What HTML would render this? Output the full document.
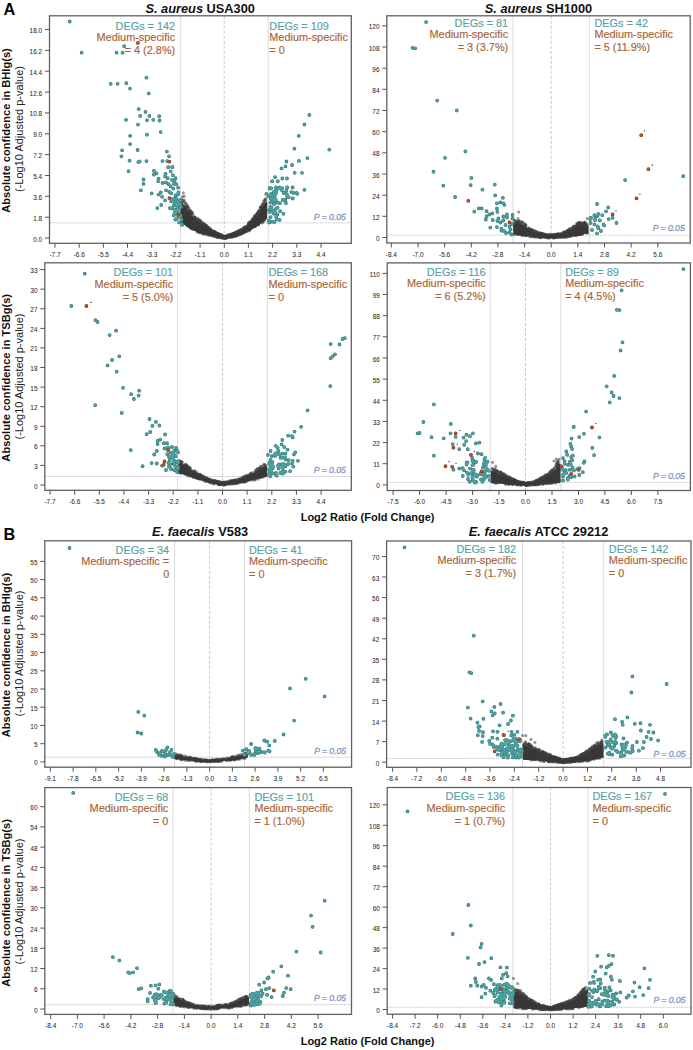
<!DOCTYPE html>
<html><head><meta charset="utf-8"><style>
html,body{margin:0;padding:0;background:#fff;width:693px;height:1050px;overflow:hidden}
svg{display:block}
text{font-family:"Liberation Sans", sans-serif}
</style></head><body>
<svg width="693" height="1050" viewBox="0 0 693 1050">
<g>
<clipPath id="cA1"><rect x="49.5" y="15.8" width="301.8" height="227.5"/></clipPath>
<g clip-path="url(#cA1)">
<line x1="180.3" y1="15.8" x2="180.3" y2="243.3" stroke="#dadada" stroke-width="1"/>
<line x1="268.2" y1="15.8" x2="268.2" y2="243.3" stroke="#dadada" stroke-width="1"/>
<line x1="224.2" y1="15.8" x2="224.2" y2="243.3" stroke="#c8c8c8" stroke-width="1" stroke-dasharray="3,2"/>
<line x1="49.5" y1="222.9" x2="351.3" y2="222.9" stroke="#d2d2d2" stroke-width="1" stroke-dasharray="2,0.6"/>
<text x="175.2" y="29.5" fill="#56a2a8" font-size="10.9" text-anchor="end" stroke="#56a2a8" stroke-width="0.15">DEGs = 142</text>
<text x="175.2" y="40.9" fill="#a76436" font-size="10.9" text-anchor="end" stroke="#a76436" stroke-width="0.15">Medium-specific</text>
<text x="175.2" y="53.9" fill="#a76436" font-size="10.9" text-anchor="end" stroke="#a76436" stroke-width="0.15">= 4 (2.8%)</text>
<text x="269.3" y="29.5" fill="#56a2a8" font-size="10.9" stroke="#56a2a8" stroke-width="0.15">DEGs = 109</text>
<text x="269.3" y="40.9" fill="#a76436" font-size="10.9" stroke="#a76436" stroke-width="0.15">Medium-specific</text>
<text x="269.3" y="53.9" fill="#a76436" font-size="10.9" stroke="#a76436" stroke-width="0.15">= 0</text>
<text x="345.8" y="219.5" fill="#889dc4" stroke="#889dc4" stroke-width="0.35" font-size="8.6" font-style="italic" text-anchor="end">P = 0.05</text>
<path d="M180.3 199.7 L180.6 200.0 L180.8 200.3 L181.1 200.7 L181.3 201.0 L182.4 202.7 L183.6 204.4 L184.7 206.1 L185.8 207.8 L187.1 209.6 L188.4 211.5 L189.7 213.4 L191.0 215.2 L193.2 217.1 L195.3 219.0 L197.4 220.9 L199.6 222.9 L201.8 224.3 L203.9 225.8 L206.1 227.3 L208.3 228.8 L209.6 229.6 L210.9 230.3 L212.2 231.1 L213.5 231.9 L214.4 232.4 L215.2 232.9 L216.1 233.4 L217.0 233.9 L218.9 234.6 L220.8 235.4 L222.8 236.1 L224.7 236.9 L227.1 236.1 L229.5 235.3 L231.9 234.5 L234.3 233.7 L235.2 233.4 L236.0 233.0 L236.8 232.6 L237.7 232.3 L239.0 231.6 L240.3 231.0 L241.7 230.3 L243.0 229.7 L245.2 227.8 L247.3 225.9 L249.4 224.0 L251.6 222.1 L253.3 220.1 L255.1 218.2 L256.8 216.2 L258.5 214.2 L259.4 212.8 L260.2 211.3 L261.1 209.8 L262.0 208.4 L262.4 207.6 L262.9 206.9 L263.3 206.2 L263.7 205.4 L264.6 204.3 L265.4 203.1 L266.3 201.9 L267.2 200.7 L267.2 218.4 L266.3 219.1 L265.4 219.8 L264.6 220.6 L263.7 221.3 L263.3 221.6 L262.9 222.0 L262.4 222.3 L262.0 222.7 L261.1 223.3 L260.2 223.9 L259.4 224.4 L258.5 225.0 L256.8 226.2 L255.1 227.3 L253.3 228.5 L251.6 229.6 L249.4 230.5 L247.3 231.5 L245.2 232.4 L243.0 233.4 L241.7 234.0 L240.3 234.5 L239.0 235.1 L237.7 235.7 L236.8 235.9 L236.0 236.0 L235.2 236.2 L234.3 236.4 L231.9 236.9 L229.5 237.3 L227.1 237.8 L224.7 238.3 L222.8 238.0 L220.8 237.7 L218.9 237.4 L217.0 237.1 L216.1 236.9 L215.2 236.8 L214.4 236.6 L213.5 236.5 L212.2 236.2 L210.9 235.9 L209.6 235.5 L208.3 235.2 L206.1 234.7 L203.9 234.2 L201.8 233.6 L199.6 233.1 L197.4 232.2 L195.3 231.3 L193.2 230.5 L191.0 229.6 L189.7 228.7 L188.4 227.8 L187.1 226.8 L185.8 225.9 L184.7 225.1 L183.6 224.3 L182.4 223.5 L181.3 222.7 L181.1 222.7 L180.8 222.7 L180.6 222.7 L180.3 222.7Z" fill="#3b3b3b"/><path d="M243.8 228.2h0M254.5 220.4h0M243.6 229.8h0M233.4 233.4h0M209.1 229.7h0M252.2 220.3h0M208.1 227.8h0M183.1 218.9h0M249.7 222.0h0M240.4 231.8h0M234.4 233.1h0M235.7 233.1h0M188.5 217.1h0M193.4 227.1h0M206.0 227.2h0M263.3 209.7h0M229.1 236.0h0M250.4 221.7h0M239.6 233.2h0M213.2 233.5h0M244.1 228.3h0M203.4 232.6h0M263.3 218.3h0M229.6 237.0h0M209.1 231.2h0M198.0 229.3h0M264.5 203.0h0M246.2 228.9h0M237.8 233.9h0M233.5 233.9h0M263.2 209.1h0M195.8 222.8h0M205.5 226.9h0M265.1 199.8h0M264.2 203.2h0M220.0 236.6h0M247.8 226.1h0M258.9 211.7h0M228.0 236.0h0M246.5 230.1h0M217.6 235.5h0M199.5 223.6h0M241.4 231.1h0M202.5 228.8h0M196.4 219.6h0M227.7 235.7h0M200.1 222.8h0M258.8 217.9h0M249.3 226.5h0M186.5 217.7h0M197.1 227.9h0M250.5 225.1h0M249.2 226.9h0M241.8 230.8h0M194.2 217.5h0M262.2 210.3h0M194.8 217.2h0M220.5 234.5h0M249.1 228.6h0M243.3 231.3h0M196.7 224.8h0M224.7 237.0h0M237.3 232.9h0M194.9 218.1h0M198.2 219.0h0M192.0 212.4h0M191.9 214.5h0M264.9 200.1h0M193.6 222.9h0M262.6 209.6h0M216.1 234.6h0M243.4 230.0h0M226.0 237.5h0M200.2 223.1h0M208.9 234.8h0M260.4 207.5h0M255.8 214.4h0M241.8 233.2h0M237.7 232.0h0M189.1 208.2h0M245.4 230.5h0M223.7 237.8h0M261.9 218.4h0M200.2 225.0h0M218.2 235.4h0M185.1 216.0h0M251.7 221.4h0M220.0 234.9h0M246.0 227.0h0M184.9 213.6h0M213.7 231.7h0M265.4 204.1h0M214.7 231.6h0M208.7 231.7h0M231.8 237.0h0M205.2 226.8h0M229.3 235.1h0M234.9 236.0h0M195.6 220.2h0M214.6 234.4h0M256.9 218.0h0M234.5 233.9h0M207.6 231.3h0M223.2 236.4h0M240.3 231.2h0M201.5 229.8h0M246.7 228.0h0M242.0 232.0h0M192.1 222.0h0M234.9 234.6h0M209.4 235.3h0M264.4 211.0h0M208.8 235.3h0M256.9 221.1h0M186.4 212.2h0M183.8 218.5h0M226.1 236.2h0M241.1 232.8h0M211.4 233.6h0M190.4 225.4h0M208.6 228.8h0M261.6 215.9h0M253.9 220.5h0M232.3 234.8h0M243.9 231.1h0M260.7 209.0h0M254.6 224.6h0M227.9 235.3h0M214.3 231.7h0M217.9 237.4h0M192.4 227.3h0M193.9 219.2h0M205.6 225.7h0M216.9 235.7h0M217.0 235.4h0M238.0 233.8h0M263.5 201.6h0M199.9 220.2h0M202.9 224.3h0M226.8 236.6h0M247.2 229.4h0M263.5 209.5h0M194.7 221.4h0M190.9 212.1h0M244.0 231.3h0M227.8 236.6h0M263.2 221.7h0M225.1 236.6h0M188.7 207.5h0M228.2 235.2h0M259.0 223.1h0M191.3 213.8h0M226.8 235.9h0M214.3 232.0h0M214.3 233.1h0M230.1 236.4h0M222.6 237.4h0M261.8 208.0h0M257.5 213.1h0M226.9 237.3h0M254.1 217.9h0M212.1 230.7h0M190.8 211.6h0M237.8 235.4h0M226.0 237.2h0M192.9 223.9h0M231.4 234.7h0M183.5 222.9h0M251.9 224.7h0M201.3 222.4h0M203.0 223.7h0M202.2 230.4h0M210.1 229.4h0M258.8 222.0h0M193.0 217.7h0M210.9 235.5h0M200.3 231.9h0M220.3 235.5h0M196.1 219.7h0" stroke="#383838" stroke-opacity="0.55" stroke-width="3.1" stroke-linecap="round" fill="none"/><path d="M243.8 229.1h0M234.3 234.9h0M218.7 234.1h0M203.1 233.9h0M198.3 225.5h0M241.6 229.4h0M264.5 209.6h0M219.9 237.6h0M239.3 233.9h0M233.4 233.9h0M213.3 232.6h0M199.5 220.8h0M228.0 235.6h0M225.1 236.7h0M235.5 233.9h0M229.9 236.7h0M239.9 234.5h0M221.8 236.9h0M211.5 231.3h0M226.2 237.7h0M257.8 220.3h0M251.8 224.6h0M224.2 236.6h0M197.1 228.1h0M225.0 237.3h0M224.8 238.5h0M203.3 223.6h0M242.6 233.2h0M237.2 233.1h0M203.2 228.7h0M265.6 204.7h0M233.1 236.5h0M206.5 234.8h0M187.7 207.3h0M232.5 236.4h0M230.7 235.8h0M211.9 233.9h0M184.8 222.9h0M213.0 233.0h0M217.4 235.9h0M189.7 210.9h0M188.4 219.8h0M259.1 210.5h0M212.4 233.5h0M255.9 222.4h0M188.6 225.3h0M225.6 236.5h0M251.3 222.8h0M217.0 236.4h0M191.2 216.7h0M201.4 224.2h0M203.5 224.0h0M226.1 236.8h0M194.8 227.7h0M181.6 199.3h0M253.9 223.9h0M207.8 231.9h0M251.6 222.7h0M233.6 235.4h0M261.4 212.0h0M252.2 222.6h0M246.3 226.2h0M183.1 213.3h0M257.8 217.2h0M234.5 235.6h0M193.0 214.4h0M205.9 225.7h0M237.1 234.3h0M229.6 236.8h0M221.2 236.4h0M229.3 234.8h0M245.0 230.3h0M207.4 230.9h0M229.4 234.8h0M257.1 214.8h0M221.4 237.2h0M198.6 223.1h0M240.3 230.1h0M213.0 231.9h0M218.7 235.2h0M205.1 228.2h0M228.5 235.8h0M247.4 229.9h0M223.7 238.3h0M203.7 225.0h0M234.0 234.5h0M186.7 215.6h0M184.8 217.6h0M200.9 229.4h0M236.4 235.8h0M199.7 227.6h0M254.4 224.7h0M241.9 232.4h0M188.5 209.0h0M207.9 230.9h0M215.7 234.7h0M263.9 213.4h0M217.6 235.4h0M201.8 232.1h0M186.8 215.9h0M203.6 226.2h0M216.2 234.8h0M264.1 216.7h0M227.8 236.0h0M263.0 205.1h0M209.0 233.6h0M195.2 217.1h0M209.7 229.4h0M238.1 234.3h0M260.4 207.5h0M227.3 236.5h0M240.1 231.8h0M229.3 237.0h0M188.1 222.3h0M237.0 232.9h0M191.5 227.8h0M248.4 224.8h0M258.4 224.7h0M258.0 220.0h0M211.1 232.4h0M190.7 210.6h0M197.0 225.7h0M224.2 236.9h0M225.0 238.4h0M243.8 227.8h0M248.9 226.1h0M205.1 227.4h0M248.8 229.2h0M233.6 233.3h0M210.2 232.9h0M261.0 211.8h0M217.4 233.6h0M205.7 225.9h0M218.8 233.7h0M250.8 221.8h0M257.4 213.0h0M265.4 209.8h0M199.2 227.0h0M243.3 229.2h0M190.9 214.1h0M216.5 236.8h0M215.8 233.7h0M183.9 220.5h0M209.3 231.1h0M212.6 233.1h0M200.3 231.5h0M231.6 233.9h0M186.0 222.8h0M251.8 225.6h0M235.5 236.2h0M247.5 227.7h0M237.8 232.9h0M191.9 213.8h0M190.4 214.1h0M252.7 224.5h0M186.9 207.6h0M245.1 231.7h0M249.6 229.4h0M239.7 232.9h0M206.3 231.7h0M233.0 234.7h0M201.2 227.1h0M237.0 235.6h0M184.0 208.6h0M223.7 237.7h0M209.9 229.9h0M233.3 234.4h0M251.6 222.4h0M209.9 232.5h0M196.3 228.7h0M197.1 227.7h0M216.5 232.5h0M213.6 234.5h0M198.9 220.4h0M256.1 217.0h0M207.4 233.0h0M207.6 228.1h0M253.0 223.0h0M199.4 232.7h0" stroke="#383838" stroke-opacity="0.55" stroke-width="3.1" stroke-linecap="round" fill="none"/><path d="M248.5 223.5h0M230.7 235.2h0M188.6 211.4h0M206.9 228.2h0M249.6 222.4h0M204.9 232.1h0M187.8 226.3h0M251.6 226.7h0M221.6 237.3h0M214.8 232.2h0M255.8 216.5h0M264.4 200.2h0M222.7 238.1h0M252.5 221.4h0M252.8 222.3h0M226.8 236.7h0M227.0 236.8h0M197.7 222.6h0M190.4 214.3h0M198.8 223.3h0M208.1 227.2h0M248.2 229.8h0M224.0 236.6h0M252.5 218.7h0M232.3 237.0h0M257.0 215.1h0M244.4 228.2h0M210.4 231.8h0M226.5 237.0h0M185.8 219.7h0M249.9 229.5h0M261.4 214.4h0M202.2 233.1h0M217.8 235.1h0M234.2 234.6h0M247.2 227.2h0M239.4 232.1h0M204.4 229.1h0M199.3 227.4h0M249.9 226.5h0M188.1 224.9h0M242.8 229.9h0M258.7 217.7h0M214.9 234.4h0M183.4 209.1h0M243.8 228.2h0M214.8 234.6h0M253.6 219.0h0M244.1 227.4h0M247.1 230.0h0M231.8 236.1h0M258.8 218.9h0M204.7 224.0h0M208.7 232.7h0M253.0 219.6h0M248.2 227.3h0M187.9 219.3h0M182.5 211.5h0M213.3 232.8h0M242.7 231.7h0M189.1 222.3h0M214.1 234.4h0M210.4 230.5h0M211.3 232.0h0M188.5 221.3h0M227.4 236.3h0M201.9 226.0h0M238.2 231.9h0M225.4 237.6h0M234.2 233.8h0M225.9 236.9h0M231.6 236.8h0M201.4 232.4h0M189.8 212.5h0M215.1 234.6h0M206.5 225.9h0M197.7 219.3h0M219.1 237.2h0M256.2 218.3h0M226.4 238.1h0M197.2 218.6h0M211.9 231.3h0M232.9 235.8h0M231.9 234.5h0M187.6 207.1h0M203.9 227.1h0M212.3 234.5h0M256.7 223.7h0M228.1 237.0h0M210.5 230.3h0M197.0 222.9h0M213.9 236.1h0M212.0 234.9h0M209.0 228.9h0M227.5 237.5h0M254.7 224.2h0M238.2 231.2h0M186.6 216.1h0M210.4 232.1h0M186.1 213.1h0M197.2 224.2h0M204.8 225.5h0M197.8 228.1h0M228.9 235.2h0M195.0 220.3h0M224.9 238.1h0M255.0 226.5h0M252.7 219.9h0M197.1 231.9h0M185.6 207.8h0M213.1 234.1h0M249.1 229.1h0M234.3 235.3h0M222.4 235.2h0M204.9 224.6h0M211.8 230.7h0M215.2 232.5h0M230.2 236.5h0M189.5 220.3h0M182.3 208.0h0M217.8 233.3h0M265.1 215.7h0M191.1 213.6h0M234.5 234.6h0M215.5 232.3h0M265.5 217.7h0M187.7 213.9h0M212.4 235.4h0M187.6 205.6h0M234.7 235.2h0M211.7 234.4h0M216.1 234.5h0M238.7 232.9h0M206.3 227.6h0M231.4 235.2h0M183.5 206.5h0M251.5 222.8h0M193.6 222.7h0M191.6 220.0h0M207.0 229.7h0M199.9 226.4h0M254.5 216.5h0M206.9 225.9h0M236.8 232.0h0M221.8 236.7h0M212.9 234.0h0M212.4 232.0h0M202.8 230.0h0M208.3 228.1h0M260.5 210.6h0M245.0 229.9h0M191.1 226.5h0M221.4 237.9h0M195.6 221.3h0M230.8 235.5h0M213.4 231.8h0M207.4 227.2h0M247.8 229.2h0M261.9 208.7h0M192.6 220.5h0M243.5 230.1h0M212.8 231.4h0M257.7 223.6h0M264.5 205.1h0M241.1 232.0h0M260.8 206.8h0M260.4 221.7h0M225.4 236.9h0M182.8 202.3h0M202.9 227.7h0M207.0 231.3h0M212.8 233.7h0M231.6 234.5h0M262.7 203.9h0M261.7 213.4h0M191.9 219.3h0M259.6 215.5h0M197.6 218.4h0M200.1 222.4h0" stroke="#383838" stroke-opacity="0.55" stroke-width="3.1" stroke-linecap="round" fill="none"/><path d="M211.2 230.8h0M188.3 213.0h0M184.0 207.9h0M198.6 229.6h0M255.9 221.1h0M219.6 236.4h0M255.3 226.5h0M193.4 229.4h0M182.4 208.9h0M258.1 223.6h0M261.3 213.8h0M226.9 236.0h0M249.9 229.6h0M261.4 213.1h0M207.8 231.3h0M232.6 236.8h0M262.4 204.6h0M259.7 221.4h0M191.9 219.5h0M235.5 233.9h0M199.9 220.1h0M215.5 233.2h0M197.5 230.7h0M259.8 222.0h0M240.7 230.3h0M241.0 230.0h0M250.3 225.9h0M182.4 211.9h0M266.0 204.0h0M213.2 235.7h0M232.0 234.3h0M226.0 236.7h0M194.7 218.2h0M263.7 214.8h0M198.7 231.7h0M265.8 198.5h0M231.5 234.9h0M234.2 236.1h0M244.4 227.8h0M236.7 231.6h0M229.2 236.0h0M205.4 232.6h0M249.4 227.5h0M198.0 223.5h0M227.5 236.3h0M188.7 213.6h0M263.3 207.1h0M252.0 220.3h0M213.2 235.2h0M186.8 214.7h0M197.1 226.9h0M227.8 235.3h0M237.1 234.6h0M255.0 220.5h0M188.5 220.6h0M259.0 222.8h0M221.0 235.4h0M241.5 232.7h0M206.7 231.1h0M251.4 228.5h0M194.8 228.3h0M216.3 237.1h0M190.5 220.6h0M193.5 217.6h0M230.2 235.1h0M228.8 236.7h0M251.7 227.2h0M213.7 232.7h0M229.5 236.4h0M245.6 227.3h0M218.0 233.6h0M192.0 220.7h0M258.5 211.4h0M192.0 219.1h0M231.0 237.1h0M257.3 222.5h0M185.7 222.2h0M200.4 228.5h0M200.9 228.8h0M232.2 235.8h0M265.0 219.1h0M247.7 227.0h0M218.7 234.3h0M229.9 234.7h0M229.6 235.7h0M189.0 210.7h0M263.5 220.1h0M214.7 234.8h0M220.5 234.6h0M254.5 220.1h0M195.3 227.1h0M239.9 232.8h0M260.6 216.3h0M225.4 238.2h0M241.2 232.7h0M206.2 230.8h0M199.8 223.4h0M209.2 231.0h0M194.2 220.2h0M231.0 235.5h0M233.5 233.2h0M255.8 221.2h0M239.0 233.9h0M263.4 213.4h0M223.0 236.5h0M186.8 224.3h0M203.0 227.4h0M229.5 236.1h0M231.0 234.2h0M191.5 228.6h0M249.1 223.4h0M196.3 229.4h0M200.7 226.4h0M198.6 220.3h0M254.6 216.1h0M207.7 230.1h0M251.4 221.9h0M214.3 234.2h0M244.2 231.5h0M215.6 235.0h0M200.1 227.0h0M235.1 234.6h0M239.8 232.4h0M231.6 234.9h0M192.2 212.4h0M255.0 218.3h0M248.0 226.9h0M184.6 214.7h0M199.0 223.5h0M232.5 234.4h0M265.6 203.7h0M224.3 236.2h0M260.4 216.2h0M238.3 234.1h0M189.9 210.9h0M221.1 236.5h0M240.7 229.6h0M244.2 232.4h0M182.8 200.4h0M192.0 218.7h0M228.7 236.2h0M216.4 237.1h0M235.8 232.6h0M261.5 211.8h0M217.9 235.2h0M222.4 237.3h0M212.7 234.0h0M248.7 226.9h0M248.1 225.7h0M230.5 237.4h0M219.3 235.7h0M207.7 226.7h0M218.0 235.6h0M198.6 226.9h0M264.4 212.3h0M218.1 234.6h0M184.5 206.4h0M198.3 224.2h0M206.1 226.2h0M204.5 230.6h0M237.3 231.6h0M261.2 213.1h0M229.3 237.1h0M253.8 219.0h0M222.6 237.9h0M261.8 205.7h0M225.4 236.1h0M245.5 227.0h0M203.7 227.0h0M247.7 228.3h0M242.9 230.0h0M258.5 211.1h0M221.7 235.4h0M210.4 228.7h0M213.0 235.4h0M227.2 236.4h0M195.0 224.8h0M264.1 220.2h0" stroke="#383838" stroke-opacity="0.55" stroke-width="3.1" stroke-linecap="round" fill="none"/><path d="M257.6 213.6h0M265.4 200.4h0M222.1 237.2h0M258.0 215.6h0M230.8 236.1h0M199.6 226.7h0M241.4 231.1h0M234.7 234.5h0M241.8 232.9h0M260.3 211.3h0M236.5 235.0h0M208.6 227.6h0M249.1 228.9h0M261.7 220.6h0M252.9 219.0h0M263.4 209.8h0M204.2 228.5h0M247.3 231.4h0M202.7 230.9h0M253.4 221.1h0M256.5 224.0h0M183.0 216.9h0M190.5 228.1h0M186.7 204.9h0M196.8 224.1h0M234.7 234.7h0M257.3 213.9h0M235.5 233.5h0M240.8 230.6h0M202.7 223.2h0M185.3 203.0h0M212.4 234.0h0M214.5 231.5h0M225.7 236.1h0M226.1 237.8h0M243.5 231.7h0M245.2 231.0h0M227.3 237.8h0M187.8 223.6h0M209.0 230.5h0M239.4 233.4h0M211.7 230.8h0M208.3 231.4h0M248.9 225.9h0M263.2 207.7h0M193.7 217.3h0M223.2 236.7h0M262.4 209.1h0M198.8 225.9h0M230.9 234.3h0M196.1 219.3h0M222.3 237.3h0M182.4 208.9h0M235.3 232.3h0M242.0 233.3h0M251.3 227.2h0M211.9 231.1h0M229.2 236.1h0M214.6 232.8h0M193.4 228.2h0M215.9 236.5h0M215.4 233.0h0M224.5 236.6h0M264.9 207.9h0M209.3 228.0h0M258.3 211.3h0M227.8 237.6h0M249.4 230.5h0M235.7 236.1h0M222.5 235.3h0M208.6 234.8h0M224.0 237.3h0M237.8 231.6h0M261.9 223.0h0M184.1 201.7h0M252.3 224.8h0M242.8 231.7h0M241.5 232.9h0M259.8 212.9h0M202.7 224.2h0M220.5 235.1h0M224.2 236.4h0M248.0 224.8h0M196.7 228.8h0M248.4 228.7h0M196.0 226.6h0M222.9 236.0h0M217.4 236.9h0M212.3 233.6h0M256.4 219.7h0M199.6 226.0h0M204.7 234.2h0M246.2 226.9h0M214.8 235.2h0M242.8 230.0h0M199.7 232.4h0M237.8 231.2h0M205.1 232.4h0M240.8 231.5h0M209.0 232.9h0M212.1 232.0h0M258.4 224.4h0M181.6 206.0h0M210.8 229.2h0M212.7 234.1h0M190.1 214.4h0M248.8 227.1h0M241.2 231.0h0M263.5 217.6h0M205.7 226.9h0M205.5 230.0h0M260.4 218.5h0M212.4 234.2h0M222.4 236.8h0M219.0 234.2h0M182.4 216.0h0M264.8 217.2h0M237.0 232.2h0M244.3 229.5h0M226.9 235.6h0M241.2 233.2h0M235.9 235.1h0M237.7 233.6h0M260.2 220.5h0M223.0 237.4h0M202.7 224.2h0M201.9 223.7h0M254.6 217.6h0M255.6 217.6h0M196.8 229.3h0M243.7 230.9h0M210.8 230.4h0M244.3 229.2h0M216.3 236.3h0M189.0 219.2h0M220.8 236.6h0M187.1 215.0h0M195.6 220.4h0M261.3 207.0h0M192.5 227.9h0M253.4 226.9h0M194.5 217.1h0M185.4 214.0h0M223.8 236.1h0M185.7 205.5h0M244.8 229.4h0M233.0 234.5h0M254.2 222.6h0M186.3 207.8h0M243.8 230.5h0M191.5 222.6h0M228.8 235.0h0M238.5 231.0h0M195.3 224.7h0M240.4 233.2h0M228.8 234.9h0M229.5 235.7h0M233.0 236.3h0M242.9 231.9h0M205.0 228.5h0M247.0 229.4h0M229.3 236.4h0M265.1 212.0h0M225.5 238.1h0M222.6 236.5h0M254.1 217.3h0M184.2 220.7h0M181.6 219.9h0M226.0 237.3h0M201.6 225.0h0M248.3 226.3h0M214.2 235.7h0M182.7 208.6h0M193.5 217.6h0M204.6 224.3h0M245.9 228.3h0M229.5 236.5h0M245.9 229.1h0" stroke="#383838" stroke-opacity="0.55" stroke-width="3.1" stroke-linecap="round" fill="none"/><path d="M216.7 233.4h0M243.0 231.2h0M240.5 231.9h0M218.8 234.0h0M193.0 220.6h0M234.4 234.4h0M207.6 227.8h0M234.7 233.7h0M204.5 230.0h0M192.5 220.9h0M242.5 229.5h0M253.8 223.5h0M209.8 229.2h0M200.2 225.6h0M199.1 221.0h0M215.3 232.5h0M192.2 221.1h0M197.9 228.2h0M226.3 237.0h0M253.9 224.8h0M201.7 224.3h0M239.2 230.8h0M228.1 236.2h0M220.5 235.1h0M244.0 230.5h0M232.2 235.1h0M240.2 230.8h0M201.1 221.6h0M264.3 220.1h0M228.0 236.3h0M195.0 222.5h0M236.9 233.3h0M244.7 232.3h0M242.6 231.1h0M218.9 234.8h0M191.1 212.8h0M202.5 222.4h0M188.8 213.0h0M249.9 224.4h0M244.5 227.3h0M247.0 231.0h0M212.5 235.3h0M260.5 208.6h0M252.2 222.9h0M249.5 229.9h0M236.3 234.8h0M242.4 230.0h0M225.8 236.5h0M206.2 225.3h0M184.6 221.1h0M207.8 229.9h0M185.7 203.3h0M212.9 231.1h0M204.0 227.7h0M222.1 236.5h0M227.4 236.4h0M190.4 220.3h0M182.4 196.8h0M203.2 231.1h0M238.8 231.8h0M259.3 217.0h0M264.5 203.3h0M251.2 223.4h0M242.0 229.7h0M212.0 232.6h0M250.6 224.0h0M184.2 218.6h0M198.4 225.1h0M238.2 234.7h0M252.3 220.1h0M242.8 229.0h0M185.9 208.6h0M217.1 233.6h0M202.1 229.4h0M207.5 230.1h0M221.4 237.3h0M257.6 213.6h0M196.8 227.4h0M204.9 227.3h0M188.9 220.7h0M214.0 231.1h0M239.3 232.3h0M201.4 226.8h0M183.0 209.1h0M193.9 224.3h0M195.0 219.3h0M264.8 216.1h0M184.4 200.2h0M264.4 206.7h0M214.7 232.0h0M207.6 230.6h0M196.9 227.1h0M258.1 224.9h0M184.9 220.2h0M193.9 226.3h0M183.6 206.7h0M254.9 223.9h0M215.5 234.2h0M240.7 234.5h0M183.5 213.4h0M261.1 209.2h0M193.0 220.4h0M214.8 235.2h0M208.0 228.6h0M244.8 229.1h0M191.0 219.9h0M242.0 232.4h0M251.7 221.3h0M239.6 232.7h0M265.5 216.1h0M233.7 233.7h0M222.8 237.8h0M185.8 223.6h0M249.7 226.4h0M242.8 232.5h0M262.6 222.0h0M261.8 214.1h0M212.3 231.7h0M239.0 234.2h0M198.8 220.3h0M204.6 226.7h0M233.6 233.4h0M214.0 235.0h0M221.1 234.7h0M252.5 221.8h0M219.9 235.6h0M253.8 219.2h0M191.4 225.3h0M198.2 222.3h0M240.1 232.2h0M207.7 231.0h0M201.4 225.7h0M219.4 237.3h0M257.2 221.7h0M213.1 231.6h0M238.2 232.5h0M215.4 233.2h0M234.1 233.7h0M183.5 213.3h0M224.8 237.7h0M253.3 226.2h0M243.6 229.2h0M188.1 220.5h0M214.8 234.8h0M186.7 213.1h0M182.3 210.4h0M208.1 230.4h0M205.6 227.4h0M185.6 209.6h0M238.9 230.6h0M243.6 232.8h0M199.3 226.5h0M223.2 236.3h0M231.5 235.2h0M203.6 225.5h0M258.4 217.8h0M209.6 234.1h0M246.1 227.8h0M202.6 233.6h0M255.3 224.6h0M186.1 204.2h0M201.1 221.5h0M255.2 226.2h0M226.0 237.7h0M263.7 208.5h0M183.2 209.5h0M254.9 216.0h0M248.6 223.0h0M238.5 233.0h0M203.5 227.6h0M188.1 210.5h0M248.2 224.7h0M213.6 236.1h0M261.4 218.6h0M187.6 221.7h0M261.5 220.9h0M248.5 223.1h0M185.9 220.7h0" stroke="#383838" stroke-opacity="0.55" stroke-width="3.1" stroke-linecap="round" fill="none"/><path d="M183.3 192.9h0M184.2 196.4h0" stroke="#555" stroke-opacity="0.6" stroke-width="3.2" stroke-linecap="round" fill="none"/><path d="M69.7 21.5h0M81.7 52.7h0M116.5 52.7h0M122.6 52.7h0M124.2 46.2h0M146.4 77.7h0M110.7 83.8h0M117.6 83.8h0M126.3 83.2h0M130.0 88.6h0M148.8 93.4h0M138.7 109.1h0M145.5 111.9h0M140.2 115.9h0M149.4 115.9h0M159.2 116.2h0M126.0 119.8h0M147.0 120.3h0M153.2 119.8h0M159.5 120.5h0M138.0 124.6h0M160.7 132.1h0M130.1 135.8h0M147.0 134.7h0M130.1 144.1h0M122.1 150.3h0M137.6 150.0h0M166.9 151.6h0M121.4 156.3h0M169.0 156.3h0M129.6 160.7h0M138.3 162.1h0M139.7 161.4h0M146.5 161.1h0M162.5 161.1h0M128.6 171.2h0M167.2 161.1h0M168.3 167.2h0M172.2 167.2h0M168.1 167.4h0M172.5 166.9h0M153.9 170.8h0M170.7 171.3h0M156.5 173.4h0M153.9 174.7h0M165.5 173.9h0M172.9 175.2h0M165.1 176.5h0M143.5 179.5h0M158.6 178.6h0M167.7 178.2h0M175.5 178.2h0M158.2 181.2h0M172.0 179.9h0M174.6 180.8h0M143.5 183.8h0M162.5 182.9h0M166.0 182.5h0M168.6 184.2h0M173.8 183.8h0M176.4 184.2h0M170.7 186.4h0M173.3 188.6h0M178.1 187.7h0M140.9 190.3h0M166.0 190.3h0M151.7 193.3h0M158.6 194.6h0M160.8 192.5h0M169.4 192.0h0M171.2 193.3h0M162.1 196.8h0M175.5 195.5h0M178.1 194.6h0M165.1 200.3h0M172.9 199.8h0M176.4 199.0h0M179.8 200.7h0M174.6 203.3h0M178.1 203.3h0M161.2 205.0h0M157.3 208.1h0M169.9 208.1h0M173.8 205.5h0M177.2 206.8h0M179.8 208.5h0M174.6 212.8h0M173.8 215.4h0M178.1 213.7h0M176.4 218.9h0M179.0 222.3h0M180.7 216.3h0M309.4 114.9h0M304.4 124.5h0M298.8 135.8h0M294.4 148.7h0M329.3 149.6h0M307.4 158.1h0M298.9 160.9h0M286.4 161.5h0M292.1 165.0h0M285.5 166.4h0M281.5 168.4h0M294.7 172.8h0M302.0 172.8h0M275.1 177.2h0M282.3 178.5h0M287.0 178.5h0M272.3 181.2h0M277.8 181.2h0M269.8 187.9h0M276.0 187.5h0M279.6 187.5h0M287.2 187.5h0M292.5 187.5h0M304.4 189.8h0M271.9 181.3h0M277.9 181.3h0M269.7 188.7h0M275.8 188.2h0M280.1 187.8h0M276.2 191.3h0M287.0 187.4h0M292.7 187.4h0M291.4 192.1h0M296.6 193.0h0M283.6 193.0h0M287.0 194.7h0M266.3 193.9h0M271.0 193.9h0M288.8 197.3h0M282.7 199.9h0M285.3 199.9h0M273.2 198.2h0M275.8 199.9h0M270.6 202.5h0M277.5 202.5h0M274.0 204.2h0M271.5 207.7h0M277.5 207.7h0M280.1 211.2h0M269.7 212.0h0M273.5 212.0h0M277.5 214.6h0M270.6 217.2h0M276.6 219.0h0M272.3 221.6h0M268.9 220.7h0M175.4 210.0h0M181.1 206.8h0M176.1 211.0h0M172.2 208.4h0M177.6 218.0h0M171.1 201.3h0M178.3 192.4h0M181.8 223.8h0M177.8 211.9h0M172.3 199.2h0M175.3 219.6h0M176.2 212.8h0M176.0 213.5h0M175.5 200.5h0M182.0 224.9h0M180.1 215.1h0M173.8 198.8h0M179.2 204.6h0M180.2 204.1h0M181.5 219.8h0M180.9 207.0h0M179.3 200.2h0M270.8 198.6h0M271.8 195.4h0M271.2 188.3h0M293.5 192.8h0M285.9 203.0h0M274.1 213.8h0M272.2 210.5h0M271.7 202.0h0M274.8 196.3h0M277.7 219.6h0M274.7 201.0h0M274.8 195.8h0M292.7 198.5h0M277.5 188.8h0M270.9 208.1h0M275.8 208.8h0M279.9 203.2h0M273.9 191.9h0M276.0 193.2h0M274.3 222.1h0M281.5 189.9h0M269.2 222.6h0M275.6 212.8h0M276.2 217.3h0M287.1 197.2h0M273.6 213.4h0M270.2 194.7h0M287.7 196.6h0M297.4 193.8h0M268.5 196.2h0M282.3 188.3h0M273.6 200.0h0M286.3 191.0h0M279.6 219.9h0M268.6 220.6h0M268.7 210.2h0M283.4 213.8h0M270.4 206.8h0" stroke="#3a7775" stroke-width="3.80" stroke-linecap="round" fill="none"/><path d="M69.7 21.5h0M81.7 52.7h0M116.5 52.7h0M122.6 52.7h0M124.2 46.2h0M146.4 77.7h0M110.7 83.8h0M117.6 83.8h0M126.3 83.2h0M130.0 88.6h0M148.8 93.4h0M138.7 109.1h0M145.5 111.9h0M140.2 115.9h0M149.4 115.9h0M159.2 116.2h0M126.0 119.8h0M147.0 120.3h0M153.2 119.8h0M159.5 120.5h0M138.0 124.6h0M160.7 132.1h0M130.1 135.8h0M147.0 134.7h0M130.1 144.1h0M122.1 150.3h0M137.6 150.0h0M166.9 151.6h0M121.4 156.3h0M169.0 156.3h0M129.6 160.7h0M138.3 162.1h0M139.7 161.4h0M146.5 161.1h0M162.5 161.1h0M128.6 171.2h0M167.2 161.1h0M168.3 167.2h0M172.2 167.2h0M168.1 167.4h0M172.5 166.9h0M153.9 170.8h0M170.7 171.3h0M156.5 173.4h0M153.9 174.7h0M165.5 173.9h0M172.9 175.2h0M165.1 176.5h0M143.5 179.5h0M158.6 178.6h0M167.7 178.2h0M175.5 178.2h0M158.2 181.2h0M172.0 179.9h0M174.6 180.8h0M143.5 183.8h0M162.5 182.9h0M166.0 182.5h0M168.6 184.2h0M173.8 183.8h0M176.4 184.2h0M170.7 186.4h0M173.3 188.6h0M178.1 187.7h0M140.9 190.3h0M166.0 190.3h0M151.7 193.3h0M158.6 194.6h0M160.8 192.5h0M169.4 192.0h0M171.2 193.3h0M162.1 196.8h0M175.5 195.5h0M178.1 194.6h0M165.1 200.3h0M172.9 199.8h0M176.4 199.0h0M179.8 200.7h0M174.6 203.3h0M178.1 203.3h0M161.2 205.0h0M157.3 208.1h0M169.9 208.1h0M173.8 205.5h0M177.2 206.8h0M179.8 208.5h0M174.6 212.8h0M173.8 215.4h0M178.1 213.7h0M176.4 218.9h0M179.0 222.3h0M180.7 216.3h0M309.4 114.9h0M304.4 124.5h0M298.8 135.8h0M294.4 148.7h0M329.3 149.6h0M307.4 158.1h0M298.9 160.9h0M286.4 161.5h0M292.1 165.0h0M285.5 166.4h0M281.5 168.4h0M294.7 172.8h0M302.0 172.8h0M275.1 177.2h0M282.3 178.5h0M287.0 178.5h0M272.3 181.2h0M277.8 181.2h0M269.8 187.9h0M276.0 187.5h0M279.6 187.5h0M287.2 187.5h0M292.5 187.5h0M304.4 189.8h0M271.9 181.3h0M277.9 181.3h0M269.7 188.7h0M275.8 188.2h0M280.1 187.8h0M276.2 191.3h0M287.0 187.4h0M292.7 187.4h0M291.4 192.1h0M296.6 193.0h0M283.6 193.0h0M287.0 194.7h0M266.3 193.9h0M271.0 193.9h0M288.8 197.3h0M282.7 199.9h0M285.3 199.9h0M273.2 198.2h0M275.8 199.9h0M270.6 202.5h0M277.5 202.5h0M274.0 204.2h0M271.5 207.7h0M277.5 207.7h0M280.1 211.2h0M269.7 212.0h0M273.5 212.0h0M277.5 214.6h0M270.6 217.2h0M276.6 219.0h0M272.3 221.6h0M268.9 220.7h0M175.4 210.0h0M181.1 206.8h0M176.1 211.0h0M172.2 208.4h0M177.6 218.0h0M171.1 201.3h0M178.3 192.4h0M181.8 223.8h0M177.8 211.9h0M172.3 199.2h0M175.3 219.6h0M176.2 212.8h0M176.0 213.5h0M175.5 200.5h0M182.0 224.9h0M180.1 215.1h0M173.8 198.8h0M179.2 204.6h0M180.2 204.1h0M181.5 219.8h0M180.9 207.0h0M179.3 200.2h0M270.8 198.6h0M271.8 195.4h0M271.2 188.3h0M293.5 192.8h0M285.9 203.0h0M274.1 213.8h0M272.2 210.5h0M271.7 202.0h0M274.8 196.3h0M277.7 219.6h0M274.7 201.0h0M274.8 195.8h0M292.7 198.5h0M277.5 188.8h0M270.9 208.1h0M275.8 208.8h0M279.9 203.2h0M273.9 191.9h0M276.0 193.2h0M274.3 222.1h0M281.5 189.9h0M269.2 222.6h0M275.6 212.8h0M276.2 217.3h0M287.1 197.2h0M273.6 213.4h0M270.2 194.7h0M287.7 196.6h0M297.4 193.8h0M268.5 196.2h0M282.3 188.3h0M273.6 200.0h0M286.3 191.0h0M279.6 219.9h0M268.6 220.6h0M268.7 210.2h0M283.4 213.8h0M270.4 206.8h0" stroke="#4aa3a3" stroke-width="2.68" stroke-linecap="round" fill="none"/><path d="M137.9 42.9h0M169.3 161.7h0M169.4 198.1h0M178.3 214.4h0" stroke="#7a3c1c" stroke-width="3.80" stroke-linecap="round" fill="none"/><path d="M137.9 42.9h0M169.3 161.7h0M169.4 198.1h0M178.3 214.4h0" stroke="#b5541f" stroke-width="2.68" stroke-linecap="round" fill="none"/>
</g>
<rect x="49.5" y="15.8" width="301.8" height="227.5" fill="none" stroke="#606060" stroke-width="1.3"/>
<line x1="45.0" y1="238.0" x2="49.5" y2="238.0" stroke="#555" stroke-width="1"/>
<text transform="translate(42.2,241.5) scale(0.9,1)" font-size="7.2" text-anchor="end" fill="#2a2a2a" stroke="#2a2a2a" stroke-width="0.05">0.0</text>
<line x1="45.0" y1="217.2" x2="49.5" y2="217.2" stroke="#555" stroke-width="1"/>
<text transform="translate(42.2,220.7) scale(0.9,1)" font-size="7.2" text-anchor="end" fill="#2a2a2a" stroke="#2a2a2a" stroke-width="0.05">1.8</text>
<line x1="45.0" y1="196.3" x2="49.5" y2="196.3" stroke="#555" stroke-width="1"/>
<text transform="translate(42.2,199.8) scale(0.9,1)" font-size="7.2" text-anchor="end" fill="#2a2a2a" stroke="#2a2a2a" stroke-width="0.05">3.6</text>
<line x1="45.0" y1="175.5" x2="49.5" y2="175.5" stroke="#555" stroke-width="1"/>
<text transform="translate(42.2,179.0) scale(0.9,1)" font-size="7.2" text-anchor="end" fill="#2a2a2a" stroke="#2a2a2a" stroke-width="0.05">5.4</text>
<line x1="45.0" y1="154.6" x2="49.5" y2="154.6" stroke="#555" stroke-width="1"/>
<text transform="translate(42.2,158.1) scale(0.9,1)" font-size="7.2" text-anchor="end" fill="#2a2a2a" stroke="#2a2a2a" stroke-width="0.05">7.2</text>
<line x1="45.0" y1="133.8" x2="49.5" y2="133.8" stroke="#555" stroke-width="1"/>
<text transform="translate(42.2,137.3) scale(0.9,1)" font-size="7.2" text-anchor="end" fill="#2a2a2a" stroke="#2a2a2a" stroke-width="0.05">9.0</text>
<line x1="45.0" y1="112.9" x2="49.5" y2="112.9" stroke="#555" stroke-width="1"/>
<text transform="translate(42.2,116.4) scale(0.9,1)" font-size="7.2" text-anchor="end" fill="#2a2a2a" stroke="#2a2a2a" stroke-width="0.05">10.8</text>
<line x1="45.0" y1="92.1" x2="49.5" y2="92.1" stroke="#555" stroke-width="1"/>
<text transform="translate(42.2,95.6) scale(0.9,1)" font-size="7.2" text-anchor="end" fill="#2a2a2a" stroke="#2a2a2a" stroke-width="0.05">12.6</text>
<line x1="45.0" y1="71.2" x2="49.5" y2="71.2" stroke="#555" stroke-width="1"/>
<text transform="translate(42.2,74.7) scale(0.9,1)" font-size="7.2" text-anchor="end" fill="#2a2a2a" stroke="#2a2a2a" stroke-width="0.05">14.4</text>
<line x1="45.0" y1="50.4" x2="49.5" y2="50.4" stroke="#555" stroke-width="1"/>
<text transform="translate(42.2,53.9) scale(0.9,1)" font-size="7.2" text-anchor="end" fill="#2a2a2a" stroke="#2a2a2a" stroke-width="0.05">16.2</text>
<line x1="45.0" y1="29.5" x2="49.5" y2="29.5" stroke="#555" stroke-width="1"/>
<text transform="translate(42.2,33.0) scale(0.9,1)" font-size="7.2" text-anchor="end" fill="#2a2a2a" stroke="#2a2a2a" stroke-width="0.05">18.0</text>
<line x1="55.0" y1="243.3" x2="55.0" y2="247.8" stroke="#555" stroke-width="1"/>
<text transform="translate(55.0,256.9) scale(0.9,1)" font-size="7.2" text-anchor="middle" fill="#2a2a2a" stroke="#2a2a2a" stroke-width="0.05">-7.7</text>
<line x1="79.2" y1="243.3" x2="79.2" y2="247.8" stroke="#555" stroke-width="1"/>
<text transform="translate(79.2,256.9) scale(0.9,1)" font-size="7.2" text-anchor="middle" fill="#2a2a2a" stroke="#2a2a2a" stroke-width="0.05">-6.6</text>
<line x1="103.4" y1="243.3" x2="103.4" y2="247.8" stroke="#555" stroke-width="1"/>
<text transform="translate(103.4,256.9) scale(0.9,1)" font-size="7.2" text-anchor="middle" fill="#2a2a2a" stroke="#2a2a2a" stroke-width="0.05">-5.5</text>
<line x1="127.5" y1="243.3" x2="127.5" y2="247.8" stroke="#555" stroke-width="1"/>
<text transform="translate(127.5,256.9) scale(0.9,1)" font-size="7.2" text-anchor="middle" fill="#2a2a2a" stroke="#2a2a2a" stroke-width="0.05">-4.4</text>
<line x1="151.7" y1="243.3" x2="151.7" y2="247.8" stroke="#555" stroke-width="1"/>
<text transform="translate(151.7,256.9) scale(0.9,1)" font-size="7.2" text-anchor="middle" fill="#2a2a2a" stroke="#2a2a2a" stroke-width="0.05">-3.3</text>
<line x1="175.9" y1="243.3" x2="175.9" y2="247.8" stroke="#555" stroke-width="1"/>
<text transform="translate(175.9,256.9) scale(0.9,1)" font-size="7.2" text-anchor="middle" fill="#2a2a2a" stroke="#2a2a2a" stroke-width="0.05">-2.2</text>
<line x1="200.1" y1="243.3" x2="200.1" y2="247.8" stroke="#555" stroke-width="1"/>
<text transform="translate(200.1,256.9) scale(0.9,1)" font-size="7.2" text-anchor="middle" fill="#2a2a2a" stroke="#2a2a2a" stroke-width="0.05">-1.1</text>
<line x1="224.3" y1="243.3" x2="224.3" y2="247.8" stroke="#555" stroke-width="1"/>
<text transform="translate(224.3,256.9) scale(0.9,1)" font-size="7.2" text-anchor="middle" fill="#2a2a2a" stroke="#2a2a2a" stroke-width="0.05">0.0</text>
<line x1="248.4" y1="243.3" x2="248.4" y2="247.8" stroke="#555" stroke-width="1"/>
<text transform="translate(248.4,256.9) scale(0.9,1)" font-size="7.2" text-anchor="middle" fill="#2a2a2a" stroke="#2a2a2a" stroke-width="0.05">1.1</text>
<line x1="272.6" y1="243.3" x2="272.6" y2="247.8" stroke="#555" stroke-width="1"/>
<text transform="translate(272.6,256.9) scale(0.9,1)" font-size="7.2" text-anchor="middle" fill="#2a2a2a" stroke="#2a2a2a" stroke-width="0.05">2.2</text>
<line x1="296.8" y1="243.3" x2="296.8" y2="247.8" stroke="#555" stroke-width="1"/>
<text transform="translate(296.8,256.9) scale(0.9,1)" font-size="7.2" text-anchor="middle" fill="#2a2a2a" stroke="#2a2a2a" stroke-width="0.05">3.3</text>
<line x1="321.0" y1="243.3" x2="321.0" y2="247.8" stroke="#555" stroke-width="1"/>
<text transform="translate(321.0,256.9) scale(0.9,1)" font-size="7.2" text-anchor="middle" fill="#2a2a2a" stroke="#2a2a2a" stroke-width="0.05">4.4</text>
</g>
<g>
<clipPath id="cA2"><rect x="386.8" y="15.8" width="303.40000000000003" height="227.2"/></clipPath>
<g clip-path="url(#cA2)">
<line x1="513.1" y1="15.8" x2="513.1" y2="243" stroke="#dadada" stroke-width="1"/>
<line x1="589.3" y1="15.8" x2="589.3" y2="243" stroke="#dadada" stroke-width="1"/>
<line x1="551.2" y1="15.8" x2="551.2" y2="243" stroke="#c8c8c8" stroke-width="1" stroke-dasharray="3,2"/>
<line x1="386.8" y1="235.2" x2="690.2" y2="235.2" stroke="#d2d2d2" stroke-width="1" stroke-dasharray="2,0.6"/>
<text x="508.2" y="27.0" fill="#56a2a8" font-size="10.9" text-anchor="end" stroke="#56a2a8" stroke-width="0.15">DEGs = 81</text>
<text x="508.2" y="38.4" fill="#a76436" font-size="10.9" text-anchor="end" stroke="#a76436" stroke-width="0.15">Medium-specific</text>
<text x="508.2" y="51.4" fill="#a76436" font-size="10.9" text-anchor="end" stroke="#a76436" stroke-width="0.15">= 3 (3.7%)</text>
<text x="594.4" y="27.0" fill="#56a2a8" font-size="10.9" stroke="#56a2a8" stroke-width="0.15">DEGs = 42</text>
<text x="594.4" y="38.4" fill="#a76436" font-size="10.9" stroke="#a76436" stroke-width="0.15">Medium-specific</text>
<text x="594.4" y="51.4" fill="#a76436" font-size="10.9" stroke="#a76436" stroke-width="0.15">= 5 (11.9%)</text>
<text x="684.7" y="231.2" fill="#889dc4" stroke="#889dc4" stroke-width="0.35" font-size="8.6" font-style="italic" text-anchor="end">P = 0.05</text>
<path d="M513.2 223.7 L514.6 223.5 L516.0 223.3 L517.3 223.0 L518.7 222.8 L520.1 223.7 L521.5 224.5 L522.8 225.4 L524.2 226.2 L524.5 226.5 L524.9 226.7 L525.2 226.9 L525.5 227.2 L526.5 227.9 L527.6 228.6 L528.7 229.4 L529.7 230.1 L532.1 231.1 L534.5 232.0 L536.8 233.0 L539.2 234.0 L542.3 234.4 L545.4 234.8 L548.5 235.3 L551.6 235.7 L554.3 235.3 L557.0 234.9 L559.8 234.4 L562.5 234.0 L563.5 233.6 L564.5 233.1 L565.6 232.6 L566.6 232.2 L568.0 231.5 L569.4 230.9 L570.7 230.2 L572.1 229.6 L573.5 228.6 L574.9 227.6 L576.2 226.6 L577.6 225.6 L578.3 225.6 L579.0 225.5 L579.6 225.4 L580.3 225.4 L581.3 225.2 L582.4 225.0 L583.5 224.9 L584.5 224.7 L585.5 225.1 L586.5 225.4 L587.6 225.7 L588.6 226.1 L588.6 232.8 L587.6 233.1 L586.5 233.5 L585.5 233.8 L584.5 234.1 L583.5 234.5 L582.4 234.8 L581.3 235.2 L580.3 235.5 L579.6 235.6 L579.0 235.7 L578.3 235.8 L577.6 235.9 L576.2 236.0 L574.9 236.2 L573.5 236.4 L572.1 236.6 L570.7 236.8 L569.4 236.9 L568.0 237.1 L566.6 237.3 L565.6 237.3 L564.5 237.4 L563.5 237.4 L562.5 237.4 L559.8 237.5 L557.0 237.6 L554.3 237.7 L551.6 237.8 L548.5 237.7 L545.4 237.6 L542.3 237.4 L539.2 237.3 L536.8 237.1 L534.5 236.9 L532.1 236.7 L529.7 236.5 L528.7 236.5 L527.6 236.4 L526.5 236.3 L525.5 236.2 L525.2 236.1 L524.9 236.1 L524.5 236.0 L524.2 236.0 L522.8 235.8 L521.5 235.6 L520.1 235.4 L518.7 235.1 L517.3 234.9 L516.0 234.7 L514.6 234.5 L513.2 234.3Z" fill="#3b3b3b"/><path d="M544.8 235.4h0M535.5 235.8h0M550.7 235.0h0M549.6 235.6h0M551.2 236.4h0M575.3 226.5h0M532.2 229.9h0M522.4 222.1h0M577.7 225.2h0M572.5 233.8h0M538.5 232.9h0M517.0 221.3h0M540.3 234.9h0M570.1 231.8h0M525.4 228.9h0M549.1 234.6h0M543.8 234.9h0M548.6 237.4h0M551.5 236.5h0M559.9 235.6h0M543.7 234.8h0M553.8 234.6h0M528.8 227.9h0M532.8 231.5h0M553.0 236.1h0M553.1 234.7h0M534.4 234.2h0M523.0 234.2h0M565.4 234.9h0M530.7 231.2h0M566.0 235.7h0M554.1 235.7h0M527.3 232.9h0M533.4 236.9h0M559.9 234.6h0M530.7 236.5h0M568.8 233.1h0M552.0 236.8h0M555.5 234.4h0M554.1 236.5h0M555.2 237.4h0M516.6 231.5h0M555.5 236.2h0M519.2 231.4h0M518.7 226.2h0M527.6 230.7h0M548.5 234.9h0M578.4 229.8h0M529.0 230.3h0M559.3 236.7h0M541.6 234.4h0M576.7 225.9h0M587.3 224.7h0M538.0 234.0h0M555.0 236.4h0M549.6 235.4h0M571.5 228.0h0M518.7 232.9h0M531.1 236.5h0M578.9 227.6h0M533.6 232.4h0M551.3 235.4h0M563.9 236.5h0M579.1 228.4h0M582.7 229.6h0M558.4 235.6h0M580.4 224.6h0M568.7 230.9h0M561.4 235.7h0M578.4 222.8h0M563.8 232.9h0M524.8 227.6h0M545.4 236.4h0M515.5 227.0h0M523.6 224.9h0M569.7 231.2h0M572.0 228.8h0M571.2 233.2h0M563.1 235.2h0M514.6 220.3h0M523.2 232.9h0M546.3 235.8h0M540.6 237.4h0M575.7 230.8h0M570.5 230.2h0M582.9 231.8h0M577.6 228.3h0M539.3 236.2h0M550.3 236.5h0M546.8 235.6h0M579.7 225.4h0M558.1 234.0h0M536.8 232.2h0M582.6 227.3h0M522.4 230.2h0M548.0 235.4h0M531.7 234.5h0M551.6 237.0h0M581.9 223.9h0M550.0 234.9h0M573.0 231.3h0M544.7 234.8h0M562.9 237.2h0M559.2 234.8h0M586.7 228.0h0M536.7 234.7h0M536.4 232.0h0M565.6 233.4h0M560.0 234.8h0M536.5 233.5h0M519.9 233.2h0M547.0 237.7h0M556.6 236.0h0M569.3 229.1h0M525.1 235.7h0M578.2 234.8h0M553.9 237.7h0M546.0 235.2h0" stroke="#383838" stroke-opacity="0.55" stroke-width="3.1" stroke-linecap="round" fill="none"/><path d="M548.0 236.4h0M567.2 235.2h0M551.9 236.6h0M585.2 229.9h0M554.9 234.5h0M585.8 223.4h0M516.1 226.1h0M578.0 230.8h0M571.7 228.6h0M562.1 233.9h0M580.9 230.6h0M553.5 236.1h0M583.7 225.8h0M561.2 233.4h0M534.3 232.0h0M579.3 234.6h0M564.1 233.8h0M584.0 223.5h0M543.5 234.0h0M536.6 232.7h0M568.5 234.4h0M539.3 234.0h0M518.8 224.9h0M555.4 235.7h0M526.6 228.9h0M556.0 234.2h0M553.6 237.9h0M572.4 229.2h0M578.5 232.0h0M525.4 224.7h0M578.8 223.9h0M521.4 234.6h0M563.1 233.9h0M537.1 233.7h0M564.9 234.1h0M536.4 237.0h0M543.4 235.2h0M577.3 228.3h0M546.2 234.8h0M556.6 235.2h0M560.9 236.2h0M549.0 234.6h0M574.5 232.8h0M531.7 234.1h0M542.4 235.1h0M550.9 235.4h0M559.6 234.3h0M520.7 234.5h0M526.7 233.9h0M538.9 237.5h0M580.7 234.6h0M522.6 222.4h0M562.3 233.1h0M528.4 231.6h0M514.5 234.7h0M576.9 223.9h0M529.2 230.6h0M517.0 226.8h0M526.2 235.3h0M556.9 234.4h0M551.6 236.2h0M543.2 233.8h0M525.3 230.3h0M524.1 233.6h0M524.9 226.2h0M536.4 231.9h0M517.4 226.2h0M539.0 235.2h0M541.3 236.6h0M544.1 234.9h0M542.6 234.7h0M579.5 234.0h0M567.6 237.0h0M558.1 236.2h0M521.0 226.5h0M548.9 235.1h0M521.1 232.7h0M576.1 225.9h0M552.4 237.1h0M575.4 231.0h0M531.3 229.6h0M548.6 236.4h0M520.2 227.9h0M527.3 234.9h0M536.5 234.3h0M586.8 230.8h0M518.1 229.5h0M519.0 234.0h0M534.1 236.5h0M516.2 232.6h0M563.6 234.8h0M518.0 226.5h0M514.9 230.4h0M516.8 226.5h0M544.4 235.6h0M558.7 236.0h0M571.8 228.3h0M552.7 235.6h0M576.3 225.5h0M586.7 228.1h0M529.4 232.1h0M581.1 225.8h0M564.1 232.4h0M577.4 227.1h0M579.9 229.4h0M523.5 227.3h0M535.7 233.8h0M577.7 225.5h0M524.2 223.6h0M537.7 233.6h0M583.7 232.3h0M565.5 237.2h0M552.8 236.9h0M557.4 237.5h0M550.4 236.4h0M565.7 235.6h0M541.3 233.6h0" stroke="#383838" stroke-opacity="0.55" stroke-width="3.1" stroke-linecap="round" fill="none"/><path d="M581.1 231.4h0M557.0 237.0h0M514.5 226.5h0M546.7 237.4h0M550.2 236.2h0M564.4 232.8h0M539.4 233.7h0M528.0 229.2h0M555.9 234.3h0M565.1 234.0h0M583.9 226.0h0M568.8 234.7h0M544.7 235.9h0M580.3 231.3h0M567.5 234.5h0M519.6 230.1h0M517.8 223.2h0M549.9 235.8h0M533.2 231.1h0M547.6 235.9h0M567.3 230.5h0M515.6 227.5h0M574.4 226.9h0M586.5 231.6h0M579.6 226.2h0M540.1 234.0h0M541.7 234.6h0M533.7 233.2h0M549.0 236.6h0M539.3 235.2h0M530.9 233.3h0M540.2 233.1h0M537.9 234.6h0M534.0 236.0h0M544.6 235.9h0M572.5 230.1h0M578.7 222.6h0M586.7 232.4h0M557.6 235.2h0M515.7 230.5h0M573.9 228.3h0M537.9 235.7h0M566.6 235.8h0M576.1 227.0h0M518.0 234.4h0M555.7 236.8h0M570.0 230.6h0M576.2 228.0h0M553.5 236.4h0M579.2 227.1h0M535.2 234.9h0M568.5 230.3h0M524.9 230.4h0M577.0 223.3h0M514.5 228.8h0M545.1 236.2h0M526.2 235.8h0M574.6 228.2h0M553.2 237.4h0M563.8 232.2h0M518.7 232.2h0M549.7 236.4h0M558.4 234.5h0M579.4 225.2h0M522.4 235.0h0M529.6 230.6h0M524.6 228.5h0M565.2 232.7h0M585.5 226.3h0M541.7 235.5h0M532.7 234.1h0M533.0 231.2h0M561.0 233.9h0M516.9 227.4h0M521.5 233.7h0M563.3 236.5h0M517.8 231.6h0M514.5 225.8h0M548.2 236.7h0M526.0 226.5h0M580.8 228.3h0M547.6 235.2h0M583.2 223.7h0M515.5 222.8h0M540.3 235.1h0M573.1 234.8h0M535.7 234.2h0M544.5 235.3h0M536.1 235.1h0M571.7 231.1h0M553.3 235.8h0M541.8 233.5h0M567.9 230.5h0M539.1 236.8h0M546.2 235.3h0M586.8 229.5h0M533.6 236.0h0M538.1 233.9h0M555.8 237.5h0M563.7 233.7h0M564.1 234.2h0M515.9 221.5h0M563.2 234.2h0M540.9 237.6h0M515.2 228.8h0M545.3 234.5h0M552.7 236.9h0M518.4 232.2h0M551.7 237.0h0M580.5 222.4h0M566.8 233.3h0M552.8 234.9h0M535.4 231.5h0M526.3 235.5h0M541.3 233.4h0M564.6 232.5h0M519.3 229.5h0" stroke="#383838" stroke-opacity="0.55" stroke-width="3.1" stroke-linecap="round" fill="none"/><path d="M582.7 223.6h0M583.6 230.1h0M534.0 232.8h0M572.8 233.7h0M535.6 231.9h0M566.4 231.8h0M559.0 233.9h0M569.7 228.9h0M561.1 235.2h0M537.5 235.5h0M584.7 224.3h0M528.9 230.7h0M531.6 232.6h0M553.9 234.5h0M570.4 230.9h0M565.1 234.4h0M523.8 234.9h0M537.4 232.1h0M566.1 234.1h0M578.6 228.8h0M562.3 234.3h0M570.3 234.2h0M543.0 235.0h0M571.4 233.2h0M535.5 232.0h0M519.9 229.7h0M525.2 231.6h0M565.2 237.3h0M546.7 234.7h0M545.9 234.5h0M531.1 230.7h0M558.2 234.2h0M535.5 233.4h0M576.2 229.5h0M551.2 236.3h0M535.2 235.6h0M581.3 224.0h0M586.9 233.3h0M527.0 230.8h0M562.3 236.3h0M569.8 236.3h0M574.8 233.5h0M550.5 234.8h0M585.9 225.7h0M586.1 228.8h0M528.2 229.1h0M518.2 221.6h0M581.3 234.5h0M525.3 228.7h0M543.0 235.2h0M569.2 230.5h0M540.8 234.7h0M555.6 237.2h0M533.6 234.0h0M534.5 230.6h0M543.4 236.1h0M544.6 236.8h0M554.4 234.8h0M558.4 234.2h0M535.4 232.1h0M558.7 234.7h0M549.4 236.5h0M546.8 236.5h0M519.1 223.8h0M562.0 235.2h0M519.8 221.0h0M583.8 223.4h0M548.2 237.3h0M523.8 226.3h0M541.1 234.5h0M521.7 223.9h0M530.9 229.5h0M538.2 236.2h0M540.2 233.2h0M544.4 236.9h0M553.1 236.4h0M584.4 229.6h0M521.2 222.4h0M563.7 236.8h0M585.7 231.1h0M523.7 230.5h0M566.3 234.8h0M516.6 229.0h0M531.2 230.7h0M572.3 233.5h0M536.5 234.3h0M583.2 226.4h0M543.6 235.1h0M522.8 235.3h0M550.4 236.6h0M552.7 235.2h0M526.4 229.4h0M571.1 233.8h0M579.0 223.2h0M583.0 222.8h0M515.8 232.8h0M585.0 222.4h0M525.1 224.4h0M567.8 230.9h0M565.0 234.9h0M522.3 235.8h0M558.9 234.5h0M573.4 226.6h0M575.0 228.5h0M540.0 233.1h0M539.2 233.0h0M553.4 237.6h0M569.0 230.2h0M586.0 228.7h0M579.3 223.3h0M514.5 222.7h0M563.9 236.7h0M539.9 233.9h0M559.1 234.9h0M537.3 232.7h0M567.5 235.1h0M517.5 221.0h0" stroke="#383838" stroke-opacity="0.55" stroke-width="3.1" stroke-linecap="round" fill="none"/><path d="M578.8 232.8h0M521.5 225.1h0M560.5 235.4h0M574.9 226.8h0M551.1 236.7h0M572.9 234.3h0M582.5 226.0h0M559.9 237.0h0M542.5 235.9h0M528.1 229.6h0M538.7 235.8h0M532.0 233.8h0M584.4 232.1h0M552.9 237.2h0M565.9 234.0h0M523.7 229.5h0M549.0 237.9h0M523.2 230.9h0M541.1 235.4h0M541.8 233.7h0M546.2 235.1h0M559.2 236.6h0M566.4 232.0h0M567.4 230.4h0M545.1 237.0h0M564.9 233.1h0M578.1 223.3h0M574.2 226.8h0M556.0 235.4h0M581.2 225.8h0M517.8 223.4h0M519.0 232.9h0M540.4 235.6h0M551.8 236.8h0M553.0 236.0h0M577.8 224.4h0M519.8 230.5h0M525.2 230.7h0M580.1 226.0h0M519.7 223.0h0M516.9 222.2h0M560.8 234.7h0M531.9 234.2h0M560.2 235.7h0M538.5 236.5h0M520.1 221.9h0M525.2 233.6h0M522.6 230.9h0M551.5 236.6h0M583.0 232.4h0M565.5 231.6h0M584.4 222.9h0M571.4 236.0h0M565.0 236.0h0M560.9 237.3h0M568.5 233.1h0M567.7 232.6h0M541.6 236.9h0M539.5 236.8h0M560.6 235.3h0M586.7 224.8h0M587.4 232.6h0M541.3 233.6h0M530.0 232.4h0M580.1 224.7h0M583.7 226.1h0M532.6 232.4h0M521.4 232.3h0M558.0 235.1h0M540.1 235.6h0M581.7 230.3h0M540.2 235.1h0M523.2 234.4h0M540.7 233.4h0M586.8 226.8h0M552.0 235.6h0M546.4 235.8h0M519.5 230.1h0M524.4 232.8h0M569.6 230.1h0M532.0 231.5h0M555.8 237.1h0M541.3 235.9h0M572.1 235.6h0M573.6 226.8h0M575.7 227.5h0M574.2 235.3h0M535.6 237.1h0M549.5 237.9h0M569.2 232.5h0M577.0 235.0h0M524.9 226.5h0M520.3 224.1h0M523.5 229.1h0M580.6 224.2h0M529.7 230.0h0M566.7 233.7h0M529.8 234.2h0M575.6 235.4h0M561.1 237.2h0M543.4 236.4h0M559.2 236.0h0M573.7 226.1h0M586.3 226.6h0M543.2 236.3h0M528.7 231.0h0M539.9 235.9h0M586.6 225.0h0M519.5 224.1h0M532.9 230.8h0M518.8 220.8h0M567.0 232.1h0M541.2 236.5h0M584.2 229.8h0M553.3 237.5h0M525.8 225.0h0M540.2 237.0h0" stroke="#383838" stroke-opacity="0.55" stroke-width="3.1" stroke-linecap="round" fill="none"/><path d="M551.5 234.9h0M539.7 234.7h0M521.0 227.3h0M533.0 230.3h0M528.7 234.0h0M573.9 232.5h0M519.1 223.9h0M567.4 236.7h0M516.1 231.5h0M564.5 232.0h0M552.5 236.2h0M519.5 234.1h0M546.0 235.0h0M570.3 236.2h0M546.0 237.2h0M556.2 234.9h0M519.7 228.2h0M530.5 229.4h0M547.5 236.5h0M585.7 224.5h0M530.9 230.3h0M543.5 233.6h0M568.9 232.1h0M534.4 232.9h0M558.6 235.6h0M574.9 231.2h0M532.6 235.2h0M529.8 230.3h0M586.5 230.5h0M526.9 231.8h0M519.0 221.5h0M515.9 223.7h0M532.6 234.3h0M579.2 225.2h0M572.0 228.3h0M564.3 233.3h0M585.3 226.9h0M561.1 237.0h0M530.2 232.4h0M538.8 232.8h0M524.7 232.8h0M582.7 234.0h0M581.4 225.8h0M566.8 233.5h0M557.7 234.1h0M516.8 231.1h0M517.1 234.3h0M528.3 235.0h0M549.0 237.7h0M542.4 234.5h0M528.0 231.9h0M556.5 234.3h0M560.3 236.2h0M576.4 232.8h0M566.7 235.4h0M564.4 236.4h0M563.6 232.4h0M561.2 237.5h0M563.4 233.6h0M515.2 226.7h0M535.6 234.0h0M543.6 237.2h0M530.0 236.6h0M558.6 237.5h0M529.5 236.1h0M537.8 233.4h0M537.6 236.2h0M574.7 230.0h0M570.6 231.1h0M576.2 225.9h0M542.0 236.9h0M529.1 233.4h0M572.2 230.5h0M577.8 227.4h0M579.9 222.8h0M564.7 233.8h0M555.6 236.6h0M570.5 231.3h0M553.3 235.8h0M582.8 231.3h0M567.0 231.7h0M517.7 227.9h0M524.4 227.9h0M528.2 232.8h0M558.3 233.8h0M529.3 228.5h0M532.3 231.1h0M563.6 235.4h0M578.6 230.1h0M572.2 228.6h0M569.3 231.7h0M550.1 235.4h0M567.8 236.6h0M534.4 232.3h0M531.1 234.3h0M575.8 235.4h0M568.9 230.8h0M584.5 222.4h0M518.9 222.9h0M580.1 225.4h0M531.0 234.5h0M539.2 237.0h0M548.0 237.8h0M576.6 225.8h0M564.8 236.7h0M530.9 236.7h0M573.9 227.8h0M525.9 229.1h0M533.4 235.0h0M521.0 226.1h0M574.2 230.3h0M538.4 233.5h0M514.5 220.6h0M531.4 234.6h0M516.6 224.7h0M581.2 223.0h0M540.4 236.4h0" stroke="#383838" stroke-opacity="0.55" stroke-width="3.1" stroke-linecap="round" fill="none"/><path d="M518.7 212.0h0M518.0 218.5h0M587.2 218.5h0" stroke="#555" stroke-opacity="0.6" stroke-width="3.2" stroke-linecap="round" fill="none"/><path d="M426.1 22.1h0M412.5 47.8h0M415.3 48.3h0M437.2 100.6h0M456.8 110.4h0M465.4 151.4h0M445.0 157.8h0M433.5 171.7h0M443.3 185.7h0M455.1 197.0h0M471.3 177.9h0M470.6 185.2h0M482.4 189.7h0M494.8 184.6h0M495.2 195.3h0M502.9 197.8h0M496.9 203.3h0M500.4 202.3h0M503.4 203.3h0M504.4 204.8h0M478.7 208.4h0M481.7 208.4h0M474.3 211.6h0M486.5 211.2h0M496.9 208.4h0M497.4 211.9h0M489.3 214.4h0M492.3 213.4h0M486.5 216.5h0M485.8 219.5h0M492.8 220.0h0M498.4 218.5h0M503.4 216.5h0M507.0 214.4h0M512.5 215.0h0M507.0 217.5h0M497.4 221.0h0M500.4 222.5h0M503.4 220.5h0M512.5 218.5h0M490.3 227.6h0M496.9 227.1h0M501.4 228.6h0M501.4 230.6h0M505.5 225.0h0M509.5 226.6h0M510.5 229.6h0M509.5 232.6h0M506.0 233.0h0M512.0 224.0h0M511.5 234.5h0M504.0 231.0h0M625.1 180.1h0M683.2 176.2h0M597.0 204.0h0M608.2 207.4h0M606.1 211.3h0M594.4 215.2h0M598.3 213.9h0M602.2 215.2h0M616.5 223.0h0M608.7 219.1h0M612.6 217.8h0M599.6 220.4h0M594.4 224.3h0M603.5 224.3h0M598.3 228.2h0M590.5 223.0h0M597.0 233.4h0M592.0 230.0h0M595.0 219.0h0M591.0 218.0h0M601.0 231.0h0M598.0 227.0h0M597.4 216.2h0M590.2 219.0h0M590.7 218.0h0M599.9 220.5h0M597.6 226.3h0M595.1 220.2h0M604.1 225.4h0" stroke="#3a7775" stroke-width="3.80" stroke-linecap="round" fill="none"/><path d="M426.1 22.1h0M412.5 47.8h0M415.3 48.3h0M437.2 100.6h0M456.8 110.4h0M465.4 151.4h0M445.0 157.8h0M433.5 171.7h0M443.3 185.7h0M455.1 197.0h0M471.3 177.9h0M470.6 185.2h0M482.4 189.7h0M494.8 184.6h0M495.2 195.3h0M502.9 197.8h0M496.9 203.3h0M500.4 202.3h0M503.4 203.3h0M504.4 204.8h0M478.7 208.4h0M481.7 208.4h0M474.3 211.6h0M486.5 211.2h0M496.9 208.4h0M497.4 211.9h0M489.3 214.4h0M492.3 213.4h0M486.5 216.5h0M485.8 219.5h0M492.8 220.0h0M498.4 218.5h0M503.4 216.5h0M507.0 214.4h0M512.5 215.0h0M507.0 217.5h0M497.4 221.0h0M500.4 222.5h0M503.4 220.5h0M512.5 218.5h0M490.3 227.6h0M496.9 227.1h0M501.4 228.6h0M501.4 230.6h0M505.5 225.0h0M509.5 226.6h0M510.5 229.6h0M509.5 232.6h0M506.0 233.0h0M512.0 224.0h0M511.5 234.5h0M504.0 231.0h0M625.1 180.1h0M683.2 176.2h0M597.0 204.0h0M608.2 207.4h0M606.1 211.3h0M594.4 215.2h0M598.3 213.9h0M602.2 215.2h0M616.5 223.0h0M608.7 219.1h0M612.6 217.8h0M599.6 220.4h0M594.4 224.3h0M603.5 224.3h0M598.3 228.2h0M590.5 223.0h0M597.0 233.4h0M592.0 230.0h0M595.0 219.0h0M591.0 218.0h0M601.0 231.0h0M598.0 227.0h0M597.4 216.2h0M590.2 219.0h0M590.7 218.0h0M599.9 220.5h0M597.6 226.3h0M595.1 220.2h0M604.1 225.4h0" stroke="#4aa3a3" stroke-width="2.68" stroke-linecap="round" fill="none"/><path d="M468.3 200.8h0M509.5 222.5h0M641.2 135.2h0M648.4 169.2h0M636.5 198.3h0M612.6 214.4h0" stroke="#7a3c1c" stroke-width="3.80" stroke-linecap="round" fill="none"/><path d="M468.3 200.8h0M509.5 222.5h0M641.2 135.2h0M648.4 169.2h0M636.5 198.3h0M612.6 214.4h0" stroke="#b5541f" stroke-width="2.68" stroke-linecap="round" fill="none"/><path d="M644.3 130.8h0M652.3 165.0h0M639.9 193.9h0M616.0 210.8h0" stroke="#222" stroke-width="1.3" stroke-linecap="round" fill="none"/>
</g>
<rect x="386.8" y="15.8" width="303.40000000000003" height="227.2" fill="none" stroke="#606060" stroke-width="1.3"/>
<line x1="382.3" y1="237.5" x2="386.8" y2="237.5" stroke="#555" stroke-width="1"/>
<text transform="translate(379.5,241.0) scale(0.9,1)" font-size="7.2" text-anchor="end" fill="#2a2a2a" stroke="#2a2a2a" stroke-width="0.05">0</text>
<line x1="382.3" y1="216.3" x2="386.8" y2="216.3" stroke="#555" stroke-width="1"/>
<text transform="translate(379.5,219.8) scale(0.9,1)" font-size="7.2" text-anchor="end" fill="#2a2a2a" stroke="#2a2a2a" stroke-width="0.05">12</text>
<line x1="382.3" y1="195.2" x2="386.8" y2="195.2" stroke="#555" stroke-width="1"/>
<text transform="translate(379.5,198.7) scale(0.9,1)" font-size="7.2" text-anchor="end" fill="#2a2a2a" stroke="#2a2a2a" stroke-width="0.05">24</text>
<line x1="382.3" y1="174.0" x2="386.8" y2="174.0" stroke="#555" stroke-width="1"/>
<text transform="translate(379.5,177.5) scale(0.9,1)" font-size="7.2" text-anchor="end" fill="#2a2a2a" stroke="#2a2a2a" stroke-width="0.05">36</text>
<line x1="382.3" y1="152.8" x2="386.8" y2="152.8" stroke="#555" stroke-width="1"/>
<text transform="translate(379.5,156.3) scale(0.9,1)" font-size="7.2" text-anchor="end" fill="#2a2a2a" stroke="#2a2a2a" stroke-width="0.05">48</text>
<line x1="382.3" y1="131.7" x2="386.8" y2="131.7" stroke="#555" stroke-width="1"/>
<text transform="translate(379.5,135.2) scale(0.9,1)" font-size="7.2" text-anchor="end" fill="#2a2a2a" stroke="#2a2a2a" stroke-width="0.05">60</text>
<line x1="382.3" y1="110.5" x2="386.8" y2="110.5" stroke="#555" stroke-width="1"/>
<text transform="translate(379.5,114.0) scale(0.9,1)" font-size="7.2" text-anchor="end" fill="#2a2a2a" stroke="#2a2a2a" stroke-width="0.05">72</text>
<line x1="382.3" y1="89.3" x2="386.8" y2="89.3" stroke="#555" stroke-width="1"/>
<text transform="translate(379.5,92.8) scale(0.9,1)" font-size="7.2" text-anchor="end" fill="#2a2a2a" stroke="#2a2a2a" stroke-width="0.05">84</text>
<line x1="382.3" y1="68.2" x2="386.8" y2="68.2" stroke="#555" stroke-width="1"/>
<text transform="translate(379.5,71.7) scale(0.9,1)" font-size="7.2" text-anchor="end" fill="#2a2a2a" stroke="#2a2a2a" stroke-width="0.05">96</text>
<line x1="382.3" y1="47.0" x2="386.8" y2="47.0" stroke="#555" stroke-width="1"/>
<text transform="translate(379.5,50.5) scale(0.9,1)" font-size="7.2" text-anchor="end" fill="#2a2a2a" stroke="#2a2a2a" stroke-width="0.05">108</text>
<line x1="382.3" y1="25.8" x2="386.8" y2="25.8" stroke="#555" stroke-width="1"/>
<text transform="translate(379.5,29.3) scale(0.9,1)" font-size="7.2" text-anchor="end" fill="#2a2a2a" stroke="#2a2a2a" stroke-width="0.05">120</text>
<line x1="391.3" y1="243" x2="391.3" y2="247.5" stroke="#555" stroke-width="1"/>
<text transform="translate(391.3,256.6) scale(0.9,1)" font-size="7.2" text-anchor="middle" fill="#2a2a2a" stroke="#2a2a2a" stroke-width="0.05">-8.4</text>
<line x1="418.0" y1="243" x2="418.0" y2="247.5" stroke="#555" stroke-width="1"/>
<text transform="translate(418.0,256.6) scale(0.9,1)" font-size="7.2" text-anchor="middle" fill="#2a2a2a" stroke="#2a2a2a" stroke-width="0.05">-7.0</text>
<line x1="444.6" y1="243" x2="444.6" y2="247.5" stroke="#555" stroke-width="1"/>
<text transform="translate(444.6,256.6) scale(0.9,1)" font-size="7.2" text-anchor="middle" fill="#2a2a2a" stroke="#2a2a2a" stroke-width="0.05">-5.6</text>
<line x1="471.3" y1="243" x2="471.3" y2="247.5" stroke="#555" stroke-width="1"/>
<text transform="translate(471.3,256.6) scale(0.9,1)" font-size="7.2" text-anchor="middle" fill="#2a2a2a" stroke="#2a2a2a" stroke-width="0.05">-4.2</text>
<line x1="497.9" y1="243" x2="497.9" y2="247.5" stroke="#555" stroke-width="1"/>
<text transform="translate(497.9,256.6) scale(0.9,1)" font-size="7.2" text-anchor="middle" fill="#2a2a2a" stroke="#2a2a2a" stroke-width="0.05">-2.8</text>
<line x1="524.6" y1="243" x2="524.6" y2="247.5" stroke="#555" stroke-width="1"/>
<text transform="translate(524.6,256.6) scale(0.9,1)" font-size="7.2" text-anchor="middle" fill="#2a2a2a" stroke="#2a2a2a" stroke-width="0.05">-1.4</text>
<line x1="551.2" y1="243" x2="551.2" y2="247.5" stroke="#555" stroke-width="1"/>
<text transform="translate(551.2,256.6) scale(0.9,1)" font-size="7.2" text-anchor="middle" fill="#2a2a2a" stroke="#2a2a2a" stroke-width="0.05">0.0</text>
<line x1="577.8" y1="243" x2="577.8" y2="247.5" stroke="#555" stroke-width="1"/>
<text transform="translate(577.8,256.6) scale(0.9,1)" font-size="7.2" text-anchor="middle" fill="#2a2a2a" stroke="#2a2a2a" stroke-width="0.05">1.4</text>
<line x1="604.5" y1="243" x2="604.5" y2="247.5" stroke="#555" stroke-width="1"/>
<text transform="translate(604.5,256.6) scale(0.9,1)" font-size="7.2" text-anchor="middle" fill="#2a2a2a" stroke="#2a2a2a" stroke-width="0.05">2.8</text>
<line x1="631.1" y1="243" x2="631.1" y2="247.5" stroke="#555" stroke-width="1"/>
<text transform="translate(631.1,256.6) scale(0.9,1)" font-size="7.2" text-anchor="middle" fill="#2a2a2a" stroke="#2a2a2a" stroke-width="0.05">4.2</text>
<line x1="657.8" y1="243" x2="657.8" y2="247.5" stroke="#555" stroke-width="1"/>
<text transform="translate(657.8,256.6) scale(0.9,1)" font-size="7.2" text-anchor="middle" fill="#2a2a2a" stroke="#2a2a2a" stroke-width="0.05">5.6</text>
</g>
<g>
<clipPath id="cA3"><rect x="44.8" y="262.8" width="306.5" height="227.5"/></clipPath>
<g clip-path="url(#cA3)">
<line x1="177.7" y1="262.8" x2="177.7" y2="490.3" stroke="#dadada" stroke-width="1"/>
<line x1="267.3" y1="262.8" x2="267.3" y2="490.3" stroke="#dadada" stroke-width="1"/>
<line x1="222.5" y1="262.8" x2="222.5" y2="490.3" stroke="#c8c8c8" stroke-width="1" stroke-dasharray="3,2"/>
<line x1="44.8" y1="476.5" x2="351.3" y2="476.5" stroke="#d2d2d2" stroke-width="1" stroke-dasharray="2,0.6"/>
<text x="173.2" y="276.3" fill="#56a2a8" font-size="10.9" text-anchor="end" stroke="#56a2a8" stroke-width="0.15">DEGs = 101</text>
<text x="173.2" y="287.7" fill="#a76436" font-size="10.9" text-anchor="end" stroke="#a76436" stroke-width="0.15">Medium-specific</text>
<text x="173.2" y="300.7" fill="#a76436" font-size="10.9" text-anchor="end" stroke="#a76436" stroke-width="0.15">= 5 (5.0%)</text>
<text x="268.5" y="276.3" fill="#56a2a8" font-size="10.9" stroke="#56a2a8" stroke-width="0.15">DEGs = 168</text>
<text x="268.5" y="287.7" fill="#a76436" font-size="10.9" stroke="#a76436" stroke-width="0.15">Medium-specific</text>
<text x="268.5" y="300.7" fill="#a76436" font-size="10.9" stroke="#a76436" stroke-width="0.15">= 0</text>
<text x="345.8" y="472.5" fill="#889dc4" stroke="#889dc4" stroke-width="0.35" font-size="8.6" font-style="italic" text-anchor="end">P = 0.05</text>
<path d="M177.8 462.0 L179.5 463.0 L181.2 463.9 L182.8 464.9 L184.5 465.8 L185.3 466.4 L186.2 467.0 L187.1 467.5 L187.9 468.1 L188.8 468.6 L189.7 469.2 L190.5 469.8 L191.4 470.3 L193.6 471.7 L195.7 473.0 L197.8 474.3 L200.0 475.7 L202.6 476.8 L205.2 478.0 L207.8 479.2 L210.4 480.4 L211.3 480.6 L212.2 480.8 L213.0 481.0 L213.9 481.2 L216.1 481.7 L218.2 482.2 L220.3 482.7 L222.5 483.1 L226.4 482.4 L230.3 481.7 L234.2 480.9 L238.1 480.2 L240.0 479.4 L241.9 478.6 L243.8 477.8 L245.7 477.0 L247.6 476.2 L249.4 475.4 L251.3 474.6 L253.2 473.7 L255.7 472.1 L258.2 470.5 L260.8 468.9 L263.3 467.3 L264.2 467.0 L265.2 466.7 L266.2 466.4 L267.1 466.1 L267.1 476.7 L266.2 476.9 L265.2 477.2 L264.2 477.4 L263.3 477.6 L260.8 478.2 L258.2 478.8 L255.7 479.4 L253.2 480.0 L251.3 480.5 L249.4 480.9 L247.6 481.4 L245.7 481.8 L243.8 482.1 L241.9 482.3 L240.0 482.6 L238.1 482.9 L234.2 483.4 L230.3 484.0 L226.4 484.5 L222.5 485.1 L220.3 484.7 L218.2 484.3 L216.1 484.0 L213.9 483.6 L213.0 483.3 L212.2 483.1 L211.3 482.8 L210.4 482.6 L207.8 481.8 L205.2 481.0 L202.6 480.3 L200.0 479.5 L197.8 478.9 L195.7 478.3 L193.6 477.6 L191.4 477.0 L190.5 476.8 L189.7 476.5 L188.8 476.3 L187.9 476.0 L187.1 475.7 L186.2 475.5 L185.3 475.2 L184.5 475.0 L182.8 474.4 L181.2 473.9 L179.5 473.4 L177.8 472.9Z" fill="#3b3b3b"/><path d="M251.5 472.8h0M241.6 481.1h0M227.0 483.7h0M186.4 472.4h0M232.2 482.7h0M211.4 481.5h0M180.5 465.2h0M186.9 467.9h0M240.9 481.6h0M193.2 474.2h0M231.0 483.0h0M231.3 482.9h0M217.0 482.0h0M261.6 468.2h0M180.7 470.9h0M199.9 477.3h0M200.0 478.4h0M223.3 484.5h0M191.8 470.9h0M190.1 471.4h0M213.7 483.2h0M223.5 484.6h0M188.1 470.4h0M181.2 461.9h0M245.7 480.0h0M234.3 481.4h0M200.5 479.1h0M206.7 480.2h0M235.6 482.1h0M257.5 468.8h0M194.5 473.7h0M229.9 481.7h0M238.0 482.9h0M209.6 480.4h0M203.9 476.7h0M208.1 480.5h0M252.1 472.9h0M215.7 482.3h0M205.9 477.5h0M237.6 482.7h0M187.2 467.6h0M212.8 480.6h0M231.3 482.2h0M246.9 477.7h0M238.2 482.5h0M183.8 471.0h0M244.6 481.9h0M232.5 482.0h0M194.7 470.9h0M200.9 475.0h0M244.0 478.4h0M182.4 468.2h0M194.0 474.9h0M228.2 484.1h0M230.1 481.1h0M245.0 480.7h0M244.5 476.9h0M181.5 465.5h0M229.9 481.9h0M264.7 466.1h0M225.2 483.7h0M263.2 476.1h0M260.9 466.9h0M216.6 483.1h0M209.4 481.9h0M218.8 484.7h0M252.1 476.2h0M195.2 476.6h0M253.3 477.8h0M186.5 465.7h0M180.5 466.9h0M243.3 480.0h0M239.2 479.7h0M206.1 478.4h0M187.0 468.5h0M265.7 475.6h0M259.3 477.2h0M233.4 481.0h0M238.6 479.7h0M208.8 480.4h0M236.3 483.1h0M235.1 480.0h0M190.9 472.4h0M184.0 465.1h0M259.6 473.9h0M220.0 482.9h0M182.5 470.6h0M251.5 473.6h0M194.2 471.3h0M234.2 482.6h0M197.1 472.5h0M258.8 469.1h0M220.6 484.7h0M214.4 480.5h0M262.3 472.4h0M240.3 481.5h0M219.2 481.8h0M263.8 467.1h0M208.3 478.7h0M183.8 471.2h0M242.4 480.2h0M197.1 474.4h0M212.1 480.1h0M258.2 479.1h0M242.5 479.0h0M233.2 482.2h0M243.4 480.8h0M189.6 467.3h0M252.4 477.2h0M228.7 484.3h0M260.4 472.3h0" stroke="#383838" stroke-opacity="0.55" stroke-width="3.1" stroke-linecap="round" fill="none"/><path d="M231.5 480.8h0M181.4 468.4h0M189.7 471.8h0M203.2 479.4h0M219.3 482.5h0M242.8 478.2h0M241.4 479.3h0M240.1 480.6h0M223.9 482.1h0M217.3 481.6h0M226.6 481.9h0M232.9 482.0h0M201.2 475.6h0M187.0 465.1h0M180.1 472.6h0M220.7 484.6h0M222.9 483.1h0M186.4 467.9h0M265.4 467.9h0M195.0 473.7h0M236.2 479.9h0M242.6 480.7h0M201.0 478.1h0M262.8 472.0h0M223.2 482.8h0M235.1 481.8h0M236.4 482.2h0M217.9 482.9h0M251.1 476.9h0M247.7 479.0h0M187.2 471.1h0M215.5 480.9h0M261.1 471.6h0M192.0 474.6h0M209.2 479.5h0M193.0 473.7h0M259.8 472.8h0M252.2 474.8h0M209.3 481.4h0M183.4 471.8h0M185.9 473.3h0M188.2 471.0h0M193.9 472.5h0M204.2 478.9h0M216.9 482.2h0M241.2 481.6h0M219.7 483.8h0M223.4 483.8h0M194.8 473.9h0M215.8 482.4h0M189.2 468.7h0M253.1 474.5h0M262.2 477.3h0M243.3 478.4h0M202.6 476.1h0M236.9 481.4h0M247.3 480.9h0M231.5 482.0h0M203.0 477.5h0M210.2 481.7h0M206.9 481.4h0M220.1 482.8h0M225.1 484.6h0M261.9 477.1h0M239.5 481.0h0M223.7 484.9h0M194.0 475.1h0M226.5 482.6h0M205.9 478.8h0M262.3 475.3h0M220.9 484.2h0M194.0 474.1h0M239.0 479.1h0M234.3 483.7h0M232.3 481.6h0M197.4 477.0h0M262.9 473.0h0M262.1 468.1h0M189.7 471.1h0M260.7 477.2h0M196.3 474.2h0M234.1 480.3h0M186.4 468.7h0M241.2 481.8h0M209.4 481.6h0M201.2 477.6h0M201.9 479.1h0M180.5 473.3h0M188.8 471.3h0M183.2 467.1h0M248.1 475.9h0M213.3 480.7h0M201.9 476.3h0M201.2 476.1h0M247.7 476.2h0M180.8 461.9h0M233.9 480.5h0M243.1 481.6h0M234.1 481.9h0M248.0 478.7h0M233.1 483.3h0M199.2 478.6h0M260.9 469.7h0M196.9 477.8h0M236.0 483.3h0M202.9 478.9h0M223.4 485.2h0M264.6 464.7h0M242.7 477.3h0M217.9 481.7h0M252.7 480.2h0" stroke="#383838" stroke-opacity="0.55" stroke-width="3.1" stroke-linecap="round" fill="none"/><path d="M233.1 481.6h0M216.7 481.5h0M256.0 470.1h0M195.8 477.6h0M197.7 474.2h0M195.1 471.2h0M247.0 478.2h0M263.3 470.3h0M186.7 466.0h0M188.9 470.4h0M183.0 465.9h0M248.1 475.5h0M202.0 475.9h0M180.3 472.7h0M206.4 479.4h0M259.3 472.3h0M198.8 475.0h0M188.0 475.6h0M217.7 482.6h0M203.7 476.4h0M238.8 481.4h0M214.1 482.8h0M261.4 471.3h0M180.1 463.3h0M231.5 482.0h0M252.2 475.6h0M232.2 481.8h0M234.0 480.9h0M227.4 482.8h0M180.7 461.9h0M222.1 482.8h0M241.8 479.4h0M196.9 473.5h0M189.3 476.1h0M200.2 474.7h0M187.1 466.9h0M230.5 483.9h0M191.8 471.1h0M225.5 482.7h0M205.4 480.3h0M221.6 484.1h0M225.9 484.2h0M217.5 482.1h0M179.2 472.1h0M214.5 481.6h0M220.4 481.9h0M227.4 482.2h0M194.6 476.1h0M219.0 484.0h0M259.6 470.4h0M194.2 471.6h0M199.0 478.7h0M193.0 471.2h0M251.3 474.3h0M255.3 475.7h0M197.8 476.9h0M203.4 478.3h0M185.1 468.0h0M201.5 476.2h0M233.4 483.1h0M188.6 467.3h0M181.1 461.8h0M246.5 478.0h0M245.0 481.0h0M231.2 481.2h0M191.0 471.8h0M233.6 483.3h0M191.4 474.6h0M232.5 481.5h0M262.9 468.7h0M259.3 468.3h0M188.9 468.8h0M230.7 481.8h0M197.2 474.5h0M222.9 483.6h0M250.1 473.8h0M232.4 481.2h0M203.3 480.0h0M264.2 471.6h0M186.1 467.8h0M242.0 481.9h0M190.0 470.4h0M198.5 474.8h0M232.9 483.2h0M243.1 479.9h0M242.0 481.9h0M251.5 474.7h0M208.3 480.4h0M198.2 477.3h0M221.3 482.5h0M236.5 483.2h0M194.2 474.8h0M204.5 480.5h0M185.9 464.9h0M228.3 483.0h0M246.9 476.6h0M195.9 475.1h0M214.4 482.0h0M192.7 476.9h0M207.8 480.2h0M206.6 479.2h0M185.5 467.5h0M233.7 482.3h0M211.1 480.0h0M210.3 479.6h0M198.8 475.0h0M224.2 485.0h0M190.9 474.6h0M257.2 469.1h0M240.6 480.2h0M206.8 480.3h0" stroke="#383838" stroke-opacity="0.55" stroke-width="3.1" stroke-linecap="round" fill="none"/><path d="M207.1 480.1h0M226.5 482.9h0M204.5 478.2h0M224.5 484.4h0M229.9 481.0h0M264.3 469.8h0M243.5 478.5h0M193.5 473.1h0M179.5 460.2h0M220.0 483.0h0M221.4 484.1h0M199.6 474.2h0M217.1 482.9h0M250.1 478.3h0M263.2 468.3h0M196.4 474.8h0M229.9 481.6h0M186.3 468.9h0M240.1 478.9h0M216.7 481.5h0M224.6 483.7h0M230.9 482.4h0M243.2 481.2h0M236.6 483.1h0M195.1 477.5h0M255.5 470.2h0M231.8 482.3h0M245.7 476.5h0M210.6 482.9h0M184.9 470.8h0M204.1 477.7h0M254.9 477.5h0M233.6 480.6h0M224.6 482.6h0M238.4 482.1h0M209.7 480.1h0M210.7 481.6h0M199.4 475.8h0M260.7 476.9h0M203.9 480.1h0M247.2 477.7h0M185.5 464.4h0M182.6 469.9h0M182.2 462.0h0M208.8 479.8h0M232.0 481.3h0M253.8 475.0h0M248.1 477.3h0M202.2 479.2h0M219.5 482.4h0M233.0 481.4h0M251.7 473.6h0M245.2 479.9h0M222.7 482.4h0M181.5 465.6h0M210.5 480.3h0M204.8 477.4h0M224.4 483.9h0M196.7 474.4h0M194.4 477.0h0M204.9 481.2h0M208.4 479.6h0M247.0 477.0h0M188.0 466.4h0M185.6 469.7h0M225.8 484.0h0M258.3 475.8h0M231.5 483.0h0M227.1 483.7h0M179.5 467.3h0M222.4 482.9h0M200.9 477.1h0M226.8 482.8h0M213.4 481.2h0M265.0 465.1h0M198.7 476.1h0M204.5 479.4h0M194.0 475.4h0M225.5 482.3h0M261.8 475.5h0M186.9 471.6h0M210.7 480.1h0M209.9 482.6h0M225.1 484.6h0M197.4 477.3h0M218.5 483.6h0M256.1 477.6h0M179.5 467.8h0M265.4 466.8h0M265.8 465.4h0M260.4 474.0h0M206.9 481.5h0M216.1 482.1h0M226.4 484.1h0M206.2 478.1h0M207.9 480.2h0M204.4 478.5h0M188.1 466.7h0M238.8 480.3h0M204.7 477.6h0M232.1 482.1h0M255.6 471.8h0M186.9 471.4h0M219.6 482.3h0M211.6 482.0h0M186.6 473.9h0M189.0 474.8h0M255.4 479.4h0M245.2 476.9h0M260.2 469.0h0" stroke="#383838" stroke-opacity="0.55" stroke-width="3.1" stroke-linecap="round" fill="none"/><path d="M228.5 483.5h0M231.6 481.9h0M224.0 483.5h0M234.8 481.2h0M232.6 481.8h0M265.5 467.9h0M234.1 481.5h0M210.1 482.0h0M257.9 473.4h0M247.9 476.9h0M192.9 475.1h0M226.5 483.5h0M229.2 482.4h0M181.6 471.1h0M253.3 474.7h0M249.0 478.7h0M265.5 471.6h0M196.0 476.2h0M247.3 479.4h0M261.1 471.8h0M213.0 480.8h0M238.4 481.1h0M233.7 483.1h0M245.6 481.4h0M195.3 474.1h0M250.9 474.4h0M199.8 477.6h0M242.0 477.5h0M203.2 478.1h0M260.6 469.6h0M191.3 474.2h0M204.4 478.3h0M226.9 483.7h0M214.0 480.7h0M242.6 481.3h0M216.2 481.0h0M233.1 483.8h0M214.9 480.8h0M207.6 479.1h0M181.3 466.4h0M224.5 483.7h0M260.6 466.3h0M188.8 468.3h0M255.3 473.9h0M197.1 475.2h0M246.0 475.6h0M239.1 482.5h0M182.3 465.9h0M193.6 477.3h0M243.3 480.2h0M185.5 470.3h0M239.9 481.6h0M185.6 465.3h0M219.1 483.1h0M232.9 480.5h0M227.0 483.5h0M196.8 478.6h0M198.4 478.0h0M243.0 477.8h0M235.6 481.8h0M264.2 471.3h0M185.9 474.2h0M228.2 483.8h0M198.1 475.2h0M209.7 479.4h0M229.7 483.0h0M214.7 483.6h0M181.4 464.5h0M199.7 479.0h0M210.4 481.6h0M209.7 479.9h0M249.3 476.3h0M260.8 473.8h0M219.8 484.4h0M216.8 481.6h0M256.3 471.8h0M257.7 470.3h0M228.6 483.2h0M181.1 462.3h0M195.4 474.5h0M215.0 482.7h0M231.0 481.8h0M256.2 477.7h0M203.5 478.4h0M215.6 481.2h0M204.3 479.2h0M195.3 475.5h0M190.1 468.3h0M243.0 480.0h0M200.0 474.5h0M246.1 477.9h0M213.8 483.9h0M190.0 472.5h0M249.8 474.2h0M247.0 475.2h0M249.6 480.0h0M244.5 476.1h0M211.4 482.1h0M222.0 483.6h0M187.3 469.3h0M182.2 466.7h0M230.2 481.2h0M199.1 475.5h0M194.9 475.0h0M265.8 468.1h0M223.1 482.3h0M209.0 480.5h0M191.9 471.2h0M240.0 480.6h0M198.5 474.8h0" stroke="#383838" stroke-opacity="0.55" stroke-width="3.1" stroke-linecap="round" fill="none"/><path d="M234.8 480.4h0M237.9 480.8h0M194.5 471.8h0M233.3 481.9h0M245.8 479.6h0M212.4 483.0h0M237.0 480.9h0M256.2 477.1h0M234.4 481.7h0M207.1 478.1h0M217.0 482.8h0M201.1 476.2h0M226.6 482.8h0M222.0 482.7h0M258.1 471.1h0M230.1 483.8h0M265.6 469.9h0M245.7 478.7h0M246.8 480.7h0M245.8 478.3h0M179.6 466.1h0M247.1 477.5h0M198.3 478.1h0M199.3 474.9h0M230.8 482.4h0M239.0 480.5h0M239.6 479.0h0M218.0 482.9h0M261.7 475.7h0M250.6 474.2h0M184.1 467.2h0M231.1 480.8h0M219.9 483.2h0M231.9 481.5h0M212.5 481.9h0M255.4 472.5h0M244.5 481.5h0M218.0 483.5h0M222.0 483.1h0M244.9 480.8h0M181.4 463.0h0M226.3 482.4h0M220.6 483.9h0M260.8 470.9h0M216.2 482.3h0M212.7 481.9h0M236.3 479.9h0M251.2 475.1h0M235.1 480.9h0M185.1 466.2h0M242.7 481.6h0M244.2 482.2h0M263.3 465.2h0M234.4 480.7h0M227.5 482.2h0M183.8 464.8h0M218.2 484.4h0M221.0 483.8h0M225.1 482.1h0M259.1 469.2h0M246.3 478.4h0M186.5 466.6h0M191.4 476.1h0M229.8 482.7h0M233.0 482.9h0M240.1 482.5h0M218.6 481.6h0M254.5 472.3h0M184.0 467.1h0M184.8 471.5h0M246.6 478.9h0M258.0 470.7h0M195.5 474.3h0M238.9 479.0h0M237.0 480.1h0M230.0 481.2h0M263.9 475.7h0M191.9 476.2h0M246.3 476.7h0M247.6 477.2h0M193.8 477.0h0M258.5 468.2h0M202.3 477.6h0M226.3 482.6h0M217.1 481.6h0M196.2 474.2h0M223.2 482.7h0M197.3 476.4h0M263.9 464.4h0M232.2 483.8h0M221.4 483.4h0M263.2 466.3h0M227.4 482.1h0M190.3 468.4h0M184.9 467.8h0M241.8 478.7h0M258.1 469.4h0M186.1 468.8h0M214.7 480.9h0M241.1 480.7h0M254.2 476.9h0M252.7 477.5h0M236.0 480.9h0M248.4 478.7h0M239.5 480.5h0M246.9 476.8h0M198.0 478.4h0M262.8 465.4h0M228.8 481.3h0M254.6 479.8h0" stroke="#383838" stroke-opacity="0.55" stroke-width="3.1" stroke-linecap="round" fill="none"/><path d="M84.8 273.7h0M71.3 306.0h0M95.5 320.2h0M97.5 322.0h0M116.1 330.7h0M109.6 335.1h0M119.3 356.3h0M112.1 360.0h0M107.6 365.4h0M116.7 371.7h0M123.0 387.8h0M131.1 394.2h0M139.1 390.7h0M138.6 395.6h0M133.9 399.0h0M121.8 412.9h0M95.2 405.2h0M149.5 419.0h0M155.9 421.9h0M152.4 425.9h0M159.4 425.5h0M150.2 432.0h0M146.7 434.2h0M165.1 434.5h0M157.6 441.0h0M160.2 439.7h0M157.6 444.1h0M163.7 443.2h0M167.1 443.2h0M130.8 450.1h0M156.8 451.0h0M154.2 454.5h0M164.5 448.4h0M170.6 452.7h0M174.1 451.0h0M172.3 456.2h0M175.8 456.2h0M169.7 459.7h0M174.1 460.5h0M177.5 461.4h0M170.6 464.8h0M174.9 465.7h0M171.5 469.2h0M176.7 468.3h0M168.9 466.6h0M173.2 462.3h0M151.6 463.1h0M156.8 463.5h0M142.6 466.2h0M162.0 465.7h0M176.0 448.0h0M172.0 447.0h0M177.0 472.0h0M166.0 470.0h0M342.5 339.0h0M344.8 338.2h0M330.7 344.1h0M339.5 344.5h0M335.0 354.3h0M332.6 356.3h0M330.7 358.2h0M330.3 386.1h0M307.6 410.4h0M301.1 426.8h0M294.6 431.6h0M288.1 435.7h0M292.0 436.1h0M292.7 437.4h0M282.3 440.0h0M281.6 444.3h0M275.8 445.8h0M277.7 447.8h0M284.2 447.1h0M287.5 449.7h0M270.6 451.0h0M278.4 451.0h0M282.3 453.6h0M285.5 453.6h0M295.3 452.3h0M294.0 454.3h0M297.9 460.8h0M288.8 460.1h0M292.7 460.8h0M288.1 464.0h0M292.0 463.4h0M285.5 466.0h0M293.3 466.6h0M290.1 471.2h0M268.0 454.9h0M271.9 456.2h0M274.5 454.9h0M279.8 454.5h0M277.6 453.5h0M275.9 473.0h0M272.7 473.4h0M272.4 462.2h0M278.0 466.0h0M280.5 457.8h0M271.6 464.5h0M273.1 466.4h0M269.6 470.0h0M275.5 453.3h0M270.2 476.3h0M271.1 470.9h0M285.0 457.4h0M269.5 472.9h0M278.9 464.4h0M270.1 468.7h0M278.7 468.7h0M282.4 473.5h0M270.5 459.9h0M270.6 464.8h0M268.5 474.6h0M280.3 473.0h0M276.8 475.7h0M283.0 473.6h0M282.5 457.6h0M281.8 464.3h0M285.8 459.5h0M275.8 474.5h0M285.4 471.7h0M272.9 468.0h0M269.1 469.6h0M285.1 465.2h0M270.6 466.8h0M269.2 464.0h0M269.4 462.9h0M282.7 471.2h0M283.4 463.9h0M275.9 453.4h0M282.2 466.8h0M275.3 455.8h0M276.3 453.6h0M275.6 455.6h0M282.9 467.9h0M283.6 466.4h0M167.2 454.2h0M176.8 462.2h0M174.0 463.4h0M171.0 468.9h0M178.2 462.4h0M168.6 448.2h0M172.8 457.6h0M178.0 452.4h0M167.9 447.4h0M177.2 451.0h0M168.5 463.0h0M177.8 466.4h0M168.9 462.8h0M169.1 466.7h0M174.5 470.2h0M173.2 453.7h0M174.1 455.1h0M173.5 453.3h0M168.8 456.4h0M178.1 468.5h0" stroke="#3a7775" stroke-width="3.80" stroke-linecap="round" fill="none"/><path d="M84.8 273.7h0M71.3 306.0h0M95.5 320.2h0M97.5 322.0h0M116.1 330.7h0M109.6 335.1h0M119.3 356.3h0M112.1 360.0h0M107.6 365.4h0M116.7 371.7h0M123.0 387.8h0M131.1 394.2h0M139.1 390.7h0M138.6 395.6h0M133.9 399.0h0M121.8 412.9h0M95.2 405.2h0M149.5 419.0h0M155.9 421.9h0M152.4 425.9h0M159.4 425.5h0M150.2 432.0h0M146.7 434.2h0M165.1 434.5h0M157.6 441.0h0M160.2 439.7h0M157.6 444.1h0M163.7 443.2h0M167.1 443.2h0M130.8 450.1h0M156.8 451.0h0M154.2 454.5h0M164.5 448.4h0M170.6 452.7h0M174.1 451.0h0M172.3 456.2h0M175.8 456.2h0M169.7 459.7h0M174.1 460.5h0M177.5 461.4h0M170.6 464.8h0M174.9 465.7h0M171.5 469.2h0M176.7 468.3h0M168.9 466.6h0M173.2 462.3h0M151.6 463.1h0M156.8 463.5h0M142.6 466.2h0M162.0 465.7h0M176.0 448.0h0M172.0 447.0h0M177.0 472.0h0M166.0 470.0h0M342.5 339.0h0M344.8 338.2h0M330.7 344.1h0M339.5 344.5h0M335.0 354.3h0M332.6 356.3h0M330.7 358.2h0M330.3 386.1h0M307.6 410.4h0M301.1 426.8h0M294.6 431.6h0M288.1 435.7h0M292.0 436.1h0M292.7 437.4h0M282.3 440.0h0M281.6 444.3h0M275.8 445.8h0M277.7 447.8h0M284.2 447.1h0M287.5 449.7h0M270.6 451.0h0M278.4 451.0h0M282.3 453.6h0M285.5 453.6h0M295.3 452.3h0M294.0 454.3h0M297.9 460.8h0M288.8 460.1h0M292.7 460.8h0M288.1 464.0h0M292.0 463.4h0M285.5 466.0h0M293.3 466.6h0M290.1 471.2h0M268.0 454.9h0M271.9 456.2h0M274.5 454.9h0M279.8 454.5h0M277.6 453.5h0M275.9 473.0h0M272.7 473.4h0M272.4 462.2h0M278.0 466.0h0M280.5 457.8h0M271.6 464.5h0M273.1 466.4h0M269.6 470.0h0M275.5 453.3h0M270.2 476.3h0M271.1 470.9h0M285.0 457.4h0M269.5 472.9h0M278.9 464.4h0M270.1 468.7h0M278.7 468.7h0M282.4 473.5h0M270.5 459.9h0M270.6 464.8h0M268.5 474.6h0M280.3 473.0h0M276.8 475.7h0M283.0 473.6h0M282.5 457.6h0M281.8 464.3h0M285.8 459.5h0M275.8 474.5h0M285.4 471.7h0M272.9 468.0h0M269.1 469.6h0M285.1 465.2h0M270.6 466.8h0M269.2 464.0h0M269.4 462.9h0M282.7 471.2h0M283.4 463.9h0M275.9 453.4h0M282.2 466.8h0M275.3 455.8h0M276.3 453.6h0M275.6 455.6h0M282.9 467.9h0M283.6 466.4h0M167.2 454.2h0M176.8 462.2h0M174.0 463.4h0M171.0 468.9h0M178.2 462.4h0M168.6 448.2h0M172.8 457.6h0M178.0 452.4h0M167.9 447.4h0M177.2 451.0h0M168.5 463.0h0M177.8 466.4h0M168.9 462.8h0M169.1 466.7h0M174.5 470.2h0M173.2 453.7h0M174.1 455.1h0M173.5 453.3h0M168.8 456.4h0M178.1 468.5h0" stroke="#4aa3a3" stroke-width="2.68" stroke-linecap="round" fill="none"/><path d="M86.4 306.0h0M168.0 450.1h0M164.5 461.4h0M163.7 464.8h0" stroke="#7a3c1c" stroke-width="3.80" stroke-linecap="round" fill="none"/><path d="M86.4 306.0h0M168.0 450.1h0M164.5 461.4h0M163.7 464.8h0" stroke="#b5541f" stroke-width="2.68" stroke-linecap="round" fill="none"/><path d="M91.1 302.4h0" stroke="#222" stroke-width="1.3" stroke-linecap="round" fill="none"/>
</g>
<rect x="44.8" y="262.8" width="306.5" height="227.5" fill="none" stroke="#606060" stroke-width="1.3"/>
<line x1="40.3" y1="485.0" x2="44.8" y2="485.0" stroke="#555" stroke-width="1"/>
<text transform="translate(37.5,488.5) scale(0.9,1)" font-size="7.2" text-anchor="end" fill="#2a2a2a" stroke="#2a2a2a" stroke-width="0.05">0</text>
<line x1="40.3" y1="465.4" x2="44.8" y2="465.4" stroke="#555" stroke-width="1"/>
<text transform="translate(37.5,468.9) scale(0.9,1)" font-size="7.2" text-anchor="end" fill="#2a2a2a" stroke="#2a2a2a" stroke-width="0.05">3</text>
<line x1="40.3" y1="445.8" x2="44.8" y2="445.8" stroke="#555" stroke-width="1"/>
<text transform="translate(37.5,449.3) scale(0.9,1)" font-size="7.2" text-anchor="end" fill="#2a2a2a" stroke="#2a2a2a" stroke-width="0.05">6</text>
<line x1="40.3" y1="426.3" x2="44.8" y2="426.3" stroke="#555" stroke-width="1"/>
<text transform="translate(37.5,429.8) scale(0.9,1)" font-size="7.2" text-anchor="end" fill="#2a2a2a" stroke="#2a2a2a" stroke-width="0.05">9</text>
<line x1="40.3" y1="406.7" x2="44.8" y2="406.7" stroke="#555" stroke-width="1"/>
<text transform="translate(37.5,410.2) scale(0.9,1)" font-size="7.2" text-anchor="end" fill="#2a2a2a" stroke="#2a2a2a" stroke-width="0.05">12</text>
<line x1="40.3" y1="387.1" x2="44.8" y2="387.1" stroke="#555" stroke-width="1"/>
<text transform="translate(37.5,390.6) scale(0.9,1)" font-size="7.2" text-anchor="end" fill="#2a2a2a" stroke="#2a2a2a" stroke-width="0.05">15</text>
<line x1="40.3" y1="367.5" x2="44.8" y2="367.5" stroke="#555" stroke-width="1"/>
<text transform="translate(37.5,371.0) scale(0.9,1)" font-size="7.2" text-anchor="end" fill="#2a2a2a" stroke="#2a2a2a" stroke-width="0.05">18</text>
<line x1="40.3" y1="347.9" x2="44.8" y2="347.9" stroke="#555" stroke-width="1"/>
<text transform="translate(37.5,351.4) scale(0.9,1)" font-size="7.2" text-anchor="end" fill="#2a2a2a" stroke="#2a2a2a" stroke-width="0.05">21</text>
<line x1="40.3" y1="328.4" x2="44.8" y2="328.4" stroke="#555" stroke-width="1"/>
<text transform="translate(37.5,331.9) scale(0.9,1)" font-size="7.2" text-anchor="end" fill="#2a2a2a" stroke="#2a2a2a" stroke-width="0.05">24</text>
<line x1="40.3" y1="308.8" x2="44.8" y2="308.8" stroke="#555" stroke-width="1"/>
<text transform="translate(37.5,312.3) scale(0.9,1)" font-size="7.2" text-anchor="end" fill="#2a2a2a" stroke="#2a2a2a" stroke-width="0.05">27</text>
<line x1="40.3" y1="289.2" x2="44.8" y2="289.2" stroke="#555" stroke-width="1"/>
<text transform="translate(37.5,292.7) scale(0.9,1)" font-size="7.2" text-anchor="end" fill="#2a2a2a" stroke="#2a2a2a" stroke-width="0.05">30</text>
<line x1="40.3" y1="269.6" x2="44.8" y2="269.6" stroke="#555" stroke-width="1"/>
<text transform="translate(37.5,273.1) scale(0.9,1)" font-size="7.2" text-anchor="end" fill="#2a2a2a" stroke="#2a2a2a" stroke-width="0.05">33</text>
<line x1="50.0" y1="490.3" x2="50.0" y2="494.8" stroke="#555" stroke-width="1"/>
<text transform="translate(50.0,503.9) scale(0.9,1)" font-size="7.2" text-anchor="middle" fill="#2a2a2a" stroke="#2a2a2a" stroke-width="0.05">-7.7</text>
<line x1="74.7" y1="490.3" x2="74.7" y2="494.8" stroke="#555" stroke-width="1"/>
<text transform="translate(74.7,503.9) scale(0.9,1)" font-size="7.2" text-anchor="middle" fill="#2a2a2a" stroke="#2a2a2a" stroke-width="0.05">-6.6</text>
<line x1="99.3" y1="490.3" x2="99.3" y2="494.8" stroke="#555" stroke-width="1"/>
<text transform="translate(99.3,503.9) scale(0.9,1)" font-size="7.2" text-anchor="middle" fill="#2a2a2a" stroke="#2a2a2a" stroke-width="0.05">-5.5</text>
<line x1="123.9" y1="490.3" x2="123.9" y2="494.8" stroke="#555" stroke-width="1"/>
<text transform="translate(123.9,503.9) scale(0.9,1)" font-size="7.2" text-anchor="middle" fill="#2a2a2a" stroke="#2a2a2a" stroke-width="0.05">-4.4</text>
<line x1="148.6" y1="490.3" x2="148.6" y2="494.8" stroke="#555" stroke-width="1"/>
<text transform="translate(148.6,503.9) scale(0.9,1)" font-size="7.2" text-anchor="middle" fill="#2a2a2a" stroke="#2a2a2a" stroke-width="0.05">-3.3</text>
<line x1="173.2" y1="490.3" x2="173.2" y2="494.8" stroke="#555" stroke-width="1"/>
<text transform="translate(173.2,503.9) scale(0.9,1)" font-size="7.2" text-anchor="middle" fill="#2a2a2a" stroke="#2a2a2a" stroke-width="0.05">-2.2</text>
<line x1="197.9" y1="490.3" x2="197.9" y2="494.8" stroke="#555" stroke-width="1"/>
<text transform="translate(197.9,503.9) scale(0.9,1)" font-size="7.2" text-anchor="middle" fill="#2a2a2a" stroke="#2a2a2a" stroke-width="0.05">-1.1</text>
<line x1="222.5" y1="490.3" x2="222.5" y2="494.8" stroke="#555" stroke-width="1"/>
<text transform="translate(222.5,503.9) scale(0.9,1)" font-size="7.2" text-anchor="middle" fill="#2a2a2a" stroke="#2a2a2a" stroke-width="0.05">0.0</text>
<line x1="247.1" y1="490.3" x2="247.1" y2="494.8" stroke="#555" stroke-width="1"/>
<text transform="translate(247.1,503.9) scale(0.9,1)" font-size="7.2" text-anchor="middle" fill="#2a2a2a" stroke="#2a2a2a" stroke-width="0.05">1.1</text>
<line x1="271.8" y1="490.3" x2="271.8" y2="494.8" stroke="#555" stroke-width="1"/>
<text transform="translate(271.8,503.9) scale(0.9,1)" font-size="7.2" text-anchor="middle" fill="#2a2a2a" stroke="#2a2a2a" stroke-width="0.05">2.2</text>
<line x1="296.4" y1="490.3" x2="296.4" y2="494.8" stroke="#555" stroke-width="1"/>
<text transform="translate(296.4,503.9) scale(0.9,1)" font-size="7.2" text-anchor="middle" fill="#2a2a2a" stroke="#2a2a2a" stroke-width="0.05">3.3</text>
<line x1="321.1" y1="490.3" x2="321.1" y2="494.8" stroke="#555" stroke-width="1"/>
<text transform="translate(321.1,503.9) scale(0.9,1)" font-size="7.2" text-anchor="middle" fill="#2a2a2a" stroke="#2a2a2a" stroke-width="0.05">4.4</text>
</g>
<g>
<clipPath id="cA4"><rect x="387.2" y="262.9" width="303.2" height="227.60000000000002"/></clipPath>
<g clip-path="url(#cA4)">
<line x1="490.2" y1="262.9" x2="490.2" y2="490.5" stroke="#dadada" stroke-width="1"/>
<line x1="560.8" y1="262.9" x2="560.8" y2="490.5" stroke="#dadada" stroke-width="1"/>
<line x1="525.5" y1="262.9" x2="525.5" y2="490.5" stroke="#c8c8c8" stroke-width="1" stroke-dasharray="3,2"/>
<line x1="387.2" y1="482.4" x2="690.4" y2="482.4" stroke="#d2d2d2" stroke-width="1" stroke-dasharray="2,0.6"/>
<text x="485.7" y="276.0" fill="#56a2a8" font-size="10.9" text-anchor="end" stroke="#56a2a8" stroke-width="0.15">DEGs = 116</text>
<text x="485.7" y="287.4" fill="#a76436" font-size="10.9" text-anchor="end" stroke="#a76436" stroke-width="0.15">Medium-specific</text>
<text x="485.7" y="300.4" fill="#a76436" font-size="10.9" text-anchor="end" stroke="#a76436" stroke-width="0.15">= 6 (5.2%)</text>
<text x="565.2" y="276.0" fill="#56a2a8" font-size="10.9" stroke="#56a2a8" stroke-width="0.15">DEGs = 89</text>
<text x="565.2" y="287.4" fill="#a76436" font-size="10.9" stroke="#a76436" stroke-width="0.15">Medium-specific</text>
<text x="565.2" y="300.4" fill="#a76436" font-size="10.9" stroke="#a76436" stroke-width="0.15">= 4 (4.5%)</text>
<text x="684.9" y="478.5" fill="#889dc4" stroke="#889dc4" stroke-width="0.35" font-size="8.6" font-style="italic" text-anchor="end">P = 0.05</text>
<path d="M490.8 470.9 L492.2 471.4 L493.7 471.9 L495.2 472.4 L496.6 473.0 L497.9 473.4 L499.1 473.9 L500.4 474.4 L501.6 474.9 L503.7 475.9 L505.8 476.9 L507.8 477.9 L509.9 478.9 L512.0 479.7 L514.0 480.6 L516.1 481.4 L518.2 482.3 L520.1 482.5 L521.9 482.8 L523.8 483.1 L525.6 483.4 L527.9 483.1 L530.2 482.8 L532.5 482.5 L534.8 482.3 L536.8 481.3 L538.9 480.3 L541.0 479.3 L543.0 478.3 L544.7 477.4 L546.4 476.6 L548.0 475.7 L549.7 474.9 L551.0 473.9 L552.2 472.9 L553.5 471.9 L554.7 471.0 L555.5 469.5 L556.4 468.0 L557.2 466.5 L558.0 465.0 L558.6 464.7 L559.2 464.4 L559.9 464.0 L560.5 463.7 L560.5 482.8 L559.9 482.9 L559.2 482.9 L558.6 483.0 L558.0 483.0 L557.2 483.1 L556.4 483.2 L555.5 483.2 L554.7 483.3 L553.5 483.4 L552.2 483.5 L551.0 483.6 L549.7 483.7 L548.0 483.9 L546.4 484.0 L544.7 484.2 L543.0 484.3 L541.0 484.4 L538.9 484.5 L536.8 484.6 L534.8 484.7 L532.5 484.8 L530.2 484.9 L527.9 485.0 L525.6 485.1 L523.8 485.0 L521.9 484.9 L520.1 484.8 L518.2 484.7 L516.1 484.6 L514.0 484.5 L512.0 484.4 L509.9 484.3 L507.8 484.2 L505.8 484.1 L503.7 483.9 L501.6 483.8 L500.4 483.8 L499.1 483.7 L497.9 483.6 L496.6 483.5 L495.2 483.5 L493.7 483.4 L492.2 483.3 L490.8 483.2Z" fill="#3b3b3b"/><path d="M530.7 482.9h0M528.2 482.5h0M545.8 478.4h0M538.7 481.5h0M535.6 484.0h0M535.8 483.7h0M532.9 483.0h0M497.5 476.6h0M516.4 483.0h0M513.9 479.4h0M517.7 483.5h0M499.9 479.2h0M528.5 483.0h0M518.2 482.3h0M552.0 479.5h0M510.7 482.7h0M534.7 484.7h0M515.8 480.6h0M506.2 478.5h0M496.4 483.2h0M551.5 473.0h0M552.9 475.6h0M522.8 484.2h0M529.0 484.1h0M526.2 484.4h0M519.5 483.4h0M540.5 478.9h0M506.1 477.0h0M551.7 473.4h0M517.3 481.2h0M522.0 484.6h0M523.9 484.4h0M544.8 481.0h0M498.4 472.5h0M543.8 480.9h0M515.5 481.2h0M537.1 480.5h0M523.1 482.7h0M559.0 464.8h0M534.1 483.9h0M504.0 474.2h0M555.4 479.3h0M511.0 481.9h0M528.1 484.7h0M543.8 477.9h0M521.8 482.2h0M499.8 472.3h0M496.6 481.1h0M556.6 466.1h0M495.2 475.1h0M500.6 481.0h0M554.5 473.4h0M537.9 480.4h0M547.6 480.5h0M502.3 478.5h0M533.7 484.2h0M502.3 476.2h0M506.7 476.5h0M548.2 476.5h0M513.8 483.2h0M543.2 479.4h0M534.5 483.8h0M508.8 483.9h0M538.1 483.9h0M527.1 484.3h0M555.4 469.8h0M503.1 478.7h0M512.2 483.2h0M529.1 484.9h0M538.7 479.1h0M552.8 478.0h0M535.4 481.1h0M506.1 484.0h0M523.1 483.5h0M508.1 478.4h0M510.4 480.9h0M506.8 477.5h0M542.9 482.5h0M514.2 480.3h0M546.3 483.8h0M502.2 480.5h0M500.8 472.0h0M511.7 482.4h0M533.1 483.1h0M509.9 481.4h0M552.1 476.5h0M538.9 481.2h0M519.0 483.5h0M546.8 481.1h0M554.8 469.3h0M518.9 482.5h0M528.3 484.4h0M512.1 481.5h0M554.0 468.4h0M525.7 483.7h0M536.4 483.2h0M507.0 478.1h0M520.6 483.5h0M522.6 482.4h0M551.7 473.8h0M553.6 481.5h0M545.7 478.4h0M526.1 485.0h0M501.9 479.8h0M558.1 461.8h0M514.3 483.5h0M547.4 475.6h0M510.9 477.8h0M497.0 478.7h0M550.5 482.6h0M539.8 481.6h0M494.7 472.1h0M552.4 476.2h0M546.9 476.8h0M503.3 479.1h0M553.6 469.6h0M559.0 466.6h0M519.7 485.0h0M498.1 482.7h0M499.7 475.0h0M534.1 484.6h0M525.3 483.6h0M545.2 475.7h0" stroke="#383838" stroke-opacity="0.55" stroke-width="3.1" stroke-linecap="round" fill="none"/><path d="M531.8 482.0h0M549.5 474.1h0M531.8 483.5h0M534.5 481.7h0M512.1 482.6h0M542.7 477.1h0M528.1 483.6h0M537.8 483.2h0M500.9 472.7h0M521.5 482.4h0M523.9 483.7h0M520.1 483.4h0M549.5 472.9h0M548.4 477.8h0M544.3 483.8h0M508.0 481.0h0M532.0 482.9h0M503.0 480.8h0M555.5 482.9h0M532.5 482.1h0M526.2 484.3h0M547.8 480.5h0M521.9 484.1h0M540.7 482.0h0M528.3 483.2h0M557.2 469.3h0M541.5 477.5h0M536.0 484.7h0M492.2 468.7h0M519.5 484.3h0M553.4 477.3h0M502.2 474.0h0M517.7 484.5h0M516.1 483.4h0M526.7 484.3h0M535.9 483.0h0M519.5 482.4h0M492.9 469.9h0M538.8 480.5h0M496.3 476.1h0M550.5 477.9h0M541.7 481.4h0M544.2 477.3h0M513.1 482.5h0M526.1 483.3h0M513.4 481.4h0M558.6 464.8h0M556.0 471.5h0M528.2 483.5h0M503.9 480.2h0M511.9 483.3h0M512.3 480.4h0M505.1 481.6h0M545.4 480.0h0M499.7 475.7h0M503.9 482.0h0M510.8 479.6h0M492.3 474.2h0M493.6 482.0h0M506.1 479.0h0M522.3 484.5h0M559.0 459.3h0M504.3 478.0h0M503.7 478.3h0M510.8 483.8h0M526.3 484.9h0M527.8 485.1h0M513.3 480.4h0M548.3 475.3h0M539.6 484.5h0M517.2 481.6h0M547.8 475.9h0M502.9 479.2h0M513.2 479.9h0M543.0 477.3h0M531.7 482.0h0M535.7 480.9h0M536.3 480.5h0M495.0 472.0h0M492.6 473.8h0M504.5 480.6h0M492.9 470.9h0M524.4 483.9h0M511.1 478.9h0M526.3 484.3h0M511.8 479.0h0M521.9 482.5h0M513.4 480.6h0M554.4 468.0h0M495.0 482.9h0M492.8 468.9h0M501.9 480.4h0M496.1 481.7h0M499.5 473.9h0M542.3 479.5h0M518.6 483.0h0M514.2 481.6h0M505.9 479.5h0M543.6 478.2h0M536.7 482.1h0M541.4 479.1h0M521.3 483.3h0M523.9 483.0h0M541.0 477.7h0M492.2 468.3h0M539.1 483.6h0M503.5 479.9h0M500.2 480.7h0M498.8 474.2h0M525.0 483.8h0M533.0 482.8h0M525.7 482.8h0M539.3 480.9h0M512.8 483.7h0M558.2 460.1h0M498.2 480.7h0M515.3 483.3h0M528.2 483.2h0M495.3 473.2h0M558.2 460.9h0M542.8 483.4h0M521.9 483.8h0M505.2 484.1h0" stroke="#383838" stroke-opacity="0.55" stroke-width="3.1" stroke-linecap="round" fill="none"/><path d="M521.7 483.8h0M533.1 483.1h0M553.0 470.9h0M551.9 476.1h0M510.9 480.2h0M551.3 482.4h0M533.5 482.2h0M556.6 475.9h0M521.8 483.2h0M494.0 479.0h0M504.3 478.1h0M506.2 476.0h0M499.6 477.2h0M549.8 474.5h0M525.6 484.4h0M520.6 483.2h0M517.8 481.2h0M530.4 483.3h0M514.2 482.7h0M529.0 483.5h0M512.2 478.5h0M551.7 475.4h0M497.2 477.7h0M554.0 482.4h0M548.9 480.2h0M527.7 482.9h0M542.9 483.2h0M527.6 484.5h0M509.8 479.3h0M535.8 483.2h0M533.2 484.7h0M532.7 482.4h0M494.6 479.4h0M533.1 483.6h0M519.7 481.9h0M559.2 479.6h0M538.8 481.4h0M515.6 482.8h0M553.5 480.2h0M529.1 483.6h0M514.2 482.4h0M494.5 473.1h0M555.0 479.6h0M523.1 482.4h0M514.4 479.7h0M529.7 483.3h0M530.4 484.7h0M507.7 479.9h0M538.5 482.3h0M507.5 478.6h0M549.2 479.0h0M525.8 483.8h0M548.7 478.3h0M529.8 482.9h0M503.8 479.5h0M541.8 479.3h0M503.8 482.6h0M530.7 484.3h0M547.9 474.7h0M495.1 469.6h0M545.8 477.7h0M535.4 481.9h0M534.9 481.8h0M527.1 484.6h0M538.5 480.8h0M521.4 485.0h0M529.9 484.8h0M515.7 483.4h0M493.2 478.0h0M493.4 479.2h0M528.6 483.2h0M516.2 484.8h0M515.5 483.2h0M506.8 476.8h0M501.2 480.7h0M504.9 476.0h0M525.3 484.2h0M518.9 482.8h0M502.8 474.1h0M522.6 483.3h0M528.6 484.3h0M494.9 478.3h0M499.3 481.5h0M509.7 481.7h0M526.7 485.2h0M500.0 478.2h0M523.8 482.5h0M536.8 481.7h0M533.8 482.1h0M559.2 469.3h0M533.1 481.7h0M512.5 481.3h0M529.1 484.3h0M493.7 480.9h0M497.2 476.5h0M554.6 482.1h0M558.2 468.4h0M496.9 470.6h0M502.9 475.7h0M541.1 480.3h0M551.9 470.4h0M539.7 479.2h0M521.6 482.3h0M506.6 481.5h0M535.6 483.7h0M532.7 483.3h0M503.6 475.1h0M549.3 483.4h0M506.6 478.7h0M511.6 483.1h0M539.8 478.7h0M520.1 483.3h0M529.1 484.4h0M537.3 480.9h0M547.0 475.2h0M546.2 481.9h0M504.6 477.4h0M551.7 470.5h0M525.1 483.5h0M551.3 473.7h0M524.8 483.1h0M543.3 478.6h0M550.5 471.6h0" stroke="#383838" stroke-opacity="0.55" stroke-width="3.1" stroke-linecap="round" fill="none"/><path d="M542.5 479.7h0M511.6 483.1h0M504.0 474.5h0M518.1 482.2h0M550.1 475.5h0M553.6 479.1h0M540.5 479.6h0M525.1 483.9h0M508.5 476.8h0M558.4 472.6h0M530.8 483.1h0M512.4 480.9h0M536.8 482.7h0M519.8 482.5h0M526.0 484.1h0M543.5 476.2h0M513.0 484.5h0M545.2 480.7h0M509.2 478.2h0M519.4 482.9h0M535.1 484.5h0M528.7 483.7h0M493.8 472.8h0M495.8 470.8h0M530.4 483.2h0M532.7 483.1h0M513.6 479.4h0M549.8 476.8h0M543.4 479.3h0M545.1 480.2h0M556.0 464.7h0M541.7 481.0h0M493.1 475.9h0M493.1 480.6h0M508.9 480.6h0M549.2 475.2h0M543.8 479.7h0M539.0 481.0h0M501.8 473.8h0M531.1 484.8h0M551.4 471.5h0M509.2 477.5h0M506.2 480.1h0M541.6 480.9h0M541.8 478.3h0M548.8 474.2h0M513.6 482.4h0M516.4 482.5h0M497.1 476.5h0M539.8 478.9h0M524.3 483.0h0M534.8 482.2h0M493.4 471.6h0M540.3 482.8h0M557.9 471.2h0M511.7 482.1h0M496.7 471.5h0M558.4 468.6h0M510.1 477.7h0M506.2 477.4h0M523.2 482.3h0M510.3 478.7h0M510.0 482.8h0M536.4 482.1h0M510.5 482.4h0M506.1 476.6h0M513.5 482.5h0M494.6 471.5h0M548.2 478.1h0M536.8 480.4h0M495.9 474.0h0M559.3 480.5h0M551.1 470.8h0M543.6 478.7h0M496.2 473.2h0M495.4 480.1h0M551.1 479.4h0M536.1 481.6h0M547.4 479.6h0M548.6 474.4h0M510.1 483.4h0M524.7 483.9h0M496.1 482.4h0M495.1 479.0h0M518.1 484.4h0M496.2 471.8h0M554.3 476.5h0M527.1 483.3h0M505.3 481.7h0M544.4 476.5h0M538.3 482.4h0M555.4 477.3h0M507.7 477.2h0M509.2 483.0h0M505.6 479.0h0M551.9 475.2h0M537.0 481.8h0M527.1 484.3h0M557.9 463.5h0M545.8 482.2h0M534.9 482.6h0M546.9 476.5h0M516.2 482.4h0M557.3 469.2h0M523.9 484.2h0M500.2 472.0h0M555.8 471.6h0M505.3 478.4h0M494.2 474.2h0M525.6 485.2h0M529.8 482.9h0M552.3 470.5h0M511.0 482.3h0M535.2 482.1h0M502.6 473.9h0M515.4 480.8h0M540.5 482.7h0M535.6 484.0h0M513.9 481.1h0M492.5 480.1h0M558.3 463.5h0M557.6 462.0h0M514.8 481.4h0" stroke="#383838" stroke-opacity="0.55" stroke-width="3.1" stroke-linecap="round" fill="none"/><path d="M510.1 477.8h0M521.8 482.5h0M537.6 482.6h0M536.9 484.2h0M535.5 481.7h0M500.8 475.7h0M547.7 478.3h0M557.3 478.4h0M499.1 474.3h0M494.6 478.7h0M541.8 480.7h0M533.0 484.4h0M555.6 473.2h0M526.7 484.9h0M529.0 483.7h0M509.6 481.7h0M499.2 479.8h0M552.7 473.7h0M535.6 484.1h0M553.4 473.7h0M527.0 483.9h0M555.4 472.3h0M498.4 471.7h0M538.3 482.9h0M550.8 476.8h0M536.3 483.4h0M499.2 472.3h0M492.9 476.3h0M499.8 479.9h0M547.8 474.9h0M538.0 483.8h0M529.0 484.1h0M517.5 481.4h0M537.7 480.8h0M553.1 475.8h0M539.8 481.2h0M500.1 476.6h0M511.4 483.2h0M493.3 474.6h0M516.2 481.0h0M556.1 466.4h0M504.2 476.7h0M513.6 483.2h0M558.6 475.3h0M528.3 482.5h0M504.2 476.3h0M497.8 477.7h0M503.9 475.8h0M547.0 476.7h0M526.0 485.1h0M504.2 478.2h0M551.9 470.3h0M501.0 479.8h0M537.2 483.7h0M525.7 485.2h0M510.6 480.3h0M528.1 485.2h0M500.8 474.3h0M546.7 482.6h0M515.7 480.4h0M523.3 482.9h0M549.9 477.6h0M520.2 484.3h0M556.8 463.3h0M558.8 468.3h0M499.5 480.4h0M559.1 470.7h0M512.1 482.5h0M503.9 473.7h0M499.8 474.8h0M502.0 474.1h0M494.9 474.1h0M557.8 477.0h0M497.1 481.3h0M516.1 481.5h0M538.9 484.0h0M553.5 477.0h0M518.3 483.4h0M498.7 480.2h0M501.1 472.3h0M496.7 470.8h0M539.4 480.8h0M535.6 481.1h0M554.1 474.9h0M524.2 483.6h0M542.1 477.4h0M528.3 483.8h0M492.4 474.9h0M506.6 478.9h0M512.4 484.5h0M504.1 478.1h0M507.4 477.5h0M524.4 483.5h0M502.3 480.5h0M557.8 477.0h0M553.7 476.4h0M509.0 476.7h0M528.9 483.3h0M495.0 478.4h0M523.7 483.3h0M523.9 483.8h0M508.4 484.5h0M509.8 483.1h0M545.6 474.8h0M544.1 480.3h0M538.7 484.2h0M536.8 480.3h0M507.9 480.5h0M515.0 480.2h0M492.6 477.9h0M529.5 484.8h0M543.8 480.0h0M558.2 482.0h0M532.3 484.9h0M547.4 481.3h0M547.9 479.0h0M542.1 479.5h0M549.8 478.1h0M498.4 480.2h0M531.2 483.2h0M544.6 481.0h0M545.9 482.7h0M517.9 483.3h0" stroke="#383838" stroke-opacity="0.55" stroke-width="3.1" stroke-linecap="round" fill="none"/><path d="M507.2 483.3h0M529.3 482.2h0M542.1 480.8h0M526.3 484.4h0M518.3 483.2h0M515.3 483.6h0M535.0 484.3h0M508.9 479.0h0M496.4 475.3h0M516.4 482.3h0M506.3 475.5h0M521.0 484.5h0M550.5 482.5h0M552.5 471.2h0M543.1 478.7h0M526.9 485.3h0M541.7 478.8h0M538.4 481.2h0M539.4 479.2h0M542.2 480.4h0M532.3 483.9h0M528.0 484.0h0M513.3 482.7h0M535.3 483.3h0M550.2 472.5h0M517.4 484.9h0M545.6 482.3h0M492.7 469.3h0M541.2 483.3h0M504.0 477.7h0M536.6 482.4h0M536.1 482.7h0M494.9 469.2h0M558.9 475.2h0M546.7 478.1h0M542.4 484.0h0M542.7 482.7h0M520.3 482.1h0M519.1 481.8h0M511.4 482.9h0M537.8 483.9h0M521.4 484.9h0M542.6 484.5h0M504.7 477.2h0M523.6 482.5h0M527.4 483.9h0M516.7 482.8h0M554.8 472.2h0M494.7 471.1h0M494.6 481.7h0M494.8 475.5h0M556.7 466.0h0M554.0 479.5h0M508.5 477.8h0M509.7 483.3h0M530.3 484.6h0M516.0 481.7h0M493.9 472.6h0M551.6 483.4h0M529.7 483.4h0M503.0 479.3h0M530.1 483.0h0M509.4 480.3h0M534.2 484.5h0M538.9 482.9h0M515.0 479.9h0M512.1 482.1h0M549.1 472.9h0M506.3 482.0h0M537.4 484.6h0M544.1 478.3h0M558.8 470.7h0M538.9 483.4h0M546.3 474.7h0M503.1 476.4h0M548.6 473.9h0M519.4 482.1h0M503.9 476.9h0M506.0 475.0h0M522.9 483.6h0M521.5 483.5h0M539.2 484.1h0M531.9 484.2h0M541.1 480.7h0M553.3 470.2h0M504.5 475.3h0M552.7 471.0h0M538.7 480.3h0M552.1 477.8h0M550.3 472.3h0M550.2 476.6h0M555.1 478.1h0M536.1 481.5h0M546.7 475.9h0M513.7 481.1h0M535.8 484.7h0M517.6 484.8h0M518.2 482.0h0M492.1 472.2h0M496.6 475.0h0M532.5 483.7h0M500.1 482.3h0M530.9 484.6h0M536.4 483.4h0M497.8 471.6h0M552.5 473.7h0M527.1 483.9h0M493.7 472.7h0M505.0 480.5h0M517.4 483.6h0M548.1 477.6h0M521.0 482.6h0M506.7 481.9h0M545.5 475.8h0M553.4 470.9h0M519.8 482.5h0M530.5 483.3h0M556.8 463.4h0M541.4 482.4h0M548.3 483.5h0M535.0 482.7h0M525.9 483.8h0" stroke="#383838" stroke-opacity="0.55" stroke-width="3.1" stroke-linecap="round" fill="none"/><path d="M492.5 462.3h0M495.8 466.4h0M556.3 459.0h0M554.0 461.0h0" stroke="#555" stroke-opacity="0.6" stroke-width="3.2" stroke-linecap="round" fill="none"/><path d="M433.9 404.4h0M423.4 422.0h0M450.8 423.9h0M417.6 433.3h0M419.5 433.0h0M431.5 437.2h0M443.7 438.3h0M450.5 433.3h0M455.6 436.9h0M463.5 437.6h0M466.4 434.7h0M470.0 436.2h0M472.9 433.3h0M466.1 441.2h0M452.7 444.1h0M459.2 449.2h0M464.2 444.8h0M475.8 443.4h0M479.4 442.7h0M467.8 449.2h0M433.9 455.7h0M477.9 453.5h0M481.5 454.2h0M485.1 457.8h0M472.2 457.8h0M453.4 469.7h0M459.2 468.6h0M683.4 269.1h0M621.6 290.4h0M616.8 309.8h0M619.4 310.1h0M622.5 342.3h0M620.6 350.4h0M614.2 375.9h0M606.7 386.3h0M611.6 392.5h0M613.6 396.0h0M619.4 398.1h0M609.8 402.4h0M586.1 411.6h0M573.8 426.6h0M573.7 427.0h0M584.0 433.8h0M579.2 437.1h0M571.6 438.6h0M570.4 444.0h0M571.2 446.5h0M572.1 449.0h0M599.4 437.4h0M592.3 447.9h0M594.1 455.2h0M566.3 451.5h0M567.1 454.8h0M572.9 455.7h0M584.5 461.5h0M583.7 462.8h0M563.0 458.1h0M564.6 461.5h0M567.9 464.8h0M569.6 469.8h0M563.0 469.8h0M566.3 473.1h0M579.5 468.1h0M582.8 472.2h0M572.9 469.8h0M563.0 476.4h0M567.9 478.0h0M571.2 477.2h0M574.6 476.4h0M563.0 480.5h0M567.9 479.7h0M468.1 474.8h0M484.3 474.6h0M487.5 461.7h0M470.0 468.6h0M484.2 476.7h0M489.7 479.9h0M476.8 476.7h0M484.9 471.5h0M481.0 479.5h0M485.3 462.8h0M462.8 476.0h0M484.8 463.5h0M485.8 477.2h0M466.6 462.7h0M480.4 474.0h0M468.0 479.0h0M481.6 472.2h0M487.6 469.7h0M473.5 464.6h0M485.7 466.7h0M482.3 481.8h0M471.0 473.2h0M473.6 460.6h0M485.5 470.8h0M484.4 459.9h0M466.6 464.5h0M462.6 468.1h0M472.8 479.3h0M486.0 464.8h0M482.8 467.6h0M483.5 474.8h0M464.0 470.3h0M473.9 470.0h0M477.5 475.6h0M473.3 471.5h0M485.2 475.3h0M467.4 462.3h0M469.6 481.8h0M472.8 480.1h0M489.0 475.8h0M472.3 476.9h0M476.1 481.9h0M476.0 474.3h0M481.2 474.1h0M467.0 472.6h0M474.0 475.3h0M483.7 464.0h0M472.4 465.1h0M488.9 470.8h0M474.6 482.2h0M483.9 479.6h0M476.1 462.0h0M472.4 461.0h0M473.2 469.8h0M475.4 482.5h0M571.1 457.1h0M564.4 473.1h0M570.8 464.7h0M570.4 464.7h0M573.9 470.4h0M561.9 467.4h0M565.8 470.1h0M569.8 475.6h0M579.3 475.0h0M572.7 467.7h0M563.1 474.6h0M564.7 463.8h0M572.1 460.2h0M577.4 468.9h0M569.8 462.0h0" stroke="#3a7775" stroke-width="3.80" stroke-linecap="round" fill="none"/><path d="M433.9 404.4h0M423.4 422.0h0M450.8 423.9h0M417.6 433.3h0M419.5 433.0h0M431.5 437.2h0M443.7 438.3h0M450.5 433.3h0M455.6 436.9h0M463.5 437.6h0M466.4 434.7h0M470.0 436.2h0M472.9 433.3h0M466.1 441.2h0M452.7 444.1h0M459.2 449.2h0M464.2 444.8h0M475.8 443.4h0M479.4 442.7h0M467.8 449.2h0M433.9 455.7h0M477.9 453.5h0M481.5 454.2h0M485.1 457.8h0M472.2 457.8h0M453.4 469.7h0M459.2 468.6h0M683.4 269.1h0M621.6 290.4h0M616.8 309.8h0M619.4 310.1h0M622.5 342.3h0M620.6 350.4h0M614.2 375.9h0M606.7 386.3h0M611.6 392.5h0M613.6 396.0h0M619.4 398.1h0M609.8 402.4h0M586.1 411.6h0M573.8 426.6h0M573.7 427.0h0M584.0 433.8h0M579.2 437.1h0M571.6 438.6h0M570.4 444.0h0M571.2 446.5h0M572.1 449.0h0M599.4 437.4h0M592.3 447.9h0M594.1 455.2h0M566.3 451.5h0M567.1 454.8h0M572.9 455.7h0M584.5 461.5h0M583.7 462.8h0M563.0 458.1h0M564.6 461.5h0M567.9 464.8h0M569.6 469.8h0M563.0 469.8h0M566.3 473.1h0M579.5 468.1h0M582.8 472.2h0M572.9 469.8h0M563.0 476.4h0M567.9 478.0h0M571.2 477.2h0M574.6 476.4h0M563.0 480.5h0M567.9 479.7h0M468.1 474.8h0M484.3 474.6h0M487.5 461.7h0M470.0 468.6h0M484.2 476.7h0M489.7 479.9h0M476.8 476.7h0M484.9 471.5h0M481.0 479.5h0M485.3 462.8h0M462.8 476.0h0M484.8 463.5h0M485.8 477.2h0M466.6 462.7h0M480.4 474.0h0M468.0 479.0h0M481.6 472.2h0M487.6 469.7h0M473.5 464.6h0M485.7 466.7h0M482.3 481.8h0M471.0 473.2h0M473.6 460.6h0M485.5 470.8h0M484.4 459.9h0M466.6 464.5h0M462.6 468.1h0M472.8 479.3h0M486.0 464.8h0M482.8 467.6h0M483.5 474.8h0M464.0 470.3h0M473.9 470.0h0M477.5 475.6h0M473.3 471.5h0M485.2 475.3h0M467.4 462.3h0M469.6 481.8h0M472.8 480.1h0M489.0 475.8h0M472.3 476.9h0M476.1 481.9h0M476.0 474.3h0M481.2 474.1h0M467.0 472.6h0M474.0 475.3h0M483.7 464.0h0M472.4 465.1h0M488.9 470.8h0M474.6 482.2h0M483.9 479.6h0M476.1 462.0h0M472.4 461.0h0M473.2 469.8h0M475.4 482.5h0M571.1 457.1h0M564.4 473.1h0M570.8 464.7h0M570.4 464.7h0M573.9 470.4h0M561.9 467.4h0M565.8 470.1h0M569.8 475.6h0M579.3 475.0h0M572.7 467.7h0M563.1 474.6h0M564.7 463.8h0M572.1 460.2h0M577.4 468.9h0M569.8 462.0h0" stroke="#4aa3a3" stroke-width="2.68" stroke-linecap="round" fill="none"/><path d="M455.6 433.3h0M453.4 447.7h0M471.0 454.9h0M445.5 466.2h0M452.2 466.8h0M481.5 471.5h0M592.0 427.5h0M561.3 466.4h0M578.7 469.8h0M571.2 473.9h0" stroke="#7a3c1c" stroke-width="3.80" stroke-linecap="round" fill="none"/><path d="M455.6 433.3h0M453.4 447.7h0M471.0 454.9h0M445.5 466.2h0M452.2 466.8h0M481.5 471.5h0M592.0 427.5h0M561.3 466.4h0M578.7 469.8h0M571.2 473.9h0" stroke="#b5541f" stroke-width="2.68" stroke-linecap="round" fill="none"/><path d="M459.9 430.4h0M457.3 444.1h0M474.3 451.3h0M449.1 461.7h0M456.0 463.3h0M595.8 423.3h0" stroke="#222" stroke-width="1.3" stroke-linecap="round" fill="none"/>
</g>
<rect x="387.2" y="262.9" width="303.2" height="227.60000000000002" fill="none" stroke="#606060" stroke-width="1.3"/>
<line x1="382.7" y1="484.9" x2="387.2" y2="484.9" stroke="#555" stroke-width="1"/>
<text transform="translate(379.9,488.4) scale(0.9,1)" font-size="7.2" text-anchor="end" fill="#2a2a2a" stroke="#2a2a2a" stroke-width="0.05">0</text>
<line x1="382.7" y1="463.7" x2="387.2" y2="463.7" stroke="#555" stroke-width="1"/>
<text transform="translate(379.9,467.2) scale(0.9,1)" font-size="7.2" text-anchor="end" fill="#2a2a2a" stroke="#2a2a2a" stroke-width="0.05">11</text>
<line x1="382.7" y1="442.6" x2="387.2" y2="442.6" stroke="#555" stroke-width="1"/>
<text transform="translate(379.9,446.1) scale(0.9,1)" font-size="7.2" text-anchor="end" fill="#2a2a2a" stroke="#2a2a2a" stroke-width="0.05">22</text>
<line x1="382.7" y1="421.4" x2="387.2" y2="421.4" stroke="#555" stroke-width="1"/>
<text transform="translate(379.9,424.9) scale(0.9,1)" font-size="7.2" text-anchor="end" fill="#2a2a2a" stroke="#2a2a2a" stroke-width="0.05">33</text>
<line x1="382.7" y1="400.3" x2="387.2" y2="400.3" stroke="#555" stroke-width="1"/>
<text transform="translate(379.9,403.8) scale(0.9,1)" font-size="7.2" text-anchor="end" fill="#2a2a2a" stroke="#2a2a2a" stroke-width="0.05">44</text>
<line x1="382.7" y1="379.1" x2="387.2" y2="379.1" stroke="#555" stroke-width="1"/>
<text transform="translate(379.9,382.6) scale(0.9,1)" font-size="7.2" text-anchor="end" fill="#2a2a2a" stroke="#2a2a2a" stroke-width="0.05">55</text>
<line x1="382.7" y1="358.0" x2="387.2" y2="358.0" stroke="#555" stroke-width="1"/>
<text transform="translate(379.9,361.5) scale(0.9,1)" font-size="7.2" text-anchor="end" fill="#2a2a2a" stroke="#2a2a2a" stroke-width="0.05">66</text>
<line x1="382.7" y1="336.8" x2="387.2" y2="336.8" stroke="#555" stroke-width="1"/>
<text transform="translate(379.9,340.3) scale(0.9,1)" font-size="7.2" text-anchor="end" fill="#2a2a2a" stroke="#2a2a2a" stroke-width="0.05">77</text>
<line x1="382.7" y1="315.7" x2="387.2" y2="315.7" stroke="#555" stroke-width="1"/>
<text transform="translate(379.9,319.2) scale(0.9,1)" font-size="7.2" text-anchor="end" fill="#2a2a2a" stroke="#2a2a2a" stroke-width="0.05">88</text>
<line x1="382.7" y1="294.5" x2="387.2" y2="294.5" stroke="#555" stroke-width="1"/>
<text transform="translate(379.9,298.0) scale(0.9,1)" font-size="7.2" text-anchor="end" fill="#2a2a2a" stroke="#2a2a2a" stroke-width="0.05">99</text>
<line x1="382.7" y1="273.4" x2="387.2" y2="273.4" stroke="#555" stroke-width="1"/>
<text transform="translate(379.9,276.9) scale(0.9,1)" font-size="7.2" text-anchor="end" fill="#2a2a2a" stroke="#2a2a2a" stroke-width="0.05">110</text>
<line x1="393.1" y1="490.5" x2="393.1" y2="495.0" stroke="#555" stroke-width="1"/>
<text transform="translate(393.1,504.1) scale(0.9,1)" font-size="7.2" text-anchor="middle" fill="#2a2a2a" stroke="#2a2a2a" stroke-width="0.05">-7.5</text>
<line x1="419.6" y1="490.5" x2="419.6" y2="495.0" stroke="#555" stroke-width="1"/>
<text transform="translate(419.6,504.1) scale(0.9,1)" font-size="7.2" text-anchor="middle" fill="#2a2a2a" stroke="#2a2a2a" stroke-width="0.05">-6.0</text>
<line x1="446.1" y1="490.5" x2="446.1" y2="495.0" stroke="#555" stroke-width="1"/>
<text transform="translate(446.1,504.1) scale(0.9,1)" font-size="7.2" text-anchor="middle" fill="#2a2a2a" stroke="#2a2a2a" stroke-width="0.05">-4.5</text>
<line x1="472.6" y1="490.5" x2="472.6" y2="495.0" stroke="#555" stroke-width="1"/>
<text transform="translate(472.6,504.1) scale(0.9,1)" font-size="7.2" text-anchor="middle" fill="#2a2a2a" stroke="#2a2a2a" stroke-width="0.05">-3.0</text>
<line x1="499.0" y1="490.5" x2="499.0" y2="495.0" stroke="#555" stroke-width="1"/>
<text transform="translate(499.0,504.1) scale(0.9,1)" font-size="7.2" text-anchor="middle" fill="#2a2a2a" stroke="#2a2a2a" stroke-width="0.05">-1.5</text>
<line x1="525.5" y1="490.5" x2="525.5" y2="495.0" stroke="#555" stroke-width="1"/>
<text transform="translate(525.5,504.1) scale(0.9,1)" font-size="7.2" text-anchor="middle" fill="#2a2a2a" stroke="#2a2a2a" stroke-width="0.05">0.0</text>
<line x1="552.0" y1="490.5" x2="552.0" y2="495.0" stroke="#555" stroke-width="1"/>
<text transform="translate(552.0,504.1) scale(0.9,1)" font-size="7.2" text-anchor="middle" fill="#2a2a2a" stroke="#2a2a2a" stroke-width="0.05">1.5</text>
<line x1="578.5" y1="490.5" x2="578.5" y2="495.0" stroke="#555" stroke-width="1"/>
<text transform="translate(578.5,504.1) scale(0.9,1)" font-size="7.2" text-anchor="middle" fill="#2a2a2a" stroke="#2a2a2a" stroke-width="0.05">3.0</text>
<line x1="604.9" y1="490.5" x2="604.9" y2="495.0" stroke="#555" stroke-width="1"/>
<text transform="translate(604.9,504.1) scale(0.9,1)" font-size="7.2" text-anchor="middle" fill="#2a2a2a" stroke="#2a2a2a" stroke-width="0.05">4.5</text>
<line x1="631.4" y1="490.5" x2="631.4" y2="495.0" stroke="#555" stroke-width="1"/>
<text transform="translate(631.4,504.1) scale(0.9,1)" font-size="7.2" text-anchor="middle" fill="#2a2a2a" stroke="#2a2a2a" stroke-width="0.05">6.0</text>
<line x1="657.9" y1="490.5" x2="657.9" y2="495.0" stroke="#555" stroke-width="1"/>
<text transform="translate(657.9,504.1) scale(0.9,1)" font-size="7.2" text-anchor="middle" fill="#2a2a2a" stroke="#2a2a2a" stroke-width="0.05">7.5</text>
</g>
<g>
<clipPath id="cB1"><rect x="44.8" y="540.8" width="306.8" height="226.4000000000001"/></clipPath>
<g clip-path="url(#cB1)">
<line x1="174.6" y1="540.8" x2="174.6" y2="767.2" stroke="#dadada" stroke-width="1"/>
<line x1="244.6" y1="540.8" x2="244.6" y2="767.2" stroke="#dadada" stroke-width="1"/>
<line x1="209.6" y1="540.8" x2="209.6" y2="767.2" stroke="#c8c8c8" stroke-width="1" stroke-dasharray="3,2"/>
<line x1="44.8" y1="757.2" x2="351.6" y2="757.2" stroke="#d2d2d2" stroke-width="1" stroke-dasharray="2,0.6"/>
<text x="169.2" y="554.0" fill="#56a2a8" font-size="10.9" text-anchor="end" stroke="#56a2a8" stroke-width="0.15">DEGs = 34</text>
<text x="169.2" y="565.4" fill="#a76436" font-size="10.9" text-anchor="end" stroke="#a76436" stroke-width="0.15">Medium-specific =</text>
<text x="169.2" y="578.4" fill="#a76436" font-size="10.9" text-anchor="end" stroke="#a76436" stroke-width="0.15">0</text>
<text x="249.0" y="554.0" fill="#56a2a8" font-size="10.9" stroke="#56a2a8" stroke-width="0.15">DEGs = 41</text>
<text x="249.0" y="565.4" fill="#a76436" font-size="10.9" stroke="#a76436" stroke-width="0.15">Medium-specific</text>
<text x="249.0" y="578.4" fill="#a76436" font-size="10.9" stroke="#a76436" stroke-width="0.15">= 0</text>
<text x="346.1" y="753.5" fill="#889dc4" stroke="#889dc4" stroke-width="0.35" font-size="8.6" font-style="italic" text-anchor="end">P = 0.05</text>
<path d="M174.5 754.6 L177.5 755.3 L180.5 756.0 L183.5 756.7 L186.5 757.5 L189.4 758.0 L192.3 758.5 L195.2 759.1 L198.1 759.6 L200.9 759.8 L203.7 760.0 L206.5 760.3 L209.3 760.5 L212.3 760.3 L215.3 760.0 L218.3 759.8 L221.3 759.6 L224.2 759.1 L227.1 758.5 L230.0 758.0 L232.9 757.5 L235.0 756.9 L237.1 756.3 L239.1 755.8 L241.2 755.2 L242.4 755.0 L243.7 754.8 L244.9 754.6 L246.2 754.4 L246.6 754.3 L247.0 754.3 L247.4 754.3 L247.8 754.3 L247.8 757.6 L247.4 757.7 L247.0 757.7 L246.6 757.8 L246.2 757.9 L244.9 758.1 L243.7 758.3 L242.4 758.6 L241.2 758.8 L239.1 759.2 L237.1 759.5 L235.0 759.9 L232.9 760.3 L230.0 760.5 L227.1 760.7 L224.2 760.9 L221.3 761.1 L218.3 761.3 L215.3 761.5 L212.3 761.7 L209.3 761.9 L206.5 761.7 L203.7 761.5 L200.9 761.3 L198.1 761.1 L195.2 760.9 L192.3 760.7 L189.4 760.5 L186.5 760.3 L183.5 759.9 L180.5 759.6 L177.5 759.2 L174.5 758.9Z" fill="#3b3b3b"/><path d="M220.9 759.6h0M183.6 757.7h0M220.9 760.0h0M236.1 758.3h0M179.0 756.8h0M190.2 759.6h0M242.1 757.2h0M180.9 755.3h0M176.8 758.5h0M218.7 760.8h0M198.3 760.0h0M218.4 761.1h0M245.8 754.7h0M184.7 756.1h0M231.5 757.6h0M179.9 756.4h0M181.6 755.9h0M205.8 760.2h0M196.3 760.1h0M178.7 757.4h0M231.7 757.4h0M245.9 753.7h0M212.2 759.8h0M218.0 759.4h0M209.1 761.5h0M190.7 758.1h0M236.8 756.7h0M212.2 760.5h0M194.7 759.5h0M193.8 758.5h0M230.6 760.1h0M178.3 754.7h0M243.5 758.2h0M188.7 759.7h0M209.3 760.9h0M190.7 759.6h0M195.3 760.6h0M187.7 760.6h0M195.7 758.8h0M243.8 754.6h0M209.2 761.0h0M211.2 760.4h0M227.7 758.2h0M212.4 761.3h0M186.7 759.0h0M201.6 760.8h0" stroke="#383838" stroke-opacity="0.55" stroke-width="3.1" stroke-linecap="round" fill="none"/><path d="M239.6 757.2h0M220.4 761.1h0M232.8 757.1h0M240.3 759.0h0M200.4 761.5h0M226.6 760.1h0M201.7 761.4h0M229.2 759.7h0M231.6 758.6h0M242.9 755.2h0M185.9 758.5h0M214.3 761.0h0M196.8 758.9h0M199.8 760.3h0M188.9 758.4h0M238.0 758.5h0M198.9 761.0h0M239.1 756.3h0M195.7 758.5h0M243.5 756.4h0M216.7 761.3h0M194.3 759.7h0M244.9 758.3h0M212.4 760.6h0M203.5 761.1h0M202.4 760.7h0M198.3 759.3h0M214.0 760.6h0M242.4 757.3h0M186.9 758.1h0M194.8 759.1h0M180.3 757.7h0M215.9 760.2h0M223.2 759.7h0M217.6 759.9h0M224.5 758.9h0M203.2 760.0h0M234.2 760.0h0M189.6 760.0h0M188.5 758.9h0M215.0 759.8h0M182.5 757.9h0M198.2 760.4h0M241.7 757.6h0M210.8 761.1h0M182.4 757.5h0" stroke="#383838" stroke-opacity="0.55" stroke-width="3.1" stroke-linecap="round" fill="none"/><path d="M210.7 760.9h0M216.7 759.9h0M229.3 759.1h0M186.3 758.4h0M190.1 757.3h0M200.7 761.6h0M233.3 759.4h0M235.3 759.2h0M212.0 760.4h0M232.7 758.8h0M238.5 759.3h0M176.1 756.0h0M223.1 758.7h0M218.9 760.6h0M180.1 755.8h0M240.1 757.5h0M176.0 757.2h0M228.2 759.9h0M202.9 760.5h0M199.2 759.6h0M223.7 759.5h0M212.9 760.7h0M217.6 759.4h0M207.4 761.1h0M191.6 759.2h0M175.8 757.9h0M196.3 759.9h0M231.0 759.5h0M234.6 756.4h0M230.0 758.6h0M220.8 759.2h0M230.6 758.0h0M244.3 755.2h0M240.1 757.3h0M186.3 757.6h0M214.2 761.4h0M214.8 760.9h0M223.2 759.7h0M232.8 756.6h0M214.6 761.3h0M204.8 759.7h0M222.2 760.6h0M217.0 760.4h0M207.4 760.2h0M196.7 760.9h0M213.6 760.0h0" stroke="#383838" stroke-opacity="0.55" stroke-width="3.1" stroke-linecap="round" fill="none"/><path d="M245.6 755.3h0M200.4 760.1h0M214.0 760.9h0M220.8 759.4h0M244.5 756.4h0M198.5 760.5h0M181.1 757.7h0M209.9 761.3h0M193.8 760.3h0M216.7 759.9h0M189.0 758.5h0M244.8 755.7h0M235.8 757.2h0M218.8 761.3h0M231.6 759.6h0M176.9 758.7h0M208.4 760.8h0M190.7 758.9h0M181.8 755.8h0M192.0 758.3h0M210.1 760.3h0M181.3 757.8h0M197.7 760.3h0M244.4 755.0h0M184.2 758.9h0M242.2 756.0h0M231.4 757.3h0M206.5 760.3h0M210.4 761.1h0M196.5 759.5h0M206.9 761.8h0M191.2 757.6h0M194.3 760.5h0M229.5 759.1h0M234.1 758.3h0M200.8 761.3h0M184.8 758.9h0M204.9 760.4h0M245.8 756.9h0M179.8 758.4h0M243.5 756.9h0M244.5 756.1h0M209.2 760.7h0M195.8 760.9h0M211.5 760.2h0M181.2 759.7h0" stroke="#383838" stroke-opacity="0.55" stroke-width="3.1" stroke-linecap="round" fill="none"/><path d="M240.8 754.3h0M203.8 761.3h0M180.3 755.1h0M239.3 755.3h0M246.6 754.3h0M183.8 759.6h0M240.4 754.6h0M215.9 761.0h0M204.6 760.0h0M213.4 760.0h0M222.3 759.4h0M229.6 758.3h0M208.9 760.8h0M237.4 759.0h0M207.1 761.7h0M229.4 759.9h0M217.0 761.4h0M245.6 753.4h0M181.8 755.9h0M244.2 754.1h0M188.6 759.0h0M241.7 756.7h0M186.5 756.9h0M210.8 761.8h0M226.7 760.5h0M206.5 760.5h0M195.6 758.5h0M238.9 757.9h0M184.1 757.5h0M199.6 759.8h0M180.9 759.5h0M207.4 760.1h0M214.9 761.3h0M246.2 753.5h0M194.8 760.2h0M246.4 755.5h0M230.3 759.9h0M176.9 755.0h0M185.1 760.3h0M197.0 761.1h0M216.7 759.4h0M215.9 759.8h0M229.5 760.1h0M192.1 758.5h0M201.9 759.3h0M240.1 757.1h0" stroke="#383838" stroke-opacity="0.55" stroke-width="3.1" stroke-linecap="round" fill="none"/><path d="M177.7 755.1h0M193.8 758.2h0M181.4 757.8h0M188.9 757.0h0M178.0 756.0h0M204.5 761.5h0M208.8 760.7h0M214.2 761.1h0M227.6 759.2h0M195.0 758.8h0M224.4 759.0h0M178.3 756.3h0M198.3 759.3h0M237.6 755.6h0M223.0 759.3h0M236.7 757.6h0M175.9 754.1h0M192.1 758.7h0M192.7 760.0h0M178.6 755.3h0M220.5 759.3h0M238.0 755.4h0M215.6 760.2h0M221.0 761.2h0M235.7 757.9h0M182.0 759.0h0M190.6 759.7h0M200.9 760.3h0M235.6 758.1h0M232.1 757.3h0M213.9 760.9h0M205.6 760.3h0M200.6 759.3h0M189.4 759.1h0M218.8 761.1h0M235.1 758.8h0M246.0 753.9h0M235.3 759.8h0M184.1 758.5h0M244.8 753.5h0M197.3 758.8h0M197.9 759.6h0M190.7 760.2h0M200.5 759.3h0M219.8 760.4h0M227.1 758.1h0" stroke="#383838" stroke-opacity="0.55" stroke-width="3.1" stroke-linecap="round" fill="none"/><path d="M69.5 548.0h0M138.3 711.9h0M144.3 715.6h0M137.6 732.5h0M141.3 733.5h0M155.8 749.9h0M167.4 747.4h0M171.5 749.9h0M159.1 754.9h0M161.6 755.7h0M164.9 753.2h0M168.2 754.9h0M171.5 755.7h0M174.0 754.0h0M164.9 756.5h0M159.9 753.2h0M157.0 752.0h0M162.0 751.0h0M166.0 750.0h0M170.0 752.0h0M173.0 757.0h0M305.7 678.8h0M290.0 688.4h0M324.6 696.4h0M294.1 720.6h0M283.6 734.5h0M274.8 740.9h0M264.3 740.5h0M267.2 741.7h0M269.3 745.4h0M251.2 743.8h0M256.0 748.1h0M259.5 748.6h0M264.8 752.5h0M269.6 751.3h0M246.4 749.4h0M251.1 744.1h0M246.2 749.1h0M242.8 750.7h0M255.3 748.2h0M247.8 753.2h0M251.1 754.9h0M254.5 754.0h0M257.8 753.2h0M244.5 754.9h0M258.5 749.2h0M255.7 750.6h0M264.1 752.1h0M268.3 750.6h0M250.0 753.5h0M254.3 754.9h0M249.0 751.0h0M261.0 752.0h0" stroke="#3a7775" stroke-width="3.80" stroke-linecap="round" fill="none"/><path d="M69.5 548.0h0M138.3 711.9h0M144.3 715.6h0M137.6 732.5h0M141.3 733.5h0M155.8 749.9h0M167.4 747.4h0M171.5 749.9h0M159.1 754.9h0M161.6 755.7h0M164.9 753.2h0M168.2 754.9h0M171.5 755.7h0M174.0 754.0h0M164.9 756.5h0M159.9 753.2h0M157.0 752.0h0M162.0 751.0h0M166.0 750.0h0M170.0 752.0h0M173.0 757.0h0M305.7 678.8h0M290.0 688.4h0M324.6 696.4h0M294.1 720.6h0M283.6 734.5h0M274.8 740.9h0M264.3 740.5h0M267.2 741.7h0M269.3 745.4h0M251.2 743.8h0M256.0 748.1h0M259.5 748.6h0M264.8 752.5h0M269.6 751.3h0M246.4 749.4h0M251.1 744.1h0M246.2 749.1h0M242.8 750.7h0M255.3 748.2h0M247.8 753.2h0M251.1 754.9h0M254.5 754.0h0M257.8 753.2h0M244.5 754.9h0M258.5 749.2h0M255.7 750.6h0M264.1 752.1h0M268.3 750.6h0M250.0 753.5h0M254.3 754.9h0M249.0 751.0h0M261.0 752.0h0" stroke="#4aa3a3" stroke-width="2.68" stroke-linecap="round" fill="none"/>
</g>
<rect x="44.8" y="540.8" width="306.8" height="226.4000000000001" fill="none" stroke="#606060" stroke-width="1.3"/>
<line x1="40.3" y1="761.9" x2="44.8" y2="761.9" stroke="#555" stroke-width="1"/>
<text transform="translate(37.5,765.4) scale(0.9,1)" font-size="7.2" text-anchor="end" fill="#2a2a2a" stroke="#2a2a2a" stroke-width="0.05">0</text>
<line x1="40.3" y1="743.7" x2="44.8" y2="743.7" stroke="#555" stroke-width="1"/>
<text transform="translate(37.5,747.2) scale(0.9,1)" font-size="7.2" text-anchor="end" fill="#2a2a2a" stroke="#2a2a2a" stroke-width="0.05">5</text>
<line x1="40.3" y1="725.4" x2="44.8" y2="725.4" stroke="#555" stroke-width="1"/>
<text transform="translate(37.5,728.9) scale(0.9,1)" font-size="7.2" text-anchor="end" fill="#2a2a2a" stroke="#2a2a2a" stroke-width="0.05">10</text>
<line x1="40.3" y1="707.2" x2="44.8" y2="707.2" stroke="#555" stroke-width="1"/>
<text transform="translate(37.5,710.7) scale(0.9,1)" font-size="7.2" text-anchor="end" fill="#2a2a2a" stroke="#2a2a2a" stroke-width="0.05">15</text>
<line x1="40.3" y1="689.0" x2="44.8" y2="689.0" stroke="#555" stroke-width="1"/>
<text transform="translate(37.5,692.5) scale(0.9,1)" font-size="7.2" text-anchor="end" fill="#2a2a2a" stroke="#2a2a2a" stroke-width="0.05">20</text>
<line x1="40.3" y1="670.8" x2="44.8" y2="670.8" stroke="#555" stroke-width="1"/>
<text transform="translate(37.5,674.2) scale(0.9,1)" font-size="7.2" text-anchor="end" fill="#2a2a2a" stroke="#2a2a2a" stroke-width="0.05">25</text>
<line x1="40.3" y1="652.5" x2="44.8" y2="652.5" stroke="#555" stroke-width="1"/>
<text transform="translate(37.5,656.0) scale(0.9,1)" font-size="7.2" text-anchor="end" fill="#2a2a2a" stroke="#2a2a2a" stroke-width="0.05">30</text>
<line x1="40.3" y1="634.3" x2="44.8" y2="634.3" stroke="#555" stroke-width="1"/>
<text transform="translate(37.5,637.8) scale(0.9,1)" font-size="7.2" text-anchor="end" fill="#2a2a2a" stroke="#2a2a2a" stroke-width="0.05">35</text>
<line x1="40.3" y1="616.1" x2="44.8" y2="616.1" stroke="#555" stroke-width="1"/>
<text transform="translate(37.5,619.6) scale(0.9,1)" font-size="7.2" text-anchor="end" fill="#2a2a2a" stroke="#2a2a2a" stroke-width="0.05">40</text>
<line x1="40.3" y1="597.8" x2="44.8" y2="597.8" stroke="#555" stroke-width="1"/>
<text transform="translate(37.5,601.3) scale(0.9,1)" font-size="7.2" text-anchor="end" fill="#2a2a2a" stroke="#2a2a2a" stroke-width="0.05">45</text>
<line x1="40.3" y1="579.6" x2="44.8" y2="579.6" stroke="#555" stroke-width="1"/>
<text transform="translate(37.5,583.1) scale(0.9,1)" font-size="7.2" text-anchor="end" fill="#2a2a2a" stroke="#2a2a2a" stroke-width="0.05">50</text>
<line x1="40.3" y1="561.4" x2="44.8" y2="561.4" stroke="#555" stroke-width="1"/>
<text transform="translate(37.5,564.9) scale(0.9,1)" font-size="7.2" text-anchor="end" fill="#2a2a2a" stroke="#2a2a2a" stroke-width="0.05">55</text>
<line x1="50.3" y1="767.2" x2="50.3" y2="771.7" stroke="#555" stroke-width="1"/>
<text transform="translate(50.3,780.8) scale(0.9,1)" font-size="7.2" text-anchor="middle" fill="#2a2a2a" stroke="#2a2a2a" stroke-width="0.05">-9.1</text>
<line x1="73.1" y1="767.2" x2="73.1" y2="771.7" stroke="#555" stroke-width="1"/>
<text transform="translate(73.1,780.8) scale(0.9,1)" font-size="7.2" text-anchor="middle" fill="#2a2a2a" stroke="#2a2a2a" stroke-width="0.05">-7.8</text>
<line x1="95.8" y1="767.2" x2="95.8" y2="771.7" stroke="#555" stroke-width="1"/>
<text transform="translate(95.8,780.8) scale(0.9,1)" font-size="7.2" text-anchor="middle" fill="#2a2a2a" stroke="#2a2a2a" stroke-width="0.05">-6.5</text>
<line x1="118.6" y1="767.2" x2="118.6" y2="771.7" stroke="#555" stroke-width="1"/>
<text transform="translate(118.6,780.8) scale(0.9,1)" font-size="7.2" text-anchor="middle" fill="#2a2a2a" stroke="#2a2a2a" stroke-width="0.05">-5.2</text>
<line x1="141.4" y1="767.2" x2="141.4" y2="771.7" stroke="#555" stroke-width="1"/>
<text transform="translate(141.4,780.8) scale(0.9,1)" font-size="7.2" text-anchor="middle" fill="#2a2a2a" stroke="#2a2a2a" stroke-width="0.05">-3.9</text>
<line x1="164.1" y1="767.2" x2="164.1" y2="771.7" stroke="#555" stroke-width="1"/>
<text transform="translate(164.1,780.8) scale(0.9,1)" font-size="7.2" text-anchor="middle" fill="#2a2a2a" stroke="#2a2a2a" stroke-width="0.05">-2.6</text>
<line x1="186.9" y1="767.2" x2="186.9" y2="771.7" stroke="#555" stroke-width="1"/>
<text transform="translate(186.9,780.8) scale(0.9,1)" font-size="7.2" text-anchor="middle" fill="#2a2a2a" stroke="#2a2a2a" stroke-width="0.05">-1.3</text>
<line x1="209.6" y1="767.2" x2="209.6" y2="771.7" stroke="#555" stroke-width="1"/>
<text transform="translate(209.6,780.8) scale(0.9,1)" font-size="7.2" text-anchor="middle" fill="#2a2a2a" stroke="#2a2a2a" stroke-width="0.05">0.0</text>
<line x1="232.4" y1="767.2" x2="232.4" y2="771.7" stroke="#555" stroke-width="1"/>
<text transform="translate(232.4,780.8) scale(0.9,1)" font-size="7.2" text-anchor="middle" fill="#2a2a2a" stroke="#2a2a2a" stroke-width="0.05">1.3</text>
<line x1="255.1" y1="767.2" x2="255.1" y2="771.7" stroke="#555" stroke-width="1"/>
<text transform="translate(255.1,780.8) scale(0.9,1)" font-size="7.2" text-anchor="middle" fill="#2a2a2a" stroke="#2a2a2a" stroke-width="0.05">2.6</text>
<line x1="277.9" y1="767.2" x2="277.9" y2="771.7" stroke="#555" stroke-width="1"/>
<text transform="translate(277.9,780.8) scale(0.9,1)" font-size="7.2" text-anchor="middle" fill="#2a2a2a" stroke="#2a2a2a" stroke-width="0.05">3.9</text>
<line x1="300.6" y1="767.2" x2="300.6" y2="771.7" stroke="#555" stroke-width="1"/>
<text transform="translate(300.6,780.8) scale(0.9,1)" font-size="7.2" text-anchor="middle" fill="#2a2a2a" stroke="#2a2a2a" stroke-width="0.05">5.2</text>
<line x1="323.4" y1="767.2" x2="323.4" y2="771.7" stroke="#555" stroke-width="1"/>
<text transform="translate(323.4,780.8) scale(0.9,1)" font-size="7.2" text-anchor="middle" fill="#2a2a2a" stroke="#2a2a2a" stroke-width="0.05">6.5</text>
</g>
<g>
<clipPath id="cB2"><rect x="386.6" y="541" width="304.4" height="226.29999999999995"/></clipPath>
<g clip-path="url(#cB2)">
<line x1="522.5" y1="541" x2="522.5" y2="767.3" stroke="#dadada" stroke-width="1"/>
<line x1="603.7" y1="541" x2="603.7" y2="767.3" stroke="#dadada" stroke-width="1"/>
<line x1="563.1" y1="541" x2="563.1" y2="767.3" stroke="#c8c8c8" stroke-width="1" stroke-dasharray="3,2"/>
<line x1="386.6" y1="758.4" x2="691" y2="758.4" stroke="#d2d2d2" stroke-width="1" stroke-dasharray="2,0.6"/>
<text x="516.1" y="553.0" fill="#56a2a8" font-size="10.9" text-anchor="end" stroke="#56a2a8" stroke-width="0.15">DEGs = 182</text>
<text x="516.1" y="564.4" fill="#a76436" font-size="10.9" text-anchor="end" stroke="#a76436" stroke-width="0.15">Medium-specific</text>
<text x="516.1" y="577.4" fill="#a76436" font-size="10.9" text-anchor="end" stroke="#a76436" stroke-width="0.15">= 3 (1.7%)</text>
<text x="608.8" y="553.0" fill="#56a2a8" font-size="10.9" stroke="#56a2a8" stroke-width="0.15">DEGs = 142</text>
<text x="608.8" y="564.4" fill="#a76436" font-size="10.9" stroke="#a76436" stroke-width="0.15">Medium-specific</text>
<text x="608.8" y="577.4" fill="#a76436" font-size="10.9" stroke="#a76436" stroke-width="0.15">= 0</text>
<text x="685.5" y="756.5" fill="#889dc4" stroke="#889dc4" stroke-width="0.35" font-size="8.6" font-style="italic" text-anchor="end">P = 0.05</text>
<path d="M522.6 744.5 L525.0 745.6 L527.5 746.8 L529.9 748.0 L532.3 749.1 L534.6 750.1 L536.8 751.0 L539.1 751.9 L541.4 752.8 L541.7 753.0 L542.0 753.1 L542.4 753.2 L542.7 753.4 L545.3 754.4 L547.9 755.5 L550.5 756.5 L553.1 757.6 L555.8 758.3 L558.4 758.9 L561.1 759.6 L563.7 760.3 L566.9 759.8 L570.0 759.3 L573.1 758.8 L576.3 758.3 L578.8 757.1 L581.3 755.8 L583.9 754.6 L586.4 753.4 L588.9 751.7 L591.5 750.0 L594.0 748.3 L596.5 746.7 L598.2 745.8 L600.0 745.0 L601.8 744.1 L603.5 743.3 L603.5 757.8 L601.8 758.1 L600.0 758.4 L598.2 758.7 L596.5 759.0 L594.0 759.5 L591.5 759.9 L588.9 760.4 L586.4 760.8 L583.9 761.0 L581.3 761.2 L578.8 761.4 L576.3 761.6 L573.1 761.9 L570.0 762.1 L566.9 762.4 L563.7 762.6 L561.1 762.4 L558.4 762.2 L555.8 762.0 L553.1 761.8 L550.5 761.7 L547.9 761.5 L545.3 761.3 L542.7 761.1 L542.4 761.1 L542.0 761.0 L541.7 761.0 L541.4 761.0 L539.1 760.8 L536.8 760.7 L534.6 760.5 L532.3 760.4 L529.9 760.2 L527.5 760.0 L525.0 759.9 L522.6 759.7Z" fill="#3b3b3b"/><path d="M566.9 759.7h0M587.6 757.2h0M534.8 759.6h0M581.9 754.3h0M577.1 758.9h0M545.4 752.7h0M529.5 748.6h0M533.9 753.5h0M568.6 759.3h0M540.7 756.1h0M574.3 759.1h0M587.0 751.1h0M589.3 750.5h0M571.4 758.4h0M535.3 752.1h0M526.6 750.3h0M537.4 754.2h0M570.8 762.3h0M546.9 758.8h0M562.9 759.5h0M542.2 755.3h0M587.6 755.1h0M555.6 762.1h0M584.0 756.6h0M580.3 757.7h0M589.4 755.4h0M546.6 754.0h0M598.0 752.1h0M558.3 760.5h0M539.9 759.6h0M556.0 759.6h0M540.5 754.6h0M589.4 750.3h0M553.4 756.6h0M581.2 757.1h0M592.4 756.8h0M540.4 757.1h0M592.4 759.0h0M556.4 758.9h0M534.2 752.6h0M590.3 750.2h0M546.9 755.2h0M560.0 761.5h0M589.9 750.7h0M540.9 752.8h0M554.9 761.8h0M530.1 745.5h0M578.2 758.1h0M592.8 753.4h0M533.2 759.1h0M557.1 757.9h0M552.4 757.0h0M527.7 749.8h0M593.1 755.0h0M580.9 755.5h0M566.2 760.2h0M585.4 751.8h0M589.7 749.6h0M553.6 756.6h0M588.7 758.9h0M570.7 758.8h0M600.4 748.5h0M537.7 755.8h0M591.0 754.6h0M537.1 750.3h0M543.1 752.2h0M600.6 746.5h0M527.7 749.8h0M543.0 751.4h0M596.4 753.1h0M577.0 760.2h0M583.5 755.6h0M586.3 754.5h0M591.9 749.5h0M572.4 759.6h0M572.3 761.2h0M535.0 755.9h0M524.9 752.8h0M550.5 756.1h0M557.0 759.0h0M538.9 754.8h0M564.3 760.4h0M529.6 753.4h0M577.8 756.4h0M587.1 753.0h0M579.4 757.9h0M534.7 758.0h0M544.7 754.8h0M562.4 761.7h0M550.0 756.7h0M597.7 746.6h0M583.9 757.6h0M574.7 757.8h0M599.3 748.8h0M590.0 760.2h0M586.7 760.9h0M588.4 752.3h0M549.0 758.2h0M550.1 755.0h0M554.6 758.1h0M529.7 744.7h0M532.3 750.2h0M552.7 757.7h0M539.0 753.9h0M591.2 748.2h0M543.4 754.4h0M595.0 754.7h0M553.5 758.0h0M570.7 759.4h0M558.7 762.4h0M550.9 755.2h0M548.0 757.2h0M589.6 754.5h0M594.6 747.0h0M601.2 749.3h0M595.8 756.2h0M565.8 759.5h0M575.2 760.8h0M572.1 758.6h0M574.2 758.8h0M580.5 756.8h0M555.5 757.0h0M588.2 750.5h0M598.1 750.7h0M587.3 756.8h0M551.8 761.0h0M532.2 757.2h0M544.1 761.4h0M594.4 748.4h0M602.2 750.7h0M576.0 759.5h0M592.0 752.9h0M534.6 756.3h0M579.6 755.4h0M556.9 758.4h0M542.1 756.4h0M593.2 751.7h0" stroke="#383838" stroke-opacity="0.55" stroke-width="3.1" stroke-linecap="round" fill="none"/><path d="M559.4 761.5h0M539.1 755.0h0M576.3 758.6h0M567.6 760.0h0M542.8 758.5h0M532.1 751.9h0M565.6 761.5h0M595.8 747.8h0M590.3 757.7h0M570.9 762.1h0M538.9 758.5h0M552.7 758.9h0M547.6 758.2h0M570.7 761.2h0M532.4 753.2h0M524.1 744.3h0M551.3 760.6h0M550.2 756.2h0M586.4 752.8h0M554.1 760.3h0M549.9 756.9h0M562.6 759.8h0M577.4 757.6h0M557.4 760.1h0M554.0 756.6h0M571.4 759.8h0M528.7 747.8h0M548.6 761.0h0M573.8 759.9h0M532.0 747.8h0M563.1 761.7h0M544.3 752.6h0M555.4 757.2h0M592.7 753.6h0M535.3 747.9h0M532.6 752.5h0M580.6 760.3h0M571.5 759.5h0M554.6 756.8h0M585.9 755.7h0M571.7 759.1h0M592.3 746.5h0M596.3 747.4h0M576.3 758.9h0M586.5 758.1h0M598.2 742.2h0M539.2 754.3h0M526.3 754.4h0M534.1 749.1h0M565.6 762.4h0M529.5 752.9h0M528.5 743.8h0M569.8 759.6h0M555.0 760.7h0M542.3 760.4h0M590.4 755.7h0M593.0 754.1h0M542.2 752.1h0M595.4 755.9h0M569.1 758.7h0M583.3 753.5h0M564.4 762.2h0M541.9 760.1h0M549.5 755.4h0M597.2 756.6h0M598.9 750.8h0M550.3 759.8h0M540.9 760.4h0M550.4 758.2h0M530.1 752.5h0M587.3 751.3h0M559.1 758.2h0M543.9 753.3h0M586.1 760.1h0M599.2 744.2h0M581.0 756.8h0M559.1 758.4h0M549.6 756.5h0M595.6 749.4h0M565.6 762.4h0M533.1 750.1h0M551.8 758.1h0M529.9 756.0h0M537.8 751.9h0M543.0 758.2h0M568.0 759.2h0M551.0 758.4h0M540.4 760.3h0M554.1 760.3h0M588.3 753.5h0M542.0 756.4h0M594.2 759.2h0M557.8 759.3h0M560.8 761.7h0M559.5 759.1h0M561.3 761.1h0M553.4 758.3h0M578.3 757.9h0M595.1 755.1h0M542.1 753.7h0M587.6 754.1h0M601.0 743.1h0M536.7 751.4h0M541.3 761.1h0M598.9 745.4h0M579.1 758.2h0M601.6 756.4h0M528.5 754.2h0M594.1 745.4h0M588.1 760.8h0M527.9 747.5h0M524.2 755.2h0M530.7 746.5h0M565.6 760.1h0M568.9 760.7h0M527.6 746.9h0M576.1 759.4h0M595.2 745.0h0M574.7 761.4h0M557.5 760.3h0M563.2 762.0h0M550.6 759.4h0M589.8 749.0h0M532.0 746.7h0M558.3 758.7h0M539.9 760.4h0M569.4 760.6h0M572.2 761.8h0M593.2 752.6h0M596.2 750.5h0M584.1 755.4h0M567.5 759.3h0M533.6 749.4h0M599.5 758.5h0M581.3 755.4h0M537.7 758.6h0" stroke="#383838" stroke-opacity="0.55" stroke-width="3.1" stroke-linecap="round" fill="none"/><path d="M598.7 744.9h0M546.1 754.5h0M536.9 756.3h0M571.0 758.4h0M582.6 756.3h0M531.1 746.5h0M574.8 758.6h0M532.4 748.9h0M538.6 753.2h0M537.1 753.4h0M558.7 759.2h0M589.7 753.7h0M597.5 757.6h0M563.7 761.7h0M552.2 759.3h0M597.8 745.8h0M570.0 760.3h0M550.3 756.1h0M573.3 758.6h0M536.3 754.3h0M545.8 755.4h0M569.0 761.8h0M539.6 752.2h0M536.0 750.0h0M552.4 759.4h0M598.2 747.8h0M554.6 760.6h0M562.1 760.4h0M559.5 761.2h0M551.0 758.9h0M595.7 750.1h0M540.2 755.8h0M596.6 754.3h0M524.8 747.3h0M545.6 759.7h0M535.9 749.8h0M563.4 760.4h0M575.5 759.5h0M540.6 750.7h0M580.5 754.7h0M592.2 748.7h0M568.7 759.9h0M591.7 753.9h0M542.7 754.7h0M524.4 747.7h0M579.7 757.4h0M580.8 756.1h0M551.9 756.3h0M538.0 750.1h0M562.6 762.0h0M542.9 758.3h0M543.3 753.5h0M579.8 761.0h0M581.2 760.2h0M553.1 762.0h0M535.3 753.8h0M537.9 751.7h0M544.5 753.1h0M537.0 750.5h0M602.0 741.2h0M595.0 745.8h0M566.0 759.3h0M542.9 752.5h0M591.1 750.6h0M572.4 758.4h0M584.0 758.8h0M585.3 755.8h0M532.3 752.4h0M598.4 748.9h0M583.7 757.4h0M560.4 759.5h0M529.4 745.8h0M595.9 746.2h0M561.9 760.9h0M560.6 759.3h0M580.6 757.8h0M580.2 760.5h0M529.8 756.6h0M577.5 757.1h0M555.9 760.1h0M546.9 754.0h0M532.7 747.5h0M563.2 762.5h0M586.4 757.8h0M559.3 758.7h0M532.3 752.0h0M586.4 751.6h0M538.4 753.8h0M583.3 758.5h0M546.3 756.1h0M540.5 755.4h0M547.0 759.9h0M557.5 758.0h0M556.0 760.1h0M527.0 744.2h0M588.5 759.2h0M557.1 758.5h0M562.6 760.4h0M590.9 754.9h0M541.7 753.5h0M565.0 760.9h0M548.7 758.5h0M564.1 762.3h0M563.5 761.2h0M571.9 759.8h0M541.1 759.7h0M581.6 758.6h0M539.3 758.2h0M558.6 758.4h0M534.3 748.0h0M540.4 753.4h0M528.3 753.1h0M537.3 757.2h0M540.8 751.3h0M544.2 757.6h0M535.6 748.9h0M590.4 759.3h0M550.4 760.0h0M537.4 757.0h0M564.7 760.5h0M550.5 759.2h0M561.9 760.1h0M547.9 756.1h0M552.9 757.1h0M532.7 748.6h0M546.6 759.9h0M577.5 760.2h0M531.8 756.0h0M550.3 757.3h0M533.1 751.9h0M601.7 743.0h0M584.2 753.4h0M566.6 761.4h0M534.3 752.7h0M585.3 757.5h0M548.3 761.6h0" stroke="#383838" stroke-opacity="0.55" stroke-width="3.1" stroke-linecap="round" fill="none"/><path d="M562.7 760.5h0M543.2 758.0h0M590.7 759.2h0M600.2 745.8h0M584.2 758.9h0M531.9 747.3h0M528.9 744.9h0M587.2 755.3h0M551.1 759.4h0M552.4 757.4h0M560.1 760.2h0M533.1 756.5h0M557.8 760.3h0M595.2 746.6h0M555.9 759.2h0M559.6 760.2h0M533.7 752.1h0M591.5 747.8h0M557.6 759.1h0M548.1 760.4h0M584.0 758.1h0M553.8 761.2h0M527.7 756.7h0M564.6 760.0h0M541.3 757.3h0M596.9 752.0h0M598.0 744.0h0M533.8 750.1h0M535.5 758.7h0M539.2 752.2h0M566.6 759.4h0M555.6 760.2h0M567.1 759.3h0M568.3 761.1h0M580.5 758.1h0M550.6 758.9h0M525.5 744.5h0M559.2 760.2h0M525.1 744.4h0M586.8 757.6h0M537.3 757.1h0M537.0 749.7h0M561.6 760.5h0M576.1 760.3h0M598.5 756.5h0M584.6 759.5h0M558.5 759.1h0M572.2 760.7h0M584.1 753.5h0M538.6 750.9h0M535.6 750.4h0M549.2 761.6h0M594.8 746.7h0M560.4 759.3h0M590.5 748.3h0M527.6 753.5h0M581.8 757.8h0M589.2 750.5h0M568.4 762.4h0M589.7 749.1h0M538.4 755.9h0M548.0 756.0h0M582.6 757.5h0M550.1 755.1h0M576.1 757.5h0M563.9 762.2h0M568.2 762.2h0M557.3 760.7h0M542.1 755.5h0M586.8 751.3h0M527.6 749.2h0M532.6 756.0h0M531.2 752.5h0M580.8 755.2h0M593.7 751.2h0M526.8 754.3h0M554.5 757.5h0M580.4 761.1h0M532.3 752.6h0M571.1 758.5h0M542.9 758.4h0M557.2 759.7h0M573.6 759.2h0M527.7 750.2h0M592.5 751.7h0M598.5 753.4h0M567.2 762.1h0M556.9 758.0h0M601.0 753.4h0M600.9 750.4h0M584.3 760.7h0M577.5 758.8h0M547.0 756.9h0M538.4 755.7h0M599.8 756.7h0M576.4 761.7h0M600.4 745.8h0M541.8 759.8h0M527.8 746.0h0M524.7 745.8h0M574.4 758.2h0M601.3 742.9h0M533.9 756.1h0M574.9 759.4h0M564.9 761.4h0M573.4 761.3h0M597.5 748.0h0M543.7 760.9h0M557.2 759.8h0M584.6 760.8h0M524.7 745.1h0M543.5 760.3h0M527.2 745.1h0M564.4 762.7h0M597.0 749.9h0M562.1 760.5h0M540.5 756.1h0M550.9 759.5h0M532.2 755.6h0M534.5 753.3h0M561.2 762.2h0M592.6 749.7h0M584.9 753.3h0M593.4 748.1h0M567.3 759.9h0M526.2 758.5h0M574.9 760.4h0M539.7 755.9h0M602.2 755.9h0M547.0 758.4h0M593.4 758.8h0M526.7 757.4h0M583.2 757.5h0M564.3 761.3h0M543.0 755.5h0M571.0 759.8h0" stroke="#383838" stroke-opacity="0.55" stroke-width="3.1" stroke-linecap="round" fill="none"/><path d="M540.1 757.6h0M555.6 757.6h0M581.2 755.2h0M562.1 762.1h0M558.8 761.7h0M548.6 758.4h0M592.5 748.5h0M574.7 758.0h0M523.8 750.0h0M534.0 759.2h0M530.0 745.1h0M550.3 761.9h0M582.2 755.7h0M531.8 749.9h0M532.5 751.8h0M583.1 760.3h0M541.5 754.4h0M582.8 757.3h0M551.8 761.8h0M548.4 754.1h0M541.2 754.3h0M576.4 758.0h0M596.5 754.5h0M561.4 761.5h0M543.3 755.5h0M539.0 757.7h0M540.5 759.0h0M564.1 759.9h0M573.6 758.0h0M538.8 749.5h0M575.7 757.9h0M579.5 758.0h0M541.8 751.7h0M595.7 751.6h0M587.0 755.7h0M530.5 754.9h0M583.3 758.6h0M583.2 760.0h0M531.8 755.0h0M549.3 757.2h0M555.7 757.2h0M540.4 759.1h0M531.0 759.9h0M560.3 762.2h0M586.8 754.2h0M601.1 750.0h0M589.3 757.3h0M568.3 761.1h0M568.7 759.7h0M601.3 745.9h0M550.4 754.9h0M566.1 762.0h0M582.4 761.3h0M552.2 760.1h0M570.3 759.9h0M563.8 759.9h0M588.2 752.9h0M531.3 756.4h0M599.2 754.4h0M555.1 758.1h0M562.6 762.8h0M587.9 755.0h0M532.8 752.1h0M528.8 743.9h0M592.7 756.5h0M573.0 761.2h0M552.5 758.7h0M579.1 761.1h0M601.6 742.6h0M576.6 757.5h0M575.6 757.6h0M575.4 761.5h0M529.1 751.7h0M524.4 743.2h0M548.8 756.3h0M570.3 761.5h0M523.8 745.4h0M570.5 760.5h0M525.9 745.6h0M530.0 750.7h0M538.6 751.7h0M531.9 751.8h0M583.9 757.6h0M563.9 760.6h0M565.3 760.7h0M572.2 760.7h0M559.8 758.5h0M540.5 753.2h0M546.9 755.7h0M532.7 759.6h0M564.7 761.8h0M571.1 761.9h0M585.6 756.8h0M551.6 757.4h0M549.2 754.4h0M571.5 760.0h0M535.4 752.5h0M558.0 759.6h0M565.2 759.4h0M539.8 755.8h0M534.5 754.7h0M570.6 761.8h0M554.7 758.9h0M529.6 752.0h0M592.3 752.7h0M590.2 753.8h0M581.4 756.9h0M567.5 760.7h0M543.8 753.6h0M541.1 755.8h0M596.3 757.6h0M528.7 756.1h0M558.9 759.6h0M549.7 754.8h0M579.7 757.2h0M545.4 755.8h0M525.6 757.5h0M553.9 757.9h0M576.3 758.2h0M563.2 760.0h0M525.4 741.7h0M529.8 745.6h0M571.2 758.5h0M577.9 759.5h0M577.2 760.2h0M531.8 756.2h0M557.4 760.8h0M550.1 759.1h0M577.3 757.3h0M593.7 746.4h0M560.5 761.7h0M561.0 760.1h0M539.3 759.7h0M540.8 757.4h0M581.8 758.8h0M535.0 750.1h0" stroke="#383838" stroke-opacity="0.55" stroke-width="3.1" stroke-linecap="round" fill="none"/><path d="M528.0 748.0h0M579.7 760.5h0M575.1 760.2h0M562.1 760.9h0M537.4 755.6h0M531.5 750.1h0M596.3 752.5h0M557.1 758.3h0M602.1 749.3h0M595.4 747.1h0M542.6 756.5h0M528.8 745.1h0M601.8 740.4h0M574.4 758.4h0M529.7 748.3h0M551.7 758.4h0M548.8 755.9h0M561.5 762.2h0M564.8 759.6h0M585.1 756.6h0M568.8 759.0h0M573.7 761.7h0M574.7 757.7h0M544.1 759.7h0M556.7 759.6h0M588.1 758.9h0M567.4 762.1h0M596.0 745.1h0M600.9 752.3h0M525.6 742.9h0M533.1 755.2h0M586.3 756.8h0M547.6 754.7h0M565.3 761.7h0M567.3 759.7h0M552.3 759.9h0M528.4 758.3h0M544.9 756.2h0M557.1 757.8h0M582.7 753.5h0M548.5 755.1h0M591.4 752.4h0M570.5 760.6h0M576.6 759.4h0M579.1 761.5h0M557.4 762.3h0M554.0 758.5h0M599.7 745.6h0M526.1 753.7h0M572.0 761.2h0M549.1 756.0h0M585.2 758.5h0M546.6 759.2h0M564.0 762.0h0M570.0 760.6h0M570.0 758.4h0M588.1 760.7h0M566.8 761.5h0M530.5 746.2h0M591.0 749.3h0M546.0 753.6h0M557.7 758.8h0M546.3 755.5h0M580.5 760.8h0M530.5 746.1h0M557.2 762.2h0M589.8 757.1h0M546.9 756.8h0M548.2 760.8h0M570.0 761.8h0M529.3 756.0h0M583.9 757.9h0M546.0 756.2h0M549.8 761.4h0M590.6 750.7h0M549.4 758.2h0M580.2 759.4h0M550.1 758.4h0M594.0 756.8h0M560.0 760.6h0M589.8 749.7h0M539.2 749.4h0M573.7 760.2h0M583.5 757.8h0M582.5 761.0h0M584.1 755.1h0M529.9 752.1h0M596.5 758.4h0M533.5 757.2h0M559.3 758.3h0M572.4 758.7h0M531.9 748.7h0M557.9 761.7h0M529.6 744.3h0M546.1 754.6h0M596.6 743.1h0M565.5 759.5h0M581.0 758.1h0M557.9 762.1h0M599.8 755.8h0M563.3 762.1h0M534.1 749.6h0M598.1 754.6h0M531.0 758.6h0M595.5 752.6h0M580.6 759.1h0M583.9 758.1h0M581.9 754.1h0M543.6 757.5h0M525.3 754.4h0M600.2 742.9h0M528.4 757.0h0M564.0 759.9h0M546.7 760.1h0M543.1 752.0h0M548.3 761.5h0M586.6 755.5h0M584.0 753.3h0M559.1 759.8h0M546.2 753.0h0M524.4 752.9h0M595.1 757.1h0M575.6 759.8h0M563.7 761.3h0M593.6 749.9h0M531.3 754.6h0M531.0 745.0h0M584.9 757.0h0M567.1 761.9h0M569.0 759.7h0M547.8 760.7h0M601.1 750.7h0M584.8 753.3h0M600.4 748.5h0M595.0 756.8h0M556.1 759.1h0" stroke="#383838" stroke-opacity="0.55" stroke-width="3.1" stroke-linecap="round" fill="none"/><path d="M525.8 735.7h0M531.0 739.4h0M534.9 742.6h0M522.6 735.5h0" stroke="#555" stroke-opacity="0.6" stroke-width="3.2" stroke-linecap="round" fill="none"/><path d="M404.5 547.3h0M473.8 635.7h0M469.4 672.3h0M471.3 673.1h0M482.7 701.4h0M500.6 704.0h0M494.4 706.9h0M491.4 711.4h0M494.7 713.4h0M492.7 715.3h0M503.1 712.7h0M512.9 715.7h0M470.6 718.6h0M483.4 718.8h0M510.9 720.5h0M477.4 722.7h0M508.1 724.0h0M499.6 725.3h0M478.4 727.0h0M479.7 726.4h0M479.1 730.9h0M483.0 732.2h0M493.0 731.3h0M497.5 731.8h0M511.6 731.8h0M517.4 731.8h0M477.8 735.2h0M482.7 736.1h0M511.3 735.5h0M514.2 734.8h0M492.3 737.7h0M497.3 738.7h0M515.5 738.7h0M482.1 741.9h0M489.2 741.0h0M490.1 743.9h0M492.3 744.3h0M493.8 747.1h0M497.9 754.7h0M632.4 676.4h0M666.6 684.0h0M631.4 692.5h0M615.0 719.2h0M627.4 717.4h0M622.1 721.8h0M622.7 724.8h0M634.8 723.8h0M640.5 723.2h0M650.0 724.8h0M640.9 730.5h0M648.6 731.9h0M653.4 732.5h0M646.6 737.0h0M651.0 739.0h0M658.1 740.4h0M643.9 742.0h0M636.9 742.0h0M642.9 748.1h0M638.9 750.7h0M632.8 751.1h0M620.7 756.2h0M515.9 743.4h0M509.8 746.3h0M520.4 755.9h0M501.5 743.7h0M502.4 744.3h0M503.7 757.2h0M508.8 749.8h0M502.2 752.1h0M505.1 740.2h0M519.9 741.4h0M513.6 756.5h0M515.8 744.3h0M520.0 739.9h0M507.9 757.6h0M508.1 755.4h0M504.3 750.6h0M506.9 751.9h0M514.5 752.1h0M515.2 741.5h0M512.0 753.7h0M514.8 740.7h0M521.7 750.6h0M499.5 749.6h0M501.6 748.7h0M516.1 755.0h0M522.1 750.8h0M508.5 747.8h0M519.2 757.5h0M517.4 741.0h0M511.1 741.1h0M501.9 753.6h0M515.8 751.9h0M513.4 740.1h0M502.7 752.6h0M506.6 740.6h0M504.6 744.1h0M514.6 739.6h0M506.4 739.9h0M512.9 757.4h0M513.6 738.8h0M515.3 753.2h0M517.5 745.9h0M504.8 744.4h0M512.0 747.2h0M513.6 746.2h0M517.8 749.6h0M500.3 745.9h0M493.4 745.4h0M505.1 749.7h0M519.6 751.4h0M520.4 749.4h0M508.8 746.4h0M508.8 743.9h0M497.4 749.3h0M516.3 757.5h0M519.8 749.7h0M498.3 748.7h0M515.1 744.9h0M501.9 755.7h0M512.4 745.9h0M508.2 742.2h0M502.2 746.5h0M520.5 749.4h0M505.2 754.5h0M520.4 756.3h0M515.7 752.0h0M514.3 750.8h0M516.3 742.0h0M508.3 740.9h0M499.2 750.1h0M510.9 749.9h0M520.0 753.9h0M496.7 746.9h0M513.1 750.0h0M506.8 748.3h0M467.9 707.6h0M610.9 732.5h0M609.3 744.3h0M608.8 754.2h0M624.1 748.4h0M627.0 742.6h0M632.2 748.7h0M612.8 742.2h0M610.8 747.5h0M616.3 743.0h0M615.6 735.5h0M622.4 750.0h0M615.1 734.3h0M623.1 747.3h0M621.1 752.7h0M622.6 755.6h0M621.6 744.5h0M610.7 739.4h0M615.5 737.9h0M612.8 735.7h0M607.6 745.5h0M617.7 752.0h0M624.4 755.3h0M607.0 734.5h0M605.1 735.6h0M607.7 753.7h0M614.3 745.9h0M615.4 742.0h0M623.8 755.6h0M606.5 741.9h0M626.1 751.6h0M623.5 738.3h0M605.3 736.9h0M621.5 754.4h0M622.3 746.6h0M616.1 750.6h0M624.0 744.9h0M612.2 754.7h0M606.8 742.0h0M632.5 746.0h0M616.3 736.4h0M615.8 750.6h0M625.1 747.2h0M613.1 747.2h0M630.5 752.7h0M605.2 747.7h0M612.0 748.8h0M628.4 752.1h0M610.3 740.7h0M609.3 752.7h0M625.9 745.6h0" stroke="#3a7775" stroke-width="3.80" stroke-linecap="round" fill="none"/><path d="M404.5 547.3h0M473.8 635.7h0M469.4 672.3h0M471.3 673.1h0M482.7 701.4h0M500.6 704.0h0M494.4 706.9h0M491.4 711.4h0M494.7 713.4h0M492.7 715.3h0M503.1 712.7h0M512.9 715.7h0M470.6 718.6h0M483.4 718.8h0M510.9 720.5h0M477.4 722.7h0M508.1 724.0h0M499.6 725.3h0M478.4 727.0h0M479.7 726.4h0M479.1 730.9h0M483.0 732.2h0M493.0 731.3h0M497.5 731.8h0M511.6 731.8h0M517.4 731.8h0M477.8 735.2h0M482.7 736.1h0M511.3 735.5h0M514.2 734.8h0M492.3 737.7h0M497.3 738.7h0M515.5 738.7h0M482.1 741.9h0M489.2 741.0h0M490.1 743.9h0M492.3 744.3h0M493.8 747.1h0M497.9 754.7h0M632.4 676.4h0M666.6 684.0h0M631.4 692.5h0M615.0 719.2h0M627.4 717.4h0M622.1 721.8h0M622.7 724.8h0M634.8 723.8h0M640.5 723.2h0M650.0 724.8h0M640.9 730.5h0M648.6 731.9h0M653.4 732.5h0M646.6 737.0h0M651.0 739.0h0M658.1 740.4h0M643.9 742.0h0M636.9 742.0h0M642.9 748.1h0M638.9 750.7h0M632.8 751.1h0M620.7 756.2h0M515.9 743.4h0M509.8 746.3h0M520.4 755.9h0M501.5 743.7h0M502.4 744.3h0M503.7 757.2h0M508.8 749.8h0M502.2 752.1h0M505.1 740.2h0M519.9 741.4h0M513.6 756.5h0M515.8 744.3h0M520.0 739.9h0M507.9 757.6h0M508.1 755.4h0M504.3 750.6h0M506.9 751.9h0M514.5 752.1h0M515.2 741.5h0M512.0 753.7h0M514.8 740.7h0M521.7 750.6h0M499.5 749.6h0M501.6 748.7h0M516.1 755.0h0M522.1 750.8h0M508.5 747.8h0M519.2 757.5h0M517.4 741.0h0M511.1 741.1h0M501.9 753.6h0M515.8 751.9h0M513.4 740.1h0M502.7 752.6h0M506.6 740.6h0M504.6 744.1h0M514.6 739.6h0M506.4 739.9h0M512.9 757.4h0M513.6 738.8h0M515.3 753.2h0M517.5 745.9h0M504.8 744.4h0M512.0 747.2h0M513.6 746.2h0M517.8 749.6h0M500.3 745.9h0M493.4 745.4h0M505.1 749.7h0M519.6 751.4h0M520.4 749.4h0M508.8 746.4h0M508.8 743.9h0M497.4 749.3h0M516.3 757.5h0M519.8 749.7h0M498.3 748.7h0M515.1 744.9h0M501.9 755.7h0M512.4 745.9h0M508.2 742.2h0M502.2 746.5h0M520.5 749.4h0M505.2 754.5h0M520.4 756.3h0M515.7 752.0h0M514.3 750.8h0M516.3 742.0h0M508.3 740.9h0M499.2 750.1h0M510.9 749.9h0M520.0 753.9h0M496.7 746.9h0M513.1 750.0h0M506.8 748.3h0M467.9 707.6h0M610.9 732.5h0M609.3 744.3h0M608.8 754.2h0M624.1 748.4h0M627.0 742.6h0M632.2 748.7h0M612.8 742.2h0M610.8 747.5h0M616.3 743.0h0M615.6 735.5h0M622.4 750.0h0M615.1 734.3h0M623.1 747.3h0M621.1 752.7h0M622.6 755.6h0M621.6 744.5h0M610.7 739.4h0M615.5 737.9h0M612.8 735.7h0M607.6 745.5h0M617.7 752.0h0M624.4 755.3h0M607.0 734.5h0M605.1 735.6h0M607.7 753.7h0M614.3 745.9h0M615.4 742.0h0M623.8 755.6h0M606.5 741.9h0M626.1 751.6h0M623.5 738.3h0M605.3 736.9h0M621.5 754.4h0M622.3 746.6h0M616.1 750.6h0M624.0 744.9h0M612.2 754.7h0M606.8 742.0h0M632.5 746.0h0M616.3 736.4h0M615.8 750.6h0M625.1 747.2h0M613.1 747.2h0M630.5 752.7h0M605.2 747.7h0M612.0 748.8h0M628.4 752.1h0M610.3 740.7h0M609.3 752.7h0M625.9 745.6h0" stroke="#4aa3a3" stroke-width="2.68" stroke-linecap="round" fill="none"/><path d="M504.0 735.2h0M519.1 739.1h0M494.7 751.3h0M503.5 735.0h0" stroke="#7a3c1c" stroke-width="3.80" stroke-linecap="round" fill="none"/><path d="M504.0 735.2h0M519.1 739.1h0M494.7 751.3h0M503.5 735.0h0" stroke="#b5541f" stroke-width="2.68" stroke-linecap="round" fill="none"/><path d="M508.3 731.3h0" stroke="#222" stroke-width="1.3" stroke-linecap="round" fill="none"/>
</g>
<rect x="386.6" y="541" width="304.4" height="226.29999999999995" fill="none" stroke="#606060" stroke-width="1.3"/>
<line x1="382.1" y1="762.2" x2="386.6" y2="762.2" stroke="#555" stroke-width="1"/>
<text transform="translate(379.3,765.7) scale(0.9,1)" font-size="7.2" text-anchor="end" fill="#2a2a2a" stroke="#2a2a2a" stroke-width="0.05">0</text>
<line x1="382.1" y1="741.6" x2="386.6" y2="741.6" stroke="#555" stroke-width="1"/>
<text transform="translate(379.3,745.1) scale(0.9,1)" font-size="7.2" text-anchor="end" fill="#2a2a2a" stroke="#2a2a2a" stroke-width="0.05">7</text>
<line x1="382.1" y1="721.1" x2="386.6" y2="721.1" stroke="#555" stroke-width="1"/>
<text transform="translate(379.3,724.6) scale(0.9,1)" font-size="7.2" text-anchor="end" fill="#2a2a2a" stroke="#2a2a2a" stroke-width="0.05">14</text>
<line x1="382.1" y1="700.5" x2="386.6" y2="700.5" stroke="#555" stroke-width="1"/>
<text transform="translate(379.3,704.0) scale(0.9,1)" font-size="7.2" text-anchor="end" fill="#2a2a2a" stroke="#2a2a2a" stroke-width="0.05">21</text>
<line x1="382.1" y1="679.9" x2="386.6" y2="679.9" stroke="#555" stroke-width="1"/>
<text transform="translate(379.3,683.4) scale(0.9,1)" font-size="7.2" text-anchor="end" fill="#2a2a2a" stroke="#2a2a2a" stroke-width="0.05">28</text>
<line x1="382.1" y1="659.3" x2="386.6" y2="659.3" stroke="#555" stroke-width="1"/>
<text transform="translate(379.3,662.8) scale(0.9,1)" font-size="7.2" text-anchor="end" fill="#2a2a2a" stroke="#2a2a2a" stroke-width="0.05">35</text>
<line x1="382.1" y1="638.8" x2="386.6" y2="638.8" stroke="#555" stroke-width="1"/>
<text transform="translate(379.3,642.3) scale(0.9,1)" font-size="7.2" text-anchor="end" fill="#2a2a2a" stroke="#2a2a2a" stroke-width="0.05">42</text>
<line x1="382.1" y1="618.2" x2="386.6" y2="618.2" stroke="#555" stroke-width="1"/>
<text transform="translate(379.3,621.7) scale(0.9,1)" font-size="7.2" text-anchor="end" fill="#2a2a2a" stroke="#2a2a2a" stroke-width="0.05">49</text>
<line x1="382.1" y1="597.6" x2="386.6" y2="597.6" stroke="#555" stroke-width="1"/>
<text transform="translate(379.3,601.1) scale(0.9,1)" font-size="7.2" text-anchor="end" fill="#2a2a2a" stroke="#2a2a2a" stroke-width="0.05">56</text>
<line x1="382.1" y1="577.0" x2="386.6" y2="577.0" stroke="#555" stroke-width="1"/>
<text transform="translate(379.3,580.5) scale(0.9,1)" font-size="7.2" text-anchor="end" fill="#2a2a2a" stroke="#2a2a2a" stroke-width="0.05">63</text>
<line x1="382.1" y1="556.5" x2="386.6" y2="556.5" stroke="#555" stroke-width="1"/>
<text transform="translate(379.3,560.0) scale(0.9,1)" font-size="7.2" text-anchor="end" fill="#2a2a2a" stroke="#2a2a2a" stroke-width="0.05">70</text>
<line x1="392.6" y1="767.3" x2="392.6" y2="771.8" stroke="#555" stroke-width="1"/>
<text transform="translate(392.6,780.9) scale(0.9,1)" font-size="7.2" text-anchor="middle" fill="#2a2a2a" stroke="#2a2a2a" stroke-width="0.05">-8.4</text>
<line x1="416.9" y1="767.3" x2="416.9" y2="771.8" stroke="#555" stroke-width="1"/>
<text transform="translate(416.9,780.9) scale(0.9,1)" font-size="7.2" text-anchor="middle" fill="#2a2a2a" stroke="#2a2a2a" stroke-width="0.05">-7.2</text>
<line x1="441.3" y1="767.3" x2="441.3" y2="771.8" stroke="#555" stroke-width="1"/>
<text transform="translate(441.3,780.9) scale(0.9,1)" font-size="7.2" text-anchor="middle" fill="#2a2a2a" stroke="#2a2a2a" stroke-width="0.05">-6.0</text>
<line x1="465.7" y1="767.3" x2="465.7" y2="771.8" stroke="#555" stroke-width="1"/>
<text transform="translate(465.7,780.9) scale(0.9,1)" font-size="7.2" text-anchor="middle" fill="#2a2a2a" stroke="#2a2a2a" stroke-width="0.05">-4.8</text>
<line x1="490.0" y1="767.3" x2="490.0" y2="771.8" stroke="#555" stroke-width="1"/>
<text transform="translate(490.0,780.9) scale(0.9,1)" font-size="7.2" text-anchor="middle" fill="#2a2a2a" stroke="#2a2a2a" stroke-width="0.05">-3.6</text>
<line x1="514.4" y1="767.3" x2="514.4" y2="771.8" stroke="#555" stroke-width="1"/>
<text transform="translate(514.4,780.9) scale(0.9,1)" font-size="7.2" text-anchor="middle" fill="#2a2a2a" stroke="#2a2a2a" stroke-width="0.05">-2.4</text>
<line x1="538.7" y1="767.3" x2="538.7" y2="771.8" stroke="#555" stroke-width="1"/>
<text transform="translate(538.7,780.9) scale(0.9,1)" font-size="7.2" text-anchor="middle" fill="#2a2a2a" stroke="#2a2a2a" stroke-width="0.05">-1.2</text>
<line x1="563.1" y1="767.3" x2="563.1" y2="771.8" stroke="#555" stroke-width="1"/>
<text transform="translate(563.1,780.9) scale(0.9,1)" font-size="7.2" text-anchor="middle" fill="#2a2a2a" stroke="#2a2a2a" stroke-width="0.05">0.0</text>
<line x1="587.5" y1="767.3" x2="587.5" y2="771.8" stroke="#555" stroke-width="1"/>
<text transform="translate(587.5,780.9) scale(0.9,1)" font-size="7.2" text-anchor="middle" fill="#2a2a2a" stroke="#2a2a2a" stroke-width="0.05">1.2</text>
<line x1="611.8" y1="767.3" x2="611.8" y2="771.8" stroke="#555" stroke-width="1"/>
<text transform="translate(611.8,780.9) scale(0.9,1)" font-size="7.2" text-anchor="middle" fill="#2a2a2a" stroke="#2a2a2a" stroke-width="0.05">2.4</text>
<line x1="636.2" y1="767.3" x2="636.2" y2="771.8" stroke="#555" stroke-width="1"/>
<text transform="translate(636.2,780.9) scale(0.9,1)" font-size="7.2" text-anchor="middle" fill="#2a2a2a" stroke="#2a2a2a" stroke-width="0.05">3.6</text>
<line x1="660.5" y1="767.3" x2="660.5" y2="771.8" stroke="#555" stroke-width="1"/>
<text transform="translate(660.5,780.9) scale(0.9,1)" font-size="7.2" text-anchor="middle" fill="#2a2a2a" stroke="#2a2a2a" stroke-width="0.05">4.8</text>
</g>
<g>
<clipPath id="cB3"><rect x="44.8" y="787.6" width="306.7" height="226.79999999999995"/></clipPath>
<g clip-path="url(#cB3)">
<line x1="172.9" y1="787.6" x2="172.9" y2="1014.4" stroke="#dadada" stroke-width="1"/>
<line x1="249.3" y1="787.6" x2="249.3" y2="1014.4" stroke="#dadada" stroke-width="1"/>
<line x1="211.1" y1="787.6" x2="211.1" y2="1014.4" stroke="#c8c8c8" stroke-width="1" stroke-dasharray="3,2"/>
<line x1="44.8" y1="1004.6" x2="351.5" y2="1004.6" stroke="#d2d2d2" stroke-width="1" stroke-dasharray="2,0.6"/>
<text x="168.3" y="800.9" fill="#56a2a8" font-size="10.9" text-anchor="end" stroke="#56a2a8" stroke-width="0.15">DEGs = 68</text>
<text x="168.3" y="812.3" fill="#a76436" font-size="10.9" text-anchor="end" stroke="#a76436" stroke-width="0.15">Medium-specific</text>
<text x="168.3" y="825.3" fill="#a76436" font-size="10.9" text-anchor="end" stroke="#a76436" stroke-width="0.15">= 0</text>
<text x="254.4" y="800.9" fill="#56a2a8" font-size="10.9" stroke="#56a2a8" stroke-width="0.15">DEGs = 101</text>
<text x="254.4" y="812.3" fill="#a76436" font-size="10.9" stroke="#a76436" stroke-width="0.15">Medium-specific</text>
<text x="254.4" y="825.3" fill="#a76436" font-size="10.9" stroke="#a76436" stroke-width="0.15">= 1 (1.0%)</text>
<text x="346.0" y="1001.0" fill="#889dc4" stroke="#889dc4" stroke-width="0.35" font-size="8.6" font-style="italic" text-anchor="end">P = 0.05</text>
<path d="M173.4 996.8 L175.1 997.5 L176.8 998.3 L178.4 999.1 L180.1 999.9 L182.1 1000.8 L184.0 1001.6 L185.9 1002.5 L187.9 1003.3 L190.9 1004.1 L193.9 1004.9 L197.0 1005.7 L200.0 1006.5 L202.8 1006.7 L205.6 1006.9 L208.4 1007.1 L211.2 1007.3 L215.6 1006.6 L220.0 1005.8 L224.4 1005.1 L228.8 1004.4 L232.5 1003.1 L236.1 1001.7 L239.8 1000.4 L243.4 999.1 L244.8 998.6 L246.2 998.1 L247.6 997.6 L249.0 997.2 L249.0 1004.6 L247.6 1004.8 L246.2 1005.1 L244.8 1005.3 L243.4 1005.5 L239.8 1006.2 L236.1 1006.8 L232.5 1007.4 L228.8 1008.0 L224.4 1008.3 L220.0 1008.6 L215.6 1008.8 L211.2 1009.1 L208.4 1009.0 L205.6 1008.8 L202.8 1008.6 L200.0 1008.5 L197.0 1008.2 L193.9 1007.9 L190.9 1007.7 L187.9 1007.4 L185.9 1007.1 L184.0 1006.8 L182.1 1006.5 L180.1 1006.2 L178.4 1006.0 L176.8 1005.7 L175.1 1005.5 L173.4 1005.2Z" fill="#3b3b3b"/><path d="M193.7 1005.5h0M189.1 1007.1h0M215.5 1007.5h0M192.9 1007.0h0M241.3 1001.5h0M224.0 1006.3h0M182.7 999.9h0M243.3 998.5h0M202.0 1008.4h0M245.8 999.3h0M218.4 1005.7h0M179.0 1004.9h0M225.2 1006.4h0M199.9 1007.5h0M216.0 1007.9h0M203.3 1007.3h0M218.8 1006.8h0M199.5 1005.8h0M240.8 1002.7h0M179.8 1006.4h0M205.2 1006.2h0M244.4 997.5h0M232.4 1003.1h0M212.1 1007.0h0M189.3 1003.1h0M197.5 1006.3h0M246.6 997.8h0M196.9 1007.4h0M245.0 997.8h0M218.2 1005.9h0M210.2 1006.6h0M244.4 1002.3h0M196.3 1006.6h0M246.1 1001.4h0M179.0 1004.4h0M218.9 1005.3h0M236.3 1005.5h0M198.4 1006.9h0M207.7 1008.1h0M222.3 1006.8h0M183.8 1006.6h0M242.1 1005.0h0M178.8 1000.4h0M237.0 1004.1h0M189.0 1004.2h0M175.3 999.6h0M242.5 997.6h0M197.2 1008.1h0M233.4 1002.8h0M217.8 1006.8h0M184.8 1005.2h0M187.5 1007.0h0M177.3 999.6h0M225.6 1004.4h0M203.7 1006.6h0M240.0 1005.0h0M199.3 1006.7h0M218.7 1007.3h0M224.4 1006.4h0M204.5 1008.4h0M205.0 1006.3h0M206.7 1008.0h0M184.9 1001.1h0M188.7 1004.5h0M216.8 1008.7h0M247.3 998.5h0M220.1 1006.3h0M206.1 1008.5h0M219.9 1005.0h0M196.2 1006.8h0M187.9 1004.3h0M194.3 1008.2h0M176.5 1001.0h0M185.1 1004.5h0M189.6 1003.4h0M182.1 1005.4h0M206.2 1008.3h0M179.2 1000.7h0" stroke="#383838" stroke-opacity="0.55" stroke-width="3.1" stroke-linecap="round" fill="none"/><path d="M199.4 1006.8h0M229.2 1007.4h0M218.4 1005.3h0M213.2 1006.7h0M218.0 1006.4h0M246.0 996.4h0M187.3 1007.1h0M176.6 999.7h0M241.5 1001.7h0M203.8 1007.0h0M214.3 1008.8h0M180.6 1002.2h0M226.2 1007.6h0M206.6 1008.5h0M226.2 1005.6h0M177.0 1000.9h0M190.8 1006.6h0M200.7 1008.0h0M241.3 1001.8h0M174.9 1002.7h0M205.5 1008.9h0M216.0 1006.4h0M238.0 1002.2h0M245.6 1004.0h0M177.4 997.1h0M241.0 1001.5h0M204.3 1008.0h0M202.8 1008.1h0M209.3 1006.5h0M230.1 1004.6h0M211.9 1007.3h0M184.2 1007.0h0M245.0 997.2h0M184.4 1001.0h0M244.1 1002.6h0M201.1 1006.0h0M202.7 1007.0h0M236.5 1006.4h0M208.6 1006.7h0M245.1 1003.8h0M219.4 1007.5h0M199.8 1007.5h0M245.8 1004.8h0M177.2 997.7h0M185.6 1006.2h0M232.8 1007.2h0M176.6 998.8h0M205.1 1006.8h0M195.5 1006.0h0M178.2 1005.3h0M202.1 1008.6h0M184.1 1006.7h0M240.9 1005.4h0M176.0 1001.1h0M202.0 1008.3h0M193.7 1006.7h0M210.1 1007.7h0M220.7 1007.8h0M218.5 1006.7h0M229.6 1007.2h0M195.9 1006.5h0M192.8 1004.5h0M215.8 1007.9h0M178.8 999.3h0M231.6 1005.8h0M237.7 1005.5h0M187.3 1004.6h0M203.3 1008.6h0M203.5 1006.4h0M246.2 1001.6h0M191.9 1007.2h0M181.3 1006.6h0M227.3 1007.2h0M205.4 1007.4h0M175.1 1002.7h0M202.0 1005.9h0M184.7 1005.6h0" stroke="#383838" stroke-opacity="0.55" stroke-width="3.1" stroke-linecap="round" fill="none"/><path d="M198.7 1006.1h0M212.0 1007.9h0M191.9 1004.9h0M245.5 1000.9h0M229.4 1006.7h0M244.9 996.7h0M200.7 1007.5h0M188.8 1006.6h0M246.7 1004.5h0M209.1 1006.8h0M244.4 1003.3h0M186.9 1006.1h0M190.9 1004.9h0M179.1 1005.2h0M189.8 1003.2h0M238.4 999.7h0M246.8 996.8h0M239.7 999.9h0M219.0 1005.4h0M243.7 1001.4h0M178.9 999.5h0M197.0 1006.6h0M196.9 1006.8h0M239.1 999.3h0M184.5 1003.6h0M237.7 1003.2h0M228.2 1004.8h0M209.6 1008.3h0M177.9 1005.4h0M199.2 1008.0h0M219.1 1006.5h0M182.6 1004.5h0M232.6 1005.5h0M187.4 1002.5h0M192.2 1006.0h0M213.8 1008.8h0M217.1 1007.3h0M241.7 999.2h0M187.8 1002.2h0M181.0 1005.1h0M214.5 1007.8h0M196.2 1008.1h0M207.9 1007.9h0M240.2 1006.1h0M225.2 1006.2h0M244.6 1005.6h0M181.4 1001.6h0M176.9 1002.5h0M225.8 1005.1h0M239.8 1001.8h0M217.3 1005.9h0M214.0 1007.4h0M223.8 1005.8h0M191.8 1005.2h0M205.2 1008.6h0M229.7 1005.7h0M235.3 1005.5h0M199.6 1007.9h0M242.3 1003.2h0M205.5 1008.3h0M239.3 1005.4h0M177.9 998.6h0M204.1 1007.6h0M199.8 1007.3h0M200.4 1006.1h0M185.2 1005.0h0M182.8 999.4h0M197.1 1007.3h0M186.7 1003.8h0M246.7 1004.2h0M223.9 1007.7h0M200.6 1007.3h0M200.5 1006.4h0M199.9 1008.5h0M207.8 1008.1h0M246.4 1002.2h0M203.1 1007.3h0" stroke="#383838" stroke-opacity="0.55" stroke-width="3.1" stroke-linecap="round" fill="none"/><path d="M238.9 1001.4h0M178.4 1001.4h0M175.6 996.1h0M192.5 1006.2h0M200.6 1007.0h0M239.4 1000.1h0M196.8 1007.5h0M238.0 999.9h0M208.8 1008.8h0M181.2 1001.5h0M233.7 1006.4h0M207.8 1006.9h0M175.0 996.0h0M185.0 1005.4h0M216.3 1008.4h0M208.3 1006.4h0M204.8 1006.6h0M190.7 1004.9h0M176.2 1005.7h0M194.0 1007.1h0M213.2 1007.3h0M190.1 1004.4h0M227.2 1006.6h0M201.7 1007.6h0M194.0 1007.8h0M236.0 1004.9h0M245.7 996.8h0M213.1 1006.3h0M187.7 1002.8h0M205.1 1006.3h0M222.4 1006.3h0M210.2 1009.2h0M240.5 1006.0h0M202.3 1007.9h0M176.6 999.4h0M187.3 1002.8h0M217.0 1005.6h0M210.3 1007.9h0M203.4 1006.7h0M177.0 1004.4h0M238.0 1002.7h0M201.1 1006.5h0M232.1 1002.8h0M215.6 1007.8h0M240.1 999.0h0M245.9 1001.8h0M204.2 1006.7h0M247.3 1000.9h0M235.2 1004.0h0M202.8 1008.3h0M240.6 1000.8h0M238.4 1001.4h0M174.6 1002.1h0M201.7 1006.6h0M214.7 1009.1h0M177.1 1002.0h0M184.8 1005.1h0M235.2 1004.9h0M237.0 1005.0h0M226.5 1004.9h0M207.2 1007.0h0M195.3 1006.1h0M236.1 1001.5h0M239.4 1004.1h0M180.9 1003.2h0M231.7 1007.2h0M189.9 1003.2h0M244.6 1000.8h0M212.2 1007.8h0M196.0 1005.7h0M245.7 997.3h0M226.7 1006.1h0M236.3 1004.5h0M203.2 1007.2h0M229.6 1007.8h0M192.2 1005.9h0M177.1 1001.2h0" stroke="#383838" stroke-opacity="0.55" stroke-width="3.1" stroke-linecap="round" fill="none"/><path d="M235.7 1003.4h0M182.9 1001.3h0M178.7 1001.7h0M183.2 1000.4h0M220.7 1005.7h0M178.4 998.6h0M208.0 1006.7h0M247.5 1004.8h0M245.7 997.0h0M241.4 1005.7h0M182.3 1001.3h0M232.5 1004.8h0M236.2 1003.5h0M205.1 1008.4h0M211.1 1009.1h0M246.1 1003.8h0M225.7 1006.3h0M186.1 1002.3h0M197.5 1006.4h0M206.8 1008.2h0M244.7 1002.2h0M232.0 1004.1h0M245.9 998.4h0M182.2 1001.2h0M179.6 1004.9h0M202.6 1008.0h0M180.0 998.7h0M178.5 1004.8h0M234.4 1004.6h0M247.3 996.5h0M205.1 1006.3h0M240.7 1001.1h0M183.0 1002.4h0M234.7 1005.3h0M205.2 1006.5h0M247.2 1004.8h0M240.2 1003.4h0M229.6 1003.7h0M224.2 1004.9h0M204.8 1007.1h0M190.9 1003.8h0M246.5 997.0h0M230.5 1003.4h0M226.7 1005.7h0M234.3 1003.8h0M193.7 1004.1h0M227.2 1004.9h0M245.0 998.6h0M242.8 1000.0h0M186.6 1004.6h0M191.1 1003.4h0M211.4 1009.3h0M183.2 1002.9h0M203.5 1008.3h0M187.4 1002.6h0M178.7 1004.7h0M200.6 1007.7h0M196.7 1007.8h0M215.1 1006.7h0M232.5 1004.1h0M217.6 1008.8h0M235.4 1001.5h0M206.5 1006.9h0M183.4 1000.4h0M242.5 1001.2h0M242.8 998.1h0M212.3 1007.7h0M229.9 1007.9h0M241.5 998.3h0M238.6 1006.3h0M240.0 999.0h0M180.9 1002.6h0M180.1 1003.9h0M241.7 1006.1h0M212.5 1008.8h0M188.6 1003.4h0M191.6 1004.4h0" stroke="#383838" stroke-opacity="0.55" stroke-width="3.1" stroke-linecap="round" fill="none"/><path d="M180.8 999.0h0M236.3 1003.6h0M201.4 1007.0h0M233.4 1006.2h0M191.1 1006.6h0M236.1 1005.4h0M177.2 1000.7h0M175.8 1001.5h0M183.1 1003.7h0M197.3 1006.8h0M203.8 1006.4h0M200.0 1007.8h0M181.9 1003.2h0M185.3 1003.0h0M197.1 1005.2h0M234.7 1005.2h0M234.3 1001.7h0M182.5 999.3h0M228.5 1006.9h0M190.1 1005.1h0M187.7 1004.8h0M237.4 1004.5h0M247.6 1000.3h0M206.2 1007.8h0M175.9 1002.6h0M202.2 1007.2h0M181.1 1003.4h0M186.2 1005.6h0M240.2 1002.6h0M227.6 1008.2h0M202.5 1006.9h0M221.6 1004.7h0M177.7 1004.5h0M245.1 1004.4h0M236.5 1002.9h0M185.1 1001.8h0M246.5 1001.9h0M218.7 1008.6h0M229.8 1006.4h0M207.6 1008.9h0M210.3 1007.5h0M238.3 1004.7h0M175.9 998.1h0M237.0 1000.8h0M184.6 1004.4h0M209.5 1007.8h0M235.3 1003.7h0M189.1 1006.0h0M216.6 1005.6h0M209.5 1007.3h0M217.6 1005.9h0M240.7 1002.0h0M209.3 1008.2h0M230.9 1005.9h0M217.3 1007.1h0M204.1 1006.3h0M191.0 1006.6h0M215.9 1007.9h0M176.1 1002.0h0M218.9 1005.4h0M202.2 1006.4h0M230.9 1006.6h0M233.4 1005.3h0M175.4 996.1h0M216.8 1008.8h0M201.4 1007.5h0M202.1 1006.3h0M197.9 1005.7h0M218.2 1005.4h0M189.3 1007.6h0M241.5 998.7h0M224.2 1005.6h0M230.9 1003.5h0M233.5 1004.4h0M176.6 1003.1h0M209.6 1007.4h0M243.3 1001.4h0" stroke="#383838" stroke-opacity="0.55" stroke-width="3.1" stroke-linecap="round" fill="none"/><path d="M73.2 792.9h0M112.9 957.1h0M119.4 960.4h0M137.0 968.2h0M128.2 972.3h0M129.5 973.1h0M133.1 972.3h0M138.8 989.2h0M141.2 988.3h0M150.9 985.7h0M155.5 985.3h0M159.4 984.4h0M158.3 988.7h0M150.0 992.9h0M163.9 991.6h0M169.7 990.9h0M156.1 994.2h0M147.7 999.1h0M147.7 1001.3h0M324.7 900.7h0M311.0 915.6h0M312.6 926.8h0M296.4 951.6h0M320.7 952.5h0M281.3 966.3h0M273.2 971.7h0M288.0 975.7h0M268.6 977.5h0M267.5 978.4h0M264.1 982.5h0M259.2 984.7h0M286.2 988.1h0M290.7 989.2h0M261.4 990.4h0M265.9 989.2h0M269.3 988.1h0M256.9 992.6h0M262.6 993.7h0M267.1 994.9h0M284.0 992.6h0M282.8 996.0h0M271.6 997.1h0M154.5 995.0h0M155.5 1002.9h0M161.9 995.1h0M157.0 994.8h0M154.5 997.6h0M171.3 1003.4h0M165.8 992.4h0M163.7 999.1h0M172.5 998.4h0M168.3 995.3h0M158.9 998.0h0M166.6 998.9h0M166.4 1002.6h0M166.5 999.6h0M158.0 995.2h0M172.2 994.8h0M171.7 994.0h0M165.9 997.7h0M155.0 998.3h0M173.1 994.0h0M172.1 1003.4h0M155.9 1002.9h0M167.4 992.7h0M155.3 999.0h0M170.8 994.6h0M168.7 999.4h0M154.9 1000.3h0M170.9 990.8h0M173.3 1004.3h0M171.3 998.8h0M160.1 997.0h0M155.7 1000.1h0M169.7 996.6h0M170.6 1004.3h0M170.8 1000.3h0M153.1 997.4h0M164.4 1003.5h0M161.1 995.2h0M160.9 994.8h0M156.0 1002.2h0M257.0 1001.8h0M257.5 994.4h0M252.9 993.8h0M257.8 995.6h0M250.8 1003.3h0M250.8 1005.6h0M253.6 1001.1h0M261.3 996.0h0M256.5 997.8h0M256.6 1001.3h0M259.7 996.7h0M258.7 1004.1h0M256.1 998.1h0M255.5 993.8h0M257.5 994.9h0M254.2 1004.9h0M253.0 996.0h0M258.2 1000.1h0M252.7 993.6h0M251.0 996.9h0M259.8 1003.5h0M251.8 1001.6h0M251.6 997.8h0M250.8 994.6h0M260.4 1001.8h0M255.9 1004.3h0M250.6 995.4h0M258.4 992.9h0M255.3 997.4h0M251.5 995.1h0" stroke="#3a7775" stroke-width="3.80" stroke-linecap="round" fill="none"/><path d="M73.2 792.9h0M112.9 957.1h0M119.4 960.4h0M137.0 968.2h0M128.2 972.3h0M129.5 973.1h0M133.1 972.3h0M138.8 989.2h0M141.2 988.3h0M150.9 985.7h0M155.5 985.3h0M159.4 984.4h0M158.3 988.7h0M150.0 992.9h0M163.9 991.6h0M169.7 990.9h0M156.1 994.2h0M147.7 999.1h0M147.7 1001.3h0M324.7 900.7h0M311.0 915.6h0M312.6 926.8h0M296.4 951.6h0M320.7 952.5h0M281.3 966.3h0M273.2 971.7h0M288.0 975.7h0M268.6 977.5h0M267.5 978.4h0M264.1 982.5h0M259.2 984.7h0M286.2 988.1h0M290.7 989.2h0M261.4 990.4h0M265.9 989.2h0M269.3 988.1h0M256.9 992.6h0M262.6 993.7h0M267.1 994.9h0M284.0 992.6h0M282.8 996.0h0M271.6 997.1h0M154.5 995.0h0M155.5 1002.9h0M161.9 995.1h0M157.0 994.8h0M154.5 997.6h0M171.3 1003.4h0M165.8 992.4h0M163.7 999.1h0M172.5 998.4h0M168.3 995.3h0M158.9 998.0h0M166.6 998.9h0M166.4 1002.6h0M166.5 999.6h0M158.0 995.2h0M172.2 994.8h0M171.7 994.0h0M165.9 997.7h0M155.0 998.3h0M173.1 994.0h0M172.1 1003.4h0M155.9 1002.9h0M167.4 992.7h0M155.3 999.0h0M170.8 994.6h0M168.7 999.4h0M154.9 1000.3h0M170.9 990.8h0M173.3 1004.3h0M171.3 998.8h0M160.1 997.0h0M155.7 1000.1h0M169.7 996.6h0M170.6 1004.3h0M170.8 1000.3h0M153.1 997.4h0M164.4 1003.5h0M161.1 995.2h0M160.9 994.8h0M156.0 1002.2h0M257.0 1001.8h0M257.5 994.4h0M252.9 993.8h0M257.8 995.6h0M250.8 1003.3h0M250.8 1005.6h0M253.6 1001.1h0M261.3 996.0h0M256.5 997.8h0M256.6 1001.3h0M259.7 996.7h0M258.7 1004.1h0M256.1 998.1h0M255.5 993.8h0M257.5 994.9h0M254.2 1004.9h0M253.0 996.0h0M258.2 1000.1h0M252.7 993.6h0M251.0 996.9h0M259.8 1003.5h0M251.8 1001.6h0M251.6 997.8h0M250.8 994.6h0M260.4 1001.8h0M255.9 1004.3h0M250.6 995.4h0M258.4 992.9h0M255.3 997.4h0M251.5 995.1h0" stroke="#4aa3a3" stroke-width="2.68" stroke-linecap="round" fill="none"/><path d="M273.8 990.4h0" stroke="#7a3c1c" stroke-width="3.80" stroke-linecap="round" fill="none"/><path d="M273.8 990.4h0" stroke="#b5541f" stroke-width="2.68" stroke-linecap="round" fill="none"/>
</g>
<rect x="44.8" y="787.6" width="306.7" height="226.79999999999995" fill="none" stroke="#606060" stroke-width="1.3"/>
<line x1="40.3" y1="1009.0" x2="44.8" y2="1009.0" stroke="#555" stroke-width="1"/>
<text transform="translate(37.5,1012.5) scale(0.9,1)" font-size="7.2" text-anchor="end" fill="#2a2a2a" stroke="#2a2a2a" stroke-width="0.05">0</text>
<line x1="40.3" y1="988.8" x2="44.8" y2="988.8" stroke="#555" stroke-width="1"/>
<text transform="translate(37.5,992.3) scale(0.9,1)" font-size="7.2" text-anchor="end" fill="#2a2a2a" stroke="#2a2a2a" stroke-width="0.05">6</text>
<line x1="40.3" y1="968.5" x2="44.8" y2="968.5" stroke="#555" stroke-width="1"/>
<text transform="translate(37.5,972.0) scale(0.9,1)" font-size="7.2" text-anchor="end" fill="#2a2a2a" stroke="#2a2a2a" stroke-width="0.05">12</text>
<line x1="40.3" y1="948.3" x2="44.8" y2="948.3" stroke="#555" stroke-width="1"/>
<text transform="translate(37.5,951.8) scale(0.9,1)" font-size="7.2" text-anchor="end" fill="#2a2a2a" stroke="#2a2a2a" stroke-width="0.05">18</text>
<line x1="40.3" y1="928.1" x2="44.8" y2="928.1" stroke="#555" stroke-width="1"/>
<text transform="translate(37.5,931.6) scale(0.9,1)" font-size="7.2" text-anchor="end" fill="#2a2a2a" stroke="#2a2a2a" stroke-width="0.05">24</text>
<line x1="40.3" y1="907.8" x2="44.8" y2="907.8" stroke="#555" stroke-width="1"/>
<text transform="translate(37.5,911.3) scale(0.9,1)" font-size="7.2" text-anchor="end" fill="#2a2a2a" stroke="#2a2a2a" stroke-width="0.05">30</text>
<line x1="40.3" y1="887.6" x2="44.8" y2="887.6" stroke="#555" stroke-width="1"/>
<text transform="translate(37.5,891.1) scale(0.9,1)" font-size="7.2" text-anchor="end" fill="#2a2a2a" stroke="#2a2a2a" stroke-width="0.05">36</text>
<line x1="40.3" y1="867.4" x2="44.8" y2="867.4" stroke="#555" stroke-width="1"/>
<text transform="translate(37.5,870.9) scale(0.9,1)" font-size="7.2" text-anchor="end" fill="#2a2a2a" stroke="#2a2a2a" stroke-width="0.05">42</text>
<line x1="40.3" y1="847.1" x2="44.8" y2="847.1" stroke="#555" stroke-width="1"/>
<text transform="translate(37.5,850.6) scale(0.9,1)" font-size="7.2" text-anchor="end" fill="#2a2a2a" stroke="#2a2a2a" stroke-width="0.05">48</text>
<line x1="40.3" y1="826.9" x2="44.8" y2="826.9" stroke="#555" stroke-width="1"/>
<text transform="translate(37.5,830.4) scale(0.9,1)" font-size="7.2" text-anchor="end" fill="#2a2a2a" stroke="#2a2a2a" stroke-width="0.05">54</text>
<line x1="40.3" y1="806.7" x2="44.8" y2="806.7" stroke="#555" stroke-width="1"/>
<text transform="translate(37.5,810.2) scale(0.9,1)" font-size="7.2" text-anchor="end" fill="#2a2a2a" stroke="#2a2a2a" stroke-width="0.05">60</text>
<line x1="50.7" y1="1014.4" x2="50.7" y2="1018.9" stroke="#555" stroke-width="1"/>
<text transform="translate(50.7,1028.0) scale(0.9,1)" font-size="7.2" text-anchor="middle" fill="#2a2a2a" stroke="#2a2a2a" stroke-width="0.05">-8.4</text>
<line x1="77.4" y1="1014.4" x2="77.4" y2="1018.9" stroke="#555" stroke-width="1"/>
<text transform="translate(77.4,1028.0) scale(0.9,1)" font-size="7.2" text-anchor="middle" fill="#2a2a2a" stroke="#2a2a2a" stroke-width="0.05">-7.0</text>
<line x1="104.1" y1="1014.4" x2="104.1" y2="1018.9" stroke="#555" stroke-width="1"/>
<text transform="translate(104.1,1028.0) scale(0.9,1)" font-size="7.2" text-anchor="middle" fill="#2a2a2a" stroke="#2a2a2a" stroke-width="0.05">-5.6</text>
<line x1="130.9" y1="1014.4" x2="130.9" y2="1018.9" stroke="#555" stroke-width="1"/>
<text transform="translate(130.9,1028.0) scale(0.9,1)" font-size="7.2" text-anchor="middle" fill="#2a2a2a" stroke="#2a2a2a" stroke-width="0.05">-4.2</text>
<line x1="157.6" y1="1014.4" x2="157.6" y2="1018.9" stroke="#555" stroke-width="1"/>
<text transform="translate(157.6,1028.0) scale(0.9,1)" font-size="7.2" text-anchor="middle" fill="#2a2a2a" stroke="#2a2a2a" stroke-width="0.05">-2.8</text>
<line x1="184.4" y1="1014.4" x2="184.4" y2="1018.9" stroke="#555" stroke-width="1"/>
<text transform="translate(184.4,1028.0) scale(0.9,1)" font-size="7.2" text-anchor="middle" fill="#2a2a2a" stroke="#2a2a2a" stroke-width="0.05">-1.4</text>
<line x1="211.1" y1="1014.4" x2="211.1" y2="1018.9" stroke="#555" stroke-width="1"/>
<text transform="translate(211.1,1028.0) scale(0.9,1)" font-size="7.2" text-anchor="middle" fill="#2a2a2a" stroke="#2a2a2a" stroke-width="0.05">0.0</text>
<line x1="237.8" y1="1014.4" x2="237.8" y2="1018.9" stroke="#555" stroke-width="1"/>
<text transform="translate(237.8,1028.0) scale(0.9,1)" font-size="7.2" text-anchor="middle" fill="#2a2a2a" stroke="#2a2a2a" stroke-width="0.05">1.4</text>
<line x1="264.6" y1="1014.4" x2="264.6" y2="1018.9" stroke="#555" stroke-width="1"/>
<text transform="translate(264.6,1028.0) scale(0.9,1)" font-size="7.2" text-anchor="middle" fill="#2a2a2a" stroke="#2a2a2a" stroke-width="0.05">2.8</text>
<line x1="291.3" y1="1014.4" x2="291.3" y2="1018.9" stroke="#555" stroke-width="1"/>
<text transform="translate(291.3,1028.0) scale(0.9,1)" font-size="7.2" text-anchor="middle" fill="#2a2a2a" stroke="#2a2a2a" stroke-width="0.05">4.2</text>
<line x1="318.1" y1="1014.4" x2="318.1" y2="1018.9" stroke="#555" stroke-width="1"/>
<text transform="translate(318.1,1028.0) scale(0.9,1)" font-size="7.2" text-anchor="middle" fill="#2a2a2a" stroke="#2a2a2a" stroke-width="0.05">5.6</text>
</g>
<g>
<clipPath id="cB4"><rect x="387.2" y="787.5" width="303.8" height="226.70000000000005"/></clipPath>
<g clip-path="url(#cB4)">
<line x1="512.9" y1="787.5" x2="512.9" y2="1014.2" stroke="#dadada" stroke-width="1"/>
<line x1="588.1" y1="787.5" x2="588.1" y2="1014.2" stroke="#dadada" stroke-width="1"/>
<line x1="550.5" y1="787.5" x2="550.5" y2="1014.2" stroke="#c8c8c8" stroke-width="1" stroke-dasharray="3,2"/>
<line x1="387.2" y1="1007.3" x2="691" y2="1007.3" stroke="#d2d2d2" stroke-width="1" stroke-dasharray="2,0.6"/>
<text x="505.2" y="800.3" fill="#56a2a8" font-size="10.9" text-anchor="end" stroke="#56a2a8" stroke-width="0.15">DEGs = 136</text>
<text x="505.2" y="811.7" fill="#a76436" font-size="10.9" text-anchor="end" stroke="#a76436" stroke-width="0.15">Medium-specific</text>
<text x="505.2" y="824.7" fill="#a76436" font-size="10.9" text-anchor="end" stroke="#a76436" stroke-width="0.15">= 1 (0.7%)</text>
<text x="592.5" y="800.3" fill="#56a2a8" font-size="10.9" stroke="#56a2a8" stroke-width="0.15">DEGs = 167</text>
<text x="592.5" y="811.7" fill="#a76436" font-size="10.9" stroke="#a76436" stroke-width="0.15">Medium-specific</text>
<text x="592.5" y="824.7" fill="#a76436" font-size="10.9" stroke="#a76436" stroke-width="0.15">= 0</text>
<text x="685.5" y="1003.0" fill="#889dc4" stroke="#889dc4" stroke-width="0.35" font-size="8.6" font-style="italic" text-anchor="end">P = 0.05</text>
<path d="M513.4 991.4 L515.2 992.3 L517.0 993.3 L518.8 994.3 L520.6 995.3 L523.1 996.9 L525.7 998.5 L528.2 1000.1 L530.7 1001.7 L531.1 1001.8 L531.5 1002.0 L531.8 1002.2 L532.2 1002.3 L534.4 1003.3 L536.5 1004.3 L538.6 1005.2 L540.8 1006.2 L543.2 1006.6 L545.7 1007.1 L548.1 1007.5 L550.6 1008.0 L554.4 1006.9 L558.2 1005.7 L562.1 1004.6 L565.9 1003.5 L567.0 1003.1 L568.0 1002.7 L569.0 1002.2 L570.1 1001.8 L571.7 1001.2 L573.2 1000.5 L574.8 999.9 L576.4 999.2 L578.5 997.3 L580.5 995.5 L582.6 993.6 L584.7 991.7 L585.5 990.8 L586.3 990.0 L587.1 989.2 L587.9 988.3 L587.9 1006.6 L587.1 1006.7 L586.3 1006.8 L585.5 1006.9 L584.7 1007.0 L582.6 1007.2 L580.5 1007.5 L578.5 1007.7 L576.4 1008.0 L574.8 1008.1 L573.2 1008.3 L571.7 1008.5 L570.1 1008.7 L569.0 1008.8 L568.0 1008.8 L567.0 1008.9 L565.9 1008.9 L562.1 1009.2 L558.2 1009.4 L554.4 1009.6 L550.6 1009.8 L548.1 1009.7 L545.7 1009.6 L543.2 1009.5 L540.8 1009.4 L538.6 1009.3 L536.5 1009.3 L534.4 1009.2 L532.2 1009.1 L531.8 1009.1 L531.5 1009.1 L531.1 1009.1 L530.7 1009.0 L528.2 1008.9 L525.7 1008.8 L523.1 1008.7 L520.6 1008.6 L518.8 1008.5 L517.0 1008.5 L515.2 1008.4 L513.4 1008.3Z" fill="#3b3b3b"/><path d="M549.0 1007.7h0M559.9 1008.8h0M583.1 1003.1h0M567.9 1001.4h0M518.9 999.3h0M516.6 989.7h0M533.8 1008.4h0M560.5 1007.3h0M521.7 1004.3h0M553.0 1009.0h0M573.5 1005.8h0M558.6 1008.2h0M576.1 1005.9h0M560.2 1007.8h0M521.2 1004.1h0M542.8 1006.0h0M550.8 1009.9h0M538.1 1003.9h0M569.5 1003.8h0M519.3 1002.1h0M552.6 1007.8h0M522.8 995.6h0M572.3 1002.1h0M523.6 996.8h0M558.2 1007.7h0M521.5 1005.2h0M521.1 992.2h0M585.2 1001.8h0M526.4 997.8h0M553.5 1007.1h0M560.5 1005.9h0M543.8 1008.2h0M519.8 1000.9h0M519.0 992.9h0M580.4 993.3h0M574.9 999.5h0M541.9 1006.2h0M579.5 995.1h0M522.5 1003.5h0M529.7 1001.5h0M515.4 998.9h0M520.5 994.2h0M543.3 1008.5h0M566.9 1002.0h0M529.8 1005.5h0M557.5 1009.3h0M553.9 1006.9h0M518.7 1002.2h0M558.5 1006.2h0M544.3 1007.1h0M581.1 993.5h0M538.1 1004.4h0M577.9 995.4h0M579.6 998.7h0M553.1 1008.0h0M553.9 1007.1h0M575.6 1002.7h0M569.0 1009.0h0M562.3 1008.2h0M524.1 1006.8h0M568.4 1006.5h0M549.4 1009.7h0M527.9 1006.7h0M528.4 1003.8h0M517.8 1000.4h0M544.0 1008.1h0M562.8 1004.0h0M565.5 1005.0h0M578.6 1004.9h0M533.5 1003.8h0M579.2 1006.8h0M579.0 1000.5h0M556.8 1009.5h0M522.7 1000.0h0M525.7 998.3h0M567.1 1009.0h0M545.5 1009.8h0M530.7 1000.7h0M582.8 1006.0h0M540.3 1005.6h0M586.4 992.5h0M581.9 993.1h0M578.7 1005.4h0M515.9 998.9h0M561.1 1006.2h0M515.4 999.4h0M572.2 1008.1h0M525.6 1002.8h0M555.4 1006.7h0M558.0 1006.0h0M561.8 1009.3h0M559.7 1008.7h0M525.0 995.0h0M536.0 1005.6h0M546.8 1008.4h0M533.3 1005.9h0M572.9 1007.0h0M516.0 1003.3h0M551.0 1008.3h0M552.7 1009.4h0M584.9 988.5h0M526.3 999.4h0M552.5 1007.3h0M558.8 1004.5h0M568.4 1001.3h0M528.2 1007.2h0M538.0 1004.4h0M558.5 1008.2h0M524.2 995.1h0M566.7 1003.2h0M581.7 996.5h0M523.6 995.4h0M559.4 1004.3h0M576.9 997.6h0M552.4 1008.6h0M528.1 1004.0h0M539.1 1004.6h0M556.2 1008.4h0M552.0 1009.3h0M550.8 1009.0h0M516.5 993.6h0M574.1 1006.6h0M542.0 1007.9h0M536.6 1005.3h0M570.0 1004.5h0M548.6 1008.1h0M547.6 1007.6h0M540.5 1006.7h0M581.0 993.6h0M545.4 1008.8h0M520.7 1006.2h0M557.3 1008.2h0M523.1 999.8h0M534.6 1003.4h0M517.4 996.3h0M529.9 1003.1h0" stroke="#383838" stroke-opacity="0.55" stroke-width="3.1" stroke-linecap="round" fill="none"/><path d="M557.0 1006.2h0M557.6 1006.2h0M551.6 1008.5h0M580.0 1001.9h0M515.8 990.8h0M578.4 1000.7h0M576.8 1001.0h0M517.1 1001.7h0M537.7 1006.2h0M577.7 1006.3h0M562.9 1007.4h0M555.4 1005.7h0M524.9 1005.2h0M544.0 1007.0h0M581.6 995.1h0M541.0 1007.4h0M540.9 1005.6h0M528.1 1004.3h0M580.0 992.8h0M543.8 1007.7h0M552.0 1009.2h0M563.0 1007.4h0M581.9 1000.9h0M578.8 1002.2h0M525.9 1005.5h0M543.7 1006.2h0M575.2 997.7h0M549.6 1007.4h0M576.8 999.1h0M527.1 999.6h0M537.9 1007.1h0M540.7 1007.7h0M574.2 998.2h0M582.1 993.7h0M562.0 1004.6h0M580.5 1002.9h0M570.4 1006.5h0M522.3 995.7h0M514.9 997.4h0M543.9 1008.8h0M580.5 998.5h0M518.0 1005.0h0M535.6 1007.3h0M586.5 999.6h0M522.3 998.3h0M566.5 1007.9h0M549.2 1007.6h0M561.3 1004.0h0M541.4 1006.4h0M567.8 1008.1h0M582.2 995.7h0M575.3 1006.3h0M575.6 1006.4h0M537.7 1007.5h0M562.8 1006.3h0M516.2 991.5h0M576.3 999.3h0M586.5 992.5h0M517.8 1005.1h0M538.8 1005.3h0M537.3 1007.2h0M536.1 1007.2h0M577.2 1002.0h0M585.6 993.2h0M578.8 996.6h0M567.6 1003.7h0M546.8 1008.6h0M585.2 1003.7h0M548.0 1007.7h0M543.4 1009.3h0M557.3 1005.0h0M527.0 1003.2h0M520.5 999.8h0M525.4 1003.4h0M529.5 1007.4h0M579.3 993.6h0M568.4 1008.3h0M519.2 1004.8h0M560.1 1009.3h0M527.6 1004.7h0M578.4 1003.5h0M544.7 1006.7h0M553.2 1009.3h0M539.0 1006.4h0M552.9 1007.6h0M563.7 1005.5h0M519.0 1002.2h0M530.8 1000.7h0M559.0 1008.3h0M568.5 1003.2h0M517.1 993.4h0M524.3 1001.2h0M555.7 1007.9h0M562.6 1007.8h0M551.9 1008.8h0M531.3 1006.3h0M570.8 1004.4h0M520.9 993.7h0M560.6 1004.7h0M556.2 1007.7h0M558.8 1004.4h0M526.1 1000.5h0M581.8 995.1h0M579.2 1002.8h0M557.0 1005.2h0M541.5 1006.1h0M582.6 995.9h0M533.7 1002.8h0M576.6 999.8h0M521.1 995.0h0M526.3 1002.9h0M571.4 1000.6h0M517.8 995.6h0M554.8 1006.2h0M544.3 1008.1h0M582.4 997.5h0M544.0 1009.3h0M546.2 1007.3h0M534.7 1008.4h0M568.3 1002.3h0M515.6 1007.8h0M560.6 1007.5h0M532.3 1004.5h0M567.3 1004.8h0M582.4 994.4h0M539.3 1004.8h0M546.3 1007.7h0M527.1 998.9h0M553.4 1009.4h0M514.7 990.1h0M537.9 1007.0h0M527.1 998.9h0M542.9 1005.6h0M554.3 1007.9h0M547.4 1007.9h0M568.5 1006.1h0" stroke="#383838" stroke-opacity="0.55" stroke-width="3.1" stroke-linecap="round" fill="none"/><path d="M573.1 1008.6h0M517.3 1005.8h0M520.9 1005.8h0M523.3 993.9h0M568.9 1007.5h0M585.6 1001.2h0M556.8 1007.7h0M543.9 1008.7h0M521.3 993.3h0M554.0 1007.9h0M528.9 998.7h0M537.1 1007.1h0M583.2 1000.8h0M580.4 996.8h0M583.3 994.0h0M567.4 1006.3h0M523.5 1007.7h0M541.5 1006.0h0M523.0 995.7h0M562.8 1005.6h0M578.6 998.2h0M562.1 1007.0h0M582.6 1002.9h0M526.4 1008.3h0M548.9 1009.1h0M556.6 1009.3h0M515.2 992.0h0M566.2 1008.5h0M582.2 999.7h0M519.1 1005.5h0M585.7 1003.9h0M552.5 1009.8h0M531.8 1004.2h0M567.3 1006.8h0M579.2 997.6h0M578.5 995.9h0M526.7 997.3h0M554.0 1009.5h0M572.7 1000.5h0M538.3 1003.8h0M564.8 1005.1h0M559.7 1004.9h0M578.9 1002.5h0M565.1 1006.0h0M533.2 1005.3h0M582.0 998.3h0M570.3 1004.4h0M562.8 1004.6h0M564.6 1002.4h0M582.4 991.3h0M548.8 1008.0h0M546.2 1007.7h0M575.9 1006.5h0M562.3 1005.5h0M551.9 1008.2h0M533.3 1001.8h0M543.9 1006.2h0M522.2 999.9h0M559.3 1005.0h0M516.0 997.5h0M584.5 990.3h0M560.8 1004.7h0M557.1 1009.5h0M515.1 1006.5h0M531.6 1000.9h0M538.5 1006.8h0M532.8 1000.8h0M569.2 1003.4h0M568.9 1006.5h0M539.8 1009.0h0M529.3 1000.4h0M559.8 1007.0h0M537.1 1007.1h0M560.3 1009.0h0M580.1 995.5h0M563.7 1004.6h0M548.4 1009.6h0M545.1 1006.2h0M581.7 991.6h0M533.5 1005.2h0M537.3 1006.2h0M560.6 1007.6h0M541.5 1007.6h0M559.4 1007.2h0M529.3 1006.6h0M570.6 1008.2h0M550.8 1007.5h0M565.4 1007.6h0M534.8 1003.0h0M520.0 1005.8h0M579.9 995.6h0M544.3 1008.3h0M540.2 1009.7h0M547.1 1007.8h0M526.0 1000.0h0M519.2 990.6h0M517.0 998.5h0M556.4 1006.3h0M541.6 1006.9h0M522.1 1008.7h0M521.7 997.3h0M537.6 1008.2h0M536.8 1007.3h0M576.7 997.2h0M563.7 1004.9h0M562.4 1004.1h0M570.4 1007.0h0M573.9 1005.4h0M556.0 1005.9h0M573.1 1004.4h0M574.2 1001.2h0M566.8 1008.3h0M552.7 1008.0h0M539.3 1007.2h0M580.9 1006.6h0M541.1 1006.8h0M537.3 1004.6h0M515.5 997.8h0M519.6 999.5h0M538.2 1007.6h0M531.4 1005.7h0M554.3 1009.7h0M536.9 1004.7h0M556.8 1005.4h0M575.6 1005.9h0M528.5 1007.4h0M541.2 1006.3h0M570.6 1003.6h0M567.0 1005.7h0M546.3 1007.3h0M572.6 1006.4h0M572.5 999.6h0M541.6 1009.6h0M572.3 1000.7h0M583.7 989.2h0M514.8 998.1h0" stroke="#383838" stroke-opacity="0.55" stroke-width="3.1" stroke-linecap="round" fill="none"/><path d="M534.5 1006.8h0M545.5 1006.9h0M560.0 1007.0h0M584.2 998.0h0M547.7 1007.2h0M586.3 991.4h0M560.6 1007.6h0M548.2 1008.3h0M530.8 1001.3h0M573.8 1003.0h0M576.2 1004.8h0M560.2 1005.3h0M577.0 1004.2h0M554.4 1009.2h0M532.5 1003.8h0M569.4 1003.0h0M553.7 1007.2h0M557.4 1008.5h0M557.2 1009.3h0M580.2 1005.8h0M559.4 1008.4h0M527.4 997.8h0M544.3 1006.7h0M556.9 1008.3h0M575.4 997.4h0M550.2 1008.0h0M535.8 1002.9h0M574.8 1005.8h0M521.6 995.4h0M536.1 1004.6h0M586.3 997.9h0M517.8 990.3h0M526.8 1000.8h0M582.0 996.0h0M527.1 999.4h0M575.2 999.1h0M562.2 1007.1h0M539.0 1004.9h0M566.2 1002.7h0M544.0 1007.0h0M557.6 1008.7h0M561.3 1007.9h0M517.3 1007.5h0M550.7 1009.1h0M556.6 1005.5h0M541.5 1007.5h0M556.8 1005.9h0M558.1 1007.2h0M544.4 1008.1h0M579.7 1002.5h0M582.7 999.9h0M517.8 992.1h0M539.8 1005.5h0M557.3 1006.9h0M586.2 1001.8h0M583.6 996.0h0M548.5 1008.5h0M542.7 1008.2h0M566.8 1006.8h0M537.7 1008.7h0M548.7 1009.4h0M581.5 1006.4h0M575.2 1003.6h0M572.3 1003.1h0M581.4 991.6h0M543.4 1005.8h0M524.8 996.9h0M552.8 1008.7h0M541.8 1007.5h0M561.8 1004.3h0M536.0 1003.7h0M559.0 1009.5h0M520.4 999.2h0M523.2 993.4h0M546.9 1007.4h0M530.8 1000.3h0M558.1 1008.2h0M583.3 1004.4h0M575.6 1002.5h0M546.0 1007.4h0M558.7 1007.6h0M515.3 989.5h0M578.0 995.0h0M542.4 1009.4h0M564.9 1004.7h0M556.5 1006.9h0M559.4 1004.8h0M557.3 1006.0h0M539.2 1007.7h0M550.0 1007.2h0M535.8 1008.1h0M563.0 1007.5h0M557.3 1009.2h0M569.7 1000.0h0M544.0 1006.3h0M566.2 1006.7h0M566.7 1005.9h0M521.6 1005.2h0M524.1 995.5h0M528.4 1001.6h0M572.9 1008.3h0M528.7 998.9h0M546.0 1008.6h0M570.3 1000.3h0M575.0 997.6h0M535.2 1006.5h0M583.1 1006.0h0M572.3 1002.2h0M557.4 1006.1h0M538.7 1009.1h0M527.1 1005.6h0M520.1 995.3h0M561.9 1006.4h0M549.9 1008.5h0M523.2 1008.6h0M583.4 991.3h0M529.7 1002.5h0M554.0 1006.1h0M566.1 1003.5h0M550.9 1007.5h0M569.8 1002.1h0M568.1 1003.6h0M542.3 1009.6h0M514.8 1001.4h0M529.9 1001.3h0M583.1 989.5h0M543.7 1008.4h0M531.9 1007.6h0M586.7 991.4h0M585.7 990.8h0M576.1 1004.9h0M533.5 1005.5h0M556.2 1006.7h0M543.7 1008.9h0M542.3 1007.9h0" stroke="#383838" stroke-opacity="0.55" stroke-width="3.1" stroke-linecap="round" fill="none"/><path d="M542.6 1009.3h0M525.1 1001.0h0M557.1 1008.1h0M567.8 1003.3h0M539.9 1006.6h0M546.2 1006.5h0M570.3 1002.6h0M518.3 1008.1h0M563.8 1003.5h0M554.0 1007.0h0M531.8 1000.2h0M565.7 1004.3h0M530.3 1005.3h0M558.5 1005.1h0M563.8 1005.2h0M578.3 998.2h0M564.5 1008.2h0M578.4 1007.4h0M536.4 1008.3h0M547.3 1006.6h0M571.0 1001.4h0M557.2 1006.2h0M564.3 1007.6h0M571.1 1004.5h0M567.5 1003.2h0M559.2 1004.5h0M523.5 1000.1h0M576.3 997.5h0M554.2 1008.2h0M546.5 1007.3h0M533.9 1002.8h0M582.4 998.9h0M544.8 1007.8h0M557.2 1008.3h0M530.2 1000.4h0M572.3 1000.3h0M569.1 1004.0h0M546.4 1009.1h0M586.6 997.9h0M566.7 1006.4h0M571.2 1005.5h0M575.1 1004.9h0M568.9 1003.3h0M522.8 995.7h0M526.8 1003.8h0M551.2 1008.4h0M539.2 1005.2h0M570.5 1000.8h0M551.7 1008.2h0M563.1 1004.2h0M525.6 996.6h0M548.5 1008.6h0M561.3 1008.2h0M555.4 1006.5h0M543.3 1006.4h0M559.9 1005.8h0M516.9 1004.3h0M582.9 989.3h0M545.9 1009.7h0M522.8 997.5h0M565.1 1004.4h0M544.4 1007.2h0M565.1 1008.4h0M542.8 1005.8h0M570.3 1008.1h0M524.7 1001.4h0M518.2 1002.7h0M543.1 1009.1h0M584.8 1002.5h0M520.1 1000.3h0M544.7 1007.6h0M518.4 992.4h0M536.9 1004.4h0M539.0 1004.2h0M583.9 992.6h0M561.5 1003.4h0M523.7 1002.3h0M552.8 1007.3h0M535.7 1005.3h0M544.7 1006.1h0M580.9 1003.2h0M545.1 1007.5h0M532.9 1007.5h0M555.9 1008.7h0M543.1 1006.6h0M546.3 1007.5h0M541.3 1006.3h0M568.2 1001.6h0M539.2 1005.0h0M577.6 999.9h0M526.4 1002.2h0M531.5 1005.0h0M571.4 1001.8h0M537.1 1004.6h0M581.5 992.6h0M573.1 1003.1h0M564.5 1008.3h0M579.4 1007.3h0M577.7 1006.7h0M522.8 1002.0h0M582.9 994.1h0M525.8 1007.1h0M554.7 1007.8h0M518.2 990.7h0M574.2 1001.8h0M577.8 1005.7h0M560.6 1004.9h0M548.4 1008.5h0M543.5 1008.9h0M550.6 1007.5h0M563.6 1005.3h0M560.2 1004.7h0M524.7 997.8h0M525.0 1006.9h0M525.3 999.7h0M545.0 1006.6h0M522.0 1000.5h0M552.6 1006.9h0M570.2 1006.4h0M578.6 997.1h0M530.4 999.4h0M545.7 1009.1h0M525.1 1008.8h0M522.1 998.8h0M530.3 1001.5h0M537.9 1008.2h0M545.3 1007.7h0M543.8 1008.5h0M563.1 1005.9h0M542.9 1008.0h0M515.7 995.4h0M547.8 1008.8h0M578.7 998.1h0M528.1 1003.8h0M566.1 1006.3h0" stroke="#383838" stroke-opacity="0.55" stroke-width="3.1" stroke-linecap="round" fill="none"/><path d="M579.7 1001.9h0M515.8 996.3h0M539.1 1008.3h0M583.1 993.9h0M517.3 996.9h0M577.4 998.1h0M573.1 1003.5h0M547.6 1007.7h0M558.0 1007.0h0M533.9 1001.2h0M557.6 1007.1h0M550.5 1007.6h0M517.4 992.6h0M576.2 1003.9h0M581.7 1002.1h0M532.4 1000.8h0M565.2 1002.5h0M574.8 1001.7h0M522.4 1004.1h0M532.8 1008.1h0M577.9 1002.8h0M526.7 1008.4h0M554.0 1007.2h0M565.8 1005.1h0M518.8 996.9h0M585.5 987.3h0M553.9 1007.8h0M543.4 1008.0h0M570.3 1003.4h0M525.1 997.4h0M542.9 1009.1h0M537.2 1007.0h0M563.2 1003.9h0M561.1 1007.4h0M535.3 1002.2h0M548.6 1007.0h0M564.5 1005.6h0M550.4 1009.6h0M555.8 1006.7h0M526.3 996.6h0M566.4 1001.7h0M547.4 1006.7h0M551.0 1009.2h0M532.3 1009.3h0M540.7 1006.9h0M552.6 1008.7h0M577.5 1001.8h0M583.6 990.5h0M521.0 996.0h0M519.7 1005.5h0M516.1 993.3h0M541.4 1008.7h0M521.6 998.2h0M539.2 1007.1h0M571.4 1008.6h0M565.6 1007.0h0M520.4 997.2h0M573.3 998.8h0M532.9 1003.4h0M540.1 1007.1h0M578.9 997.2h0M570.2 1001.6h0M566.5 1006.3h0M583.5 989.0h0M519.2 991.9h0M547.4 1006.9h0M532.2 1000.5h0M517.5 994.6h0M574.2 999.6h0M577.8 999.4h0M565.5 1004.9h0M548.3 1009.2h0M580.8 994.7h0M515.7 1001.9h0M577.6 1004.9h0M584.5 1002.2h0M524.3 998.3h0M552.1 1008.5h0M551.5 1008.6h0M558.3 1008.0h0M552.2 1007.6h0M534.3 1001.6h0M532.7 1005.0h0M530.4 1003.7h0M524.5 1001.9h0M531.6 1003.1h0M583.9 991.3h0M574.9 998.5h0M540.9 1009.4h0M530.2 1001.1h0M582.9 999.4h0M564.4 1006.2h0M537.8 1004.8h0M521.5 999.9h0M532.2 1005.3h0M555.4 1006.8h0M566.8 1003.7h0M527.3 1000.8h0M534.0 1008.2h0M540.1 1006.8h0M582.8 1001.7h0M543.4 1008.6h0M577.4 997.8h0M561.9 1007.8h0M564.3 1007.0h0M579.2 995.5h0M567.0 1006.6h0M560.2 1005.8h0M581.9 991.2h0M574.1 1002.5h0M531.3 1006.6h0M570.2 1004.3h0M582.6 997.5h0M558.4 1008.2h0M544.0 1006.1h0M584.8 998.7h0M562.3 1008.6h0M578.2 996.0h0M524.5 1008.2h0M565.9 1003.9h0M516.2 996.5h0M523.8 1002.1h0M543.8 1007.6h0M574.0 1001.4h0M554.3 1006.0h0M543.2 1008.5h0M562.1 1003.2h0M576.7 1002.2h0M519.3 1005.5h0M536.1 1006.3h0M534.1 1007.0h0M535.2 1005.2h0M530.0 1005.1h0M538.4 1007.9h0M530.9 1002.8h0" stroke="#383838" stroke-opacity="0.55" stroke-width="3.1" stroke-linecap="round" fill="none"/><path d="M513.4 978.4h0M517.7 983.5h0M520.6 990.7h0" stroke="#555" stroke-opacity="0.6" stroke-width="3.2" stroke-linecap="round" fill="none"/><path d="M407.5 811.4h0M468.4 905.0h0M470.8 925.5h0M452.8 934.0h0M481.6 943.8h0M480.6 947.4h0M467.9 957.8h0M491.3 958.2h0M479.0 964.0h0M484.5 962.1h0M500.4 967.3h0M506.9 967.6h0M506.2 973.1h0M503.0 974.8h0M507.6 976.3h0M475.2 978.4h0M475.9 982.0h0M488.9 978.4h0M491.0 979.9h0M501.8 978.4h0M470.8 985.7h0M477.3 985.7h0M481.6 986.4h0M483.8 984.9h0M486.0 987.8h0M493.9 984.2h0M490.3 990.7h0M485.3 993.6h0M481.6 997.2h0M665.0 793.9h0M597.3 955.8h0M608.8 955.1h0M613.0 955.8h0M601.1 966.7h0M606.7 967.3h0M611.5 964.1h0M608.8 965.8h0M644.4 968.3h0M595.2 971.5h0M593.1 976.7h0M605.7 973.6h0M610.9 976.7h0M611.9 979.8h0M619.9 980.9h0M634.5 982.6h0M650.0 979.8h0M639.6 987.2h0M648.6 988.2h0M632.9 991.3h0M620.3 992.4h0M616.1 993.4h0M643.3 995.1h0M628.7 995.5h0M626.6 997.6h0M635.0 996.6h0M619.3 1001.8h0M504.9 993.1h0M504.3 1002.8h0M497.5 991.9h0M508.1 985.0h0M506.9 987.5h0M498.4 1002.1h0M508.6 993.1h0M508.0 987.6h0M505.2 996.5h0M512.0 1003.4h0M503.4 989.1h0M494.7 989.8h0M504.3 984.7h0M512.0 999.5h0M510.4 994.0h0M506.4 983.7h0M509.8 1003.3h0M502.8 998.7h0M497.1 990.2h0M500.8 1001.1h0M512.6 987.7h0M512.3 999.0h0M495.4 1001.7h0M501.0 985.9h0M511.3 987.9h0M497.6 985.2h0M502.6 995.2h0M497.3 999.9h0M511.9 987.2h0M498.0 988.1h0M501.3 993.5h0M499.8 996.3h0M511.5 996.7h0M495.1 995.1h0M503.7 995.0h0M497.8 992.3h0M499.3 997.0h0M513.2 993.7h0M499.9 985.0h0M495.4 989.2h0M504.1 998.2h0M500.6 1002.5h0M513.1 991.8h0M510.2 995.5h0M497.4 986.7h0M502.7 999.1h0M500.5 998.8h0M507.5 984.5h0M500.2 998.2h0M509.3 986.4h0M506.1 991.0h0M512.4 996.1h0M512.8 1001.9h0M503.7 990.9h0M498.1 989.6h0M509.8 998.7h0M503.3 997.8h0M493.3 993.0h0M501.4 1005.4h0M504.3 996.2h0M501.5 998.9h0M511.5 994.2h0M501.9 995.5h0M504.4 1002.0h0M508.7 991.6h0M495.9 1000.9h0M503.6 989.4h0M497.7 986.8h0M504.7 996.1h0M494.4 996.2h0M591.5 1006.6h0M607.7 991.3h0M592.0 997.1h0M616.9 999.5h0M590.1 982.9h0M610.9 1005.1h0M593.3 992.0h0M614.0 998.8h0M600.2 1006.4h0M605.8 994.0h0M605.8 995.1h0M612.0 1001.6h0M591.0 1005.2h0M602.4 1001.5h0M594.4 989.6h0M616.6 999.8h0M597.3 991.0h0M594.5 1002.4h0M606.9 1001.1h0M600.2 979.4h0M598.6 987.0h0M599.5 988.1h0M598.4 1004.1h0M589.1 988.7h0M604.8 987.6h0M607.8 1000.6h0M598.7 999.2h0M597.0 991.4h0M604.4 993.4h0M607.8 994.8h0M614.3 1004.5h0M612.6 994.7h0M596.4 1002.9h0M600.4 988.1h0M598.1 1004.9h0M592.1 1004.1h0M608.4 1001.3h0M607.3 1003.5h0M589.0 993.9h0M609.4 987.4h0M600.8 983.5h0M607.6 1002.2h0M592.9 1004.6h0M601.7 1004.3h0M604.8 1000.4h0M597.4 990.7h0M599.7 1005.9h0M595.5 1000.9h0M608.8 1006.2h0M613.6 995.6h0M588.6 1006.8h0M614.4 998.2h0M598.1 979.8h0M606.1 1006.1h0M594.1 982.9h0M596.7 1004.6h0M608.2 996.0h0M605.0 994.3h0M602.2 1004.3h0M591.9 1002.9h0M602.3 1001.8h0M589.7 1003.1h0M588.4 995.6h0M592.3 990.6h0M608.0 1004.1h0M610.7 990.4h0M614.1 997.5h0M612.3 996.9h0M588.5 1004.2h0M603.1 994.5h0M601.7 994.1h0M604.9 989.7h0M591.3 1003.3h0M593.9 981.8h0M589.0 1000.7h0" stroke="#3a7775" stroke-width="3.80" stroke-linecap="round" fill="none"/><path d="M407.5 811.4h0M468.4 905.0h0M470.8 925.5h0M452.8 934.0h0M481.6 943.8h0M480.6 947.4h0M467.9 957.8h0M491.3 958.2h0M479.0 964.0h0M484.5 962.1h0M500.4 967.3h0M506.9 967.6h0M506.2 973.1h0M503.0 974.8h0M507.6 976.3h0M475.2 978.4h0M475.9 982.0h0M488.9 978.4h0M491.0 979.9h0M501.8 978.4h0M470.8 985.7h0M477.3 985.7h0M481.6 986.4h0M483.8 984.9h0M486.0 987.8h0M493.9 984.2h0M490.3 990.7h0M485.3 993.6h0M481.6 997.2h0M665.0 793.9h0M597.3 955.8h0M608.8 955.1h0M613.0 955.8h0M601.1 966.7h0M606.7 967.3h0M611.5 964.1h0M608.8 965.8h0M644.4 968.3h0M595.2 971.5h0M593.1 976.7h0M605.7 973.6h0M610.9 976.7h0M611.9 979.8h0M619.9 980.9h0M634.5 982.6h0M650.0 979.8h0M639.6 987.2h0M648.6 988.2h0M632.9 991.3h0M620.3 992.4h0M616.1 993.4h0M643.3 995.1h0M628.7 995.5h0M626.6 997.6h0M635.0 996.6h0M619.3 1001.8h0M504.9 993.1h0M504.3 1002.8h0M497.5 991.9h0M508.1 985.0h0M506.9 987.5h0M498.4 1002.1h0M508.6 993.1h0M508.0 987.6h0M505.2 996.5h0M512.0 1003.4h0M503.4 989.1h0M494.7 989.8h0M504.3 984.7h0M512.0 999.5h0M510.4 994.0h0M506.4 983.7h0M509.8 1003.3h0M502.8 998.7h0M497.1 990.2h0M500.8 1001.1h0M512.6 987.7h0M512.3 999.0h0M495.4 1001.7h0M501.0 985.9h0M511.3 987.9h0M497.6 985.2h0M502.6 995.2h0M497.3 999.9h0M511.9 987.2h0M498.0 988.1h0M501.3 993.5h0M499.8 996.3h0M511.5 996.7h0M495.1 995.1h0M503.7 995.0h0M497.8 992.3h0M499.3 997.0h0M513.2 993.7h0M499.9 985.0h0M495.4 989.2h0M504.1 998.2h0M500.6 1002.5h0M513.1 991.8h0M510.2 995.5h0M497.4 986.7h0M502.7 999.1h0M500.5 998.8h0M507.5 984.5h0M500.2 998.2h0M509.3 986.4h0M506.1 991.0h0M512.4 996.1h0M512.8 1001.9h0M503.7 990.9h0M498.1 989.6h0M509.8 998.7h0M503.3 997.8h0M493.3 993.0h0M501.4 1005.4h0M504.3 996.2h0M501.5 998.9h0M511.5 994.2h0M501.9 995.5h0M504.4 1002.0h0M508.7 991.6h0M495.9 1000.9h0M503.6 989.4h0M497.7 986.8h0M504.7 996.1h0M494.4 996.2h0M591.5 1006.6h0M607.7 991.3h0M592.0 997.1h0M616.9 999.5h0M590.1 982.9h0M610.9 1005.1h0M593.3 992.0h0M614.0 998.8h0M600.2 1006.4h0M605.8 994.0h0M605.8 995.1h0M612.0 1001.6h0M591.0 1005.2h0M602.4 1001.5h0M594.4 989.6h0M616.6 999.8h0M597.3 991.0h0M594.5 1002.4h0M606.9 1001.1h0M600.2 979.4h0M598.6 987.0h0M599.5 988.1h0M598.4 1004.1h0M589.1 988.7h0M604.8 987.6h0M607.8 1000.6h0M598.7 999.2h0M597.0 991.4h0M604.4 993.4h0M607.8 994.8h0M614.3 1004.5h0M612.6 994.7h0M596.4 1002.9h0M600.4 988.1h0M598.1 1004.9h0M592.1 1004.1h0M608.4 1001.3h0M607.3 1003.5h0M589.0 993.9h0M609.4 987.4h0M600.8 983.5h0M607.6 1002.2h0M592.9 1004.6h0M601.7 1004.3h0M604.8 1000.4h0M597.4 990.7h0M599.7 1005.9h0M595.5 1000.9h0M608.8 1006.2h0M613.6 995.6h0M588.6 1006.8h0M614.4 998.2h0M598.1 979.8h0M606.1 1006.1h0M594.1 982.9h0M596.7 1004.6h0M608.2 996.0h0M605.0 994.3h0M602.2 1004.3h0M591.9 1002.9h0M602.3 1001.8h0M589.7 1003.1h0M588.4 995.6h0M592.3 990.6h0M608.0 1004.1h0M610.7 990.4h0M614.1 997.5h0M612.3 996.9h0M588.5 1004.2h0M603.1 994.5h0M601.7 994.1h0M604.9 989.7h0M591.3 1003.3h0M593.9 981.8h0M589.0 1000.7h0" stroke="#4aa3a3" stroke-width="2.68" stroke-linecap="round" fill="none"/><path d="M500.7 989.3h0" stroke="#7a3c1c" stroke-width="3.80" stroke-linecap="round" fill="none"/><path d="M500.7 989.3h0" stroke="#b5541f" stroke-width="2.68" stroke-linecap="round" fill="none"/>
</g>
<rect x="387.2" y="787.5" width="303.8" height="226.70000000000005" fill="none" stroke="#606060" stroke-width="1.3"/>
<line x1="382.7" y1="1009.5" x2="387.2" y2="1009.5" stroke="#555" stroke-width="1"/>
<text transform="translate(379.9,1013.0) scale(0.9,1)" font-size="7.2" text-anchor="end" fill="#2a2a2a" stroke="#2a2a2a" stroke-width="0.05">0</text>
<line x1="382.7" y1="989.0" x2="387.2" y2="989.0" stroke="#555" stroke-width="1"/>
<text transform="translate(379.9,992.5) scale(0.9,1)" font-size="7.2" text-anchor="end" fill="#2a2a2a" stroke="#2a2a2a" stroke-width="0.05">12</text>
<line x1="382.7" y1="968.6" x2="387.2" y2="968.6" stroke="#555" stroke-width="1"/>
<text transform="translate(379.9,972.1) scale(0.9,1)" font-size="7.2" text-anchor="end" fill="#2a2a2a" stroke="#2a2a2a" stroke-width="0.05">24</text>
<line x1="382.7" y1="948.1" x2="387.2" y2="948.1" stroke="#555" stroke-width="1"/>
<text transform="translate(379.9,951.6) scale(0.9,1)" font-size="7.2" text-anchor="end" fill="#2a2a2a" stroke="#2a2a2a" stroke-width="0.05">36</text>
<line x1="382.7" y1="927.6" x2="387.2" y2="927.6" stroke="#555" stroke-width="1"/>
<text transform="translate(379.9,931.1) scale(0.9,1)" font-size="7.2" text-anchor="end" fill="#2a2a2a" stroke="#2a2a2a" stroke-width="0.05">48</text>
<line x1="382.7" y1="907.1" x2="387.2" y2="907.1" stroke="#555" stroke-width="1"/>
<text transform="translate(379.9,910.6) scale(0.9,1)" font-size="7.2" text-anchor="end" fill="#2a2a2a" stroke="#2a2a2a" stroke-width="0.05">60</text>
<line x1="382.7" y1="886.7" x2="387.2" y2="886.7" stroke="#555" stroke-width="1"/>
<text transform="translate(379.9,890.2) scale(0.9,1)" font-size="7.2" text-anchor="end" fill="#2a2a2a" stroke="#2a2a2a" stroke-width="0.05">72</text>
<line x1="382.7" y1="866.2" x2="387.2" y2="866.2" stroke="#555" stroke-width="1"/>
<text transform="translate(379.9,869.7) scale(0.9,1)" font-size="7.2" text-anchor="end" fill="#2a2a2a" stroke="#2a2a2a" stroke-width="0.05">84</text>
<line x1="382.7" y1="845.7" x2="387.2" y2="845.7" stroke="#555" stroke-width="1"/>
<text transform="translate(379.9,849.2) scale(0.9,1)" font-size="7.2" text-anchor="end" fill="#2a2a2a" stroke="#2a2a2a" stroke-width="0.05">96</text>
<line x1="382.7" y1="825.3" x2="387.2" y2="825.3" stroke="#555" stroke-width="1"/>
<text transform="translate(379.9,828.8) scale(0.9,1)" font-size="7.2" text-anchor="end" fill="#2a2a2a" stroke="#2a2a2a" stroke-width="0.05">108</text>
<line x1="382.7" y1="804.8" x2="387.2" y2="804.8" stroke="#555" stroke-width="1"/>
<text transform="translate(379.9,808.3) scale(0.9,1)" font-size="7.2" text-anchor="end" fill="#2a2a2a" stroke="#2a2a2a" stroke-width="0.05">120</text>
<line x1="392.6" y1="1014.2" x2="392.6" y2="1018.7" stroke="#555" stroke-width="1"/>
<text transform="translate(392.6,1027.8) scale(0.9,1)" font-size="7.2" text-anchor="middle" fill="#2a2a2a" stroke="#2a2a2a" stroke-width="0.05">-8.4</text>
<line x1="415.1" y1="1014.2" x2="415.1" y2="1018.7" stroke="#555" stroke-width="1"/>
<text transform="translate(415.1,1027.8) scale(0.9,1)" font-size="7.2" text-anchor="middle" fill="#2a2a2a" stroke="#2a2a2a" stroke-width="0.05">-7.2</text>
<line x1="437.7" y1="1014.2" x2="437.7" y2="1018.7" stroke="#555" stroke-width="1"/>
<text transform="translate(437.7,1027.8) scale(0.9,1)" font-size="7.2" text-anchor="middle" fill="#2a2a2a" stroke="#2a2a2a" stroke-width="0.05">-6.0</text>
<line x1="460.3" y1="1014.2" x2="460.3" y2="1018.7" stroke="#555" stroke-width="1"/>
<text transform="translate(460.3,1027.8) scale(0.9,1)" font-size="7.2" text-anchor="middle" fill="#2a2a2a" stroke="#2a2a2a" stroke-width="0.05">-4.8</text>
<line x1="482.8" y1="1014.2" x2="482.8" y2="1018.7" stroke="#555" stroke-width="1"/>
<text transform="translate(482.8,1027.8) scale(0.9,1)" font-size="7.2" text-anchor="middle" fill="#2a2a2a" stroke="#2a2a2a" stroke-width="0.05">-3.6</text>
<line x1="505.4" y1="1014.2" x2="505.4" y2="1018.7" stroke="#555" stroke-width="1"/>
<text transform="translate(505.4,1027.8) scale(0.9,1)" font-size="7.2" text-anchor="middle" fill="#2a2a2a" stroke="#2a2a2a" stroke-width="0.05">-2.4</text>
<line x1="527.9" y1="1014.2" x2="527.9" y2="1018.7" stroke="#555" stroke-width="1"/>
<text transform="translate(527.9,1027.8) scale(0.9,1)" font-size="7.2" text-anchor="middle" fill="#2a2a2a" stroke="#2a2a2a" stroke-width="0.05">-1.2</text>
<line x1="550.5" y1="1014.2" x2="550.5" y2="1018.7" stroke="#555" stroke-width="1"/>
<text transform="translate(550.5,1027.8) scale(0.9,1)" font-size="7.2" text-anchor="middle" fill="#2a2a2a" stroke="#2a2a2a" stroke-width="0.05">0.0</text>
<line x1="573.1" y1="1014.2" x2="573.1" y2="1018.7" stroke="#555" stroke-width="1"/>
<text transform="translate(573.1,1027.8) scale(0.9,1)" font-size="7.2" text-anchor="middle" fill="#2a2a2a" stroke="#2a2a2a" stroke-width="0.05">1.2</text>
<line x1="595.6" y1="1014.2" x2="595.6" y2="1018.7" stroke="#555" stroke-width="1"/>
<text transform="translate(595.6,1027.8) scale(0.9,1)" font-size="7.2" text-anchor="middle" fill="#2a2a2a" stroke="#2a2a2a" stroke-width="0.05">2.4</text>
<line x1="618.2" y1="1014.2" x2="618.2" y2="1018.7" stroke="#555" stroke-width="1"/>
<text transform="translate(618.2,1027.8) scale(0.9,1)" font-size="7.2" text-anchor="middle" fill="#2a2a2a" stroke="#2a2a2a" stroke-width="0.05">3.6</text>
<line x1="640.7" y1="1014.2" x2="640.7" y2="1018.7" stroke="#555" stroke-width="1"/>
<text transform="translate(640.7,1027.8) scale(0.9,1)" font-size="7.2" text-anchor="middle" fill="#2a2a2a" stroke="#2a2a2a" stroke-width="0.05">4.8</text>
<line x1="663.3" y1="1014.2" x2="663.3" y2="1018.7" stroke="#555" stroke-width="1"/>
<text transform="translate(663.3,1027.8) scale(0.9,1)" font-size="7.2" text-anchor="middle" fill="#2a2a2a" stroke="#2a2a2a" stroke-width="0.05">6.0</text>
</g>
<text x="200.2" y="12.6" font-size="12.8" font-weight="bold" text-anchor="middle" fill="#111"><tspan font-style="italic">S. aureus</tspan> USA300</text>
<text x="538.5" y="12.6" font-size="12.8" font-weight="bold" text-anchor="middle" fill="#111"><tspan font-style="italic">S. aureus</tspan> SH1000</text>
<text x="200.15" y="536.4" font-size="12.8" font-weight="bold" text-anchor="middle" fill="#111"><tspan font-style="italic">E. faecalis</tspan> V583</text>
<text x="538.55" y="536.2" font-size="12.8" font-weight="bold" text-anchor="middle" fill="#111"><tspan font-style="italic">E. faecalis</tspan> ATCC 29212</text>
<text x="3.4" y="15.4" font-size="16.3" font-weight="bold" fill="#000">A</text>
<text x="3.6" y="539.7" font-size="16.3" font-weight="bold" fill="#000">B</text>
<text x="367.6" y="521.3" font-size="11" font-weight="bold" text-anchor="middle" fill="#111">Log2 Ratio (Fold Change)</text>
<text x="367.6" y="1045" font-size="11" font-weight="bold" text-anchor="middle" fill="#111">Log2 Ratio (Fold Change)</text>
<text transform="translate(9.6,130.5) rotate(-90)" font-size="11.1" font-weight="bold" text-anchor="middle" fill="#111">Absolute confidence in BHIg(s)</text>
<text transform="translate(22.8,129) rotate(-90)" font-size="11" text-anchor="middle" fill="#222">(-Log10 Adjusted p-value)</text>
<text transform="translate(9.6,377.8) rotate(-90)" font-size="11.1" font-weight="bold" text-anchor="middle" fill="#111">Absolute confidence in TSBg(s)</text>
<text transform="translate(22.8,376.5) rotate(-90)" font-size="11" text-anchor="middle" fill="#222">(-Log10 Adjusted p-value)</text>
<text transform="translate(9.6,655) rotate(-90)" font-size="11.1" font-weight="bold" text-anchor="middle" fill="#111">Absolute confidence in BHIg(s)</text>
<text transform="translate(22.8,653.5) rotate(-90)" font-size="11" text-anchor="middle" fill="#222">(-Log10 Adjusted p-value)</text>
<text transform="translate(9.6,902.9) rotate(-90)" font-size="11.1" font-weight="bold" text-anchor="middle" fill="#111">Absolute confidence in TSBg(s)</text>
<text transform="translate(22.8,901.5) rotate(-90)" font-size="11" text-anchor="middle" fill="#222">(-Log10 Adjusted p-value)</text>
</svg>
</body></html>
